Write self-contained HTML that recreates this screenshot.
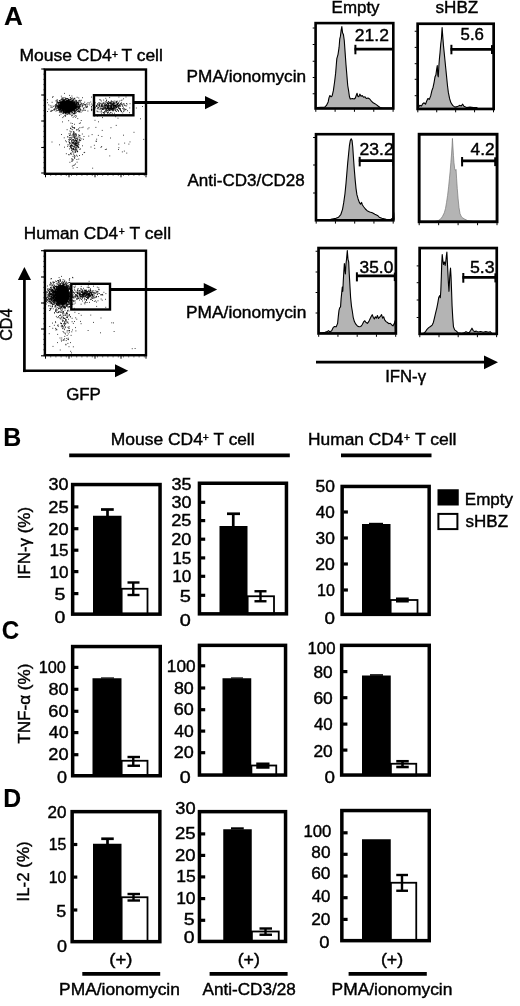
<!DOCTYPE html>
<html lang="en"><head><meta charset="utf-8"><title>Figure</title>
<style>
html,body{margin:0;padding:0;background:#fff}
svg{display:block}
text{font-family:"Liberation Sans",sans-serif;fill:#000;stroke:#000;stroke-width:.4px}
text.b{stroke-width:.1px}
</style></head>
<body>
<svg width="520" height="1006" viewBox="0 0 520 1006">
<rect width="520" height="1006" fill="#fff"/>
<text x="3.95" y="25.30" font-size="25.5" font-weight="700" class="b" textLength="18.84" lengthAdjust="spacingAndGlyphs">A</text>
<text><tspan x="19.57" y="60.70" font-size="16" textLength="92.25" lengthAdjust="spacingAndGlyphs">Mouse CD4</tspan> <tspan x="112.10" y="57.53" font-size="10" textLength="6.01" lengthAdjust="spacingAndGlyphs">+</tspan> <tspan x="121.51" y="60.70" font-size="16" textLength="41.35" lengthAdjust="spacingAndGlyphs">T cell</tspan></text>
<path d="M67.5 103.3h.8M68.8 107.3h.8M66.3 100.1h.8M63.6 109.6h.8M65.5 104.6h.8M63.1 103.7h.8M67.8 107.0h.8M73.4 109.0h.8M65.3 107.0h.8M64.8 109.1h.8M69.7 106.4h.8M69.1 109.6h.8M68.0 109.6h.8M63.4 105.7h.8M67.4 110.2h.8M70.6 106.5h.8M61.6 106.3h.8M65.5 103.3h.8M59.1 105.2h.8M61.8 108.3h.8M59.4 102.2h.8M66.5 107.9h.8M61.9 107.0h.8M68.7 106.8h.8M68.2 99.6h.8M66.7 105.7h.8M56.4 107.9h.8M65.1 103.8h.8M67.3 106.3h.8M68.0 99.1h.8M60.8 107.9h.8M65.4 104.1h.8M63.2 108.5h.8M63.9 100.7h.8M72.2 108.0h.8M63.9 105.3h.8M67.4 108.3h.8M71.4 103.3h.8M64.9 104.2h.8M67.0 112.5h.8M68.0 103.6h.8M67.8 104.0h.8M62.1 105.2h.8M67.8 103.0h.8M73.5 109.5h.8M60.7 111.0h.8M71.3 104.0h.8M68.0 101.0h.8M64.7 109.4h.8M76.3 109.2h.8M70.9 108.4h.8M62.2 109.4h.8M67.8 103.5h.8M70.0 105.5h.8M66.7 102.0h.8M70.5 101.9h.8M67.2 108.8h.8M70.4 104.1h.8M73.8 112.6h.8M64.5 106.2h.8M68.4 104.1h.8M65.5 108.3h.8M68.1 111.2h.8M62.3 107.4h.8M65.0 102.5h.8M66.6 107.1h.8M71.5 110.0h.8M72.5 104.6h.8M61.7 103.8h.8M64.0 108.9h.8M70.3 106.4h.8M58.7 102.8h.8M65.5 104.9h.8M67.1 103.8h.8M73.0 106.9h.8M70.5 106.3h.8M66.1 109.3h.8M65.9 108.1h.8M66.4 101.5h.8M74.2 107.2h.8M65.6 108.6h.8M66.2 107.3h.8M69.1 109.0h.8M67.0 104.4h.8M66.6 103.2h.8M62.6 108.7h.8M67.4 102.9h.8M65.5 99.7h.8M72.6 109.0h.8M70.4 103.9h.8M67.4 105.1h.8M70.4 101.9h.8M66.0 102.2h.8M72.1 102.6h.8M67.5 105.0h.8M70.1 107.1h.8M61.8 99.3h.8M69.0 108.2h.8M60.1 102.6h.8M58.5 102.9h.8M66.2 108.0h.8M63.5 105.8h.8M68.2 101.5h.8M77.4 111.3h.8M63.8 103.5h.8M64.8 106.7h.8M68.4 106.6h.8M69.7 110.1h.8M66.7 104.7h.8M66.6 108.9h.8M70.6 103.8h.8M69.8 109.3h.8M63.0 103.8h.8M67.2 104.9h.8M67.7 111.5h.8M62.9 106.9h.8M68.6 106.3h.8M63.7 112.5h.8M71.8 107.0h.8M68.3 103.6h.8M67.9 108.1h.8M64.9 102.6h.8M67.0 109.3h.8M58.7 109.5h.8M62.5 104.3h.8M69.1 104.2h.8M58.1 106.5h.8M71.2 106.0h.8M59.8 103.2h.8M70.8 107.6h.8M63.8 100.1h.8M70.9 104.7h.8M68.1 104.8h.8M60.7 105.2h.8M73.0 106.9h.8M73.8 102.4h.8M67.2 107.7h.8M66.3 105.5h.8M66.8 104.1h.8M63.2 102.0h.8M72.3 102.6h.8M65.1 107.0h.8M67.3 103.2h.8M64.0 106.2h.8M64.7 109.1h.8M61.9 109.0h.8M73.0 110.5h.8M66.8 105.1h.8M71.8 102.9h.8M67.6 109.0h.8M64.4 106.9h.8M66.1 109.3h.8M65.0 106.0h.8M67.5 109.5h.8M65.8 108.5h.8M66.2 108.1h.8M61.4 107.5h.8M63.9 107.2h.8M74.8 106.7h.8M64.5 106.7h.8M62.9 108.9h.8M69.0 104.5h.8M73.7 111.0h.8M61.1 105.7h.8M66.6 108.9h.8M64.7 105.7h.8M59.8 105.3h.8M70.7 111.9h.8M67.4 105.1h.8M67.8 102.3h.8M64.2 103.9h.8M69.5 105.1h.8M65.1 112.3h.8M66.9 106.6h.8M62.6 108.7h.8M62.1 103.1h.8M73.4 107.0h.8M65.3 107.9h.8M68.8 111.2h.8M67.4 104.0h.8M65.6 107.8h.8M65.3 106.9h.8M70.3 103.0h.8M66.2 105.9h.8M66.8 105.2h.8M67.6 99.3h.8M72.7 107.7h.8M70.5 107.6h.8M69.2 104.7h.8M65.0 102.1h.8M61.4 110.3h.8M71.7 106.8h.8M71.8 108.9h.8M66.9 110.1h.8M69.9 104.5h.8M70.9 108.4h.8M71.2 105.3h.8M71.6 105.8h.8M65.5 105.8h.8M74.2 106.0h.8M62.0 109.2h.8M71.3 106.4h.8M69.7 105.6h.8M71.3 105.2h.8M75.8 107.0h.8M74.0 103.4h.8M62.5 104.5h.8M60.1 105.8h.8M71.1 104.4h.8M63.0 105.7h.8M67.4 104.2h.8M71.2 111.8h.8M60.3 109.9h.8M58.2 107.3h.8M68.6 105.8h.8M67.7 112.4h.8M66.4 106.9h.8M67.7 105.7h.8M63.7 106.9h.8M60.8 106.9h.8M66.8 110.1h.8M63.2 105.9h.8M60.3 112.1h.8M69.7 103.4h.8M67.2 108.0h.8M69.3 103.1h.8M63.1 111.3h.8M64.6 105.0h.8M63.1 105.8h.8M63.6 108.7h.8M68.4 109.6h.8M64.1 102.8h.8M69.1 105.0h.8M69.0 102.0h.8M76.4 106.4h.8M61.4 105.7h.8M71.4 105.0h.8M67.1 104.0h.8M67.4 104.9h.8M61.1 103.8h.8M65.5 107.5h.8M70.8 110.4h.8M67.1 100.4h.8M67.9 105.7h.8M66.2 104.8h.8M72.6 107.4h.8M67.4 103.2h.8M57.8 105.6h.8M64.5 103.0h.8M58.8 108.0h.8M53.2 106.3h.8M65.2 105.5h.8M73.4 107.1h.8M67.7 105.3h.8M62.3 101.5h.8M63.4 107.7h.8M72.5 106.8h.8M68.2 105.6h.8M67.7 108.9h.8M67.3 109.5h.8M67.7 102.8h.8M71.0 103.7h.8M69.9 110.5h.8M68.4 110.1h.8M62.9 103.9h.8M69.7 102.6h.8M64.5 104.2h.8M72.3 104.6h.8M61.9 101.4h.8M66.9 106.1h.8M67.5 102.3h.8M61.7 102.5h.8M75.1 108.7h.8M73.9 104.0h.8M65.5 105.8h.8M70.9 107.8h.8M69.2 108.4h.8M56.0 105.0h.8M68.6 106.1h.8M67.2 103.6h.8M67.9 111.1h.8M62.8 107.9h.8M66.3 102.8h.8M66.7 106.0h.8M72.7 108.1h.8M69.0 107.4h.8M67.5 111.3h.8M74.2 110.0h.8M65.1 104.4h.8M65.8 105.7h.8M59.5 102.3h.8M74.4 106.7h.8M71.7 106.4h.8M71.5 113.8h.8M70.4 106.3h.8M68.0 99.9h.8M68.4 104.1h.8M66.4 106.3h.8M66.6 102.4h.8M67.7 103.5h.8M74.2 104.9h.8M69.9 107.0h.8M67.2 105.5h.8M65.0 103.4h.8M64.7 108.3h.8M74.6 104.4h.8M69.7 104.6h.8M67.8 102.0h.8M66.0 103.7h.8M62.6 107.9h.8M67.2 101.3h.8M71.3 105.8h.8M65.8 108.1h.8M66.5 104.9h.8M66.5 106.7h.8M68.0 102.8h.8M60.5 109.8h.8M66.5 109.2h.8M63.7 106.7h.8M71.4 100.9h.8M64.1 103.0h.8M70.0 108.8h.8M74.2 111.0h.8M66.1 106.9h.8M64.9 109.6h.8M68.3 104.2h.8M67.5 105.5h.8M63.1 106.0h.8M69.5 107.2h.8M76.4 101.6h.8M66.4 108.7h.8M66.6 109.8h.8M62.9 102.7h.8M68.9 102.1h.8M62.0 107.0h.8M62.6 104.1h.8M73.1 99.1h.8M63.5 108.3h.8M72.3 106.5h.8M74.2 104.6h.8M68.6 112.1h.8M69.9 106.4h.8M76.1 103.8h.8M66.6 106.3h.8M64.9 103.0h.8M61.5 103.8h.8M67.7 107.1h.8M74.0 104.4h.8M71.7 104.7h.8M63.4 110.8h.8M63.7 108.5h.8M65.3 108.3h.8M68.8 107.5h.8M66.6 107.4h.8M68.4 110.2h.8M68.8 105.9h.8M66.2 111.4h.8M67.3 103.2h.8M68.4 105.3h.8M67.1 102.0h.8M69.7 105.0h.8M75.7 107.5h.8M70.1 110.2h.8M67.7 104.1h.8M60.1 106.0h.8M69.2 105.0h.8M58.9 103.9h.8M61.3 102.6h.8M71.3 106.2h.8M70.6 101.0h.8M66.8 106.3h.8M60.0 106.1h.8M65.9 104.1h.8M64.5 103.1h.8M70.3 102.0h.8M77.4 111.4h.8M68.5 102.1h.8M64.1 110.5h.8M62.3 107.7h.8M67.3 104.9h.8M66.7 102.6h.8M62.4 109.0h.8M68.0 111.0h.8M62.4 103.3h.8M72.4 105.1h.8M72.2 109.0h.8M72.3 107.0h.8M65.4 111.8h.8M69.8 104.3h.8M66.9 107.6h.8M65.8 102.4h.8M66.0 112.1h.8M61.8 103.9h.8M61.1 99.6h.8M71.0 105.6h.8M66.7 105.6h.8M68.5 111.6h.8M71.9 105.0h.8M59.9 106.0h.8M64.0 107.7h.8M68.3 110.6h.8M69.2 105.8h.8M65.8 109.0h.8M72.0 107.5h.8M68.4 105.1h.8M62.2 106.2h.8M63.4 106.1h.8M71.0 103.3h.8M69.5 109.5h.8M59.1 102.0h.8M73.4 109.4h.8M70.1 108.8h.8M73.4 105.7h.8M65.8 103.8h.8M66.2 105.3h.8M62.5 107.4h.8M78.7 108.2h.8M66.7 106.8h.8M74.5 108.9h.8M64.7 104.4h.8M68.2 106.7h.8M60.1 101.5h.8M65.8 108.2h.8M71.8 106.4h.8M62.0 104.8h.8M72.2 109.4h.8M69.0 108.0h.8M62.9 97.8h.8M65.3 106.1h.8M65.5 101.8h.8M67.3 109.1h.8M65.1 113.2h.8M63.9 104.5h.8M66.2 106.2h.8M63.0 105.3h.8M61.8 107.0h.8M67.3 107.9h.8M71.4 109.7h.8M60.8 103.1h.8M67.5 110.6h.8M64.6 103.3h.8M63.2 106.8h.8M71.3 109.4h.8M65.2 108.1h.8M74.1 103.3h.8M64.1 104.0h.8M69.2 104.7h.8M66.5 105.9h.8M64.2 109.3h.8M70.1 102.3h.8M66.8 107.4h.8M70.2 107.8h.8M67.3 107.6h.8M62.7 107.4h.8M67.1 110.4h.8M67.7 107.4h.8M71.7 108.5h.8M63.5 107.6h.8M67.3 111.2h.8M59.9 100.5h.8M70.4 109.7h.8M62.7 105.2h.8M59.6 105.2h.8M67.2 103.2h.8M72.4 100.6h.8M60.8 104.9h.8M62.7 104.0h.8M64.2 107.4h.8M62.5 101.7h.8M69.2 110.2h.8M63.9 106.8h.8M64.3 105.3h.8M70.1 103.9h.8M64.2 103.7h.8M69.4 102.7h.8M63.2 104.4h.8M62.2 106.0h.8M59.4 105.5h.8M75.7 101.9h.8M66.1 105.2h.8M68.6 103.4h.8M67.4 106.5h.8M68.2 111.4h.8M67.7 107.8h.8M75.9 105.1h.8M62.9 101.3h.8M60.6 101.9h.8M63.0 101.1h.8M61.6 108.1h.8M70.8 103.8h.8M71.1 106.2h.8M63.3 104.2h.8M61.4 106.3h.8M65.9 110.1h.8M73.6 104.0h.8M55.1 105.0h.8M69.8 103.7h.8M62.8 108.5h.8M72.1 103.0h.8M62.8 102.7h.8M66.2 102.0h.8M60.9 101.9h.8M63.2 107.4h.8M73.6 113.5h.8M71.1 103.1h.8M65.7 108.8h.8M63.7 106.7h.8M59.2 102.8h.8M65.8 105.2h.8M67.4 105.3h.8M67.1 104.0h.8M67.1 111.6h.8M62.6 100.5h.8M67.2 107.1h.8M67.3 107.0h.8M73.2 104.3h.8M75.7 106.4h.8M66.9 108.5h.8M64.1 106.4h.8M67.2 107.2h.8M64.8 108.0h.8M64.2 100.1h.8M67.2 110.3h.8M62.9 112.6h.8M70.2 108.8h.8M67.0 108.9h.8M68.6 101.9h.8M66.7 105.7h.8M64.3 103.6h.8M63.3 104.3h.8M66.5 108.8h.8M65.1 103.7h.8M68.5 105.6h.8M67.5 100.5h.8M61.5 105.5h.8M67.8 106.3h.8M61.6 104.0h.8M64.8 103.9h.8M66.2 111.5h.8M58.4 102.5h.8M67.9 103.0h.8M68.2 103.7h.8M66.8 109.5h.8M65.6 112.1h.8M65.9 107.0h.8M63.2 103.9h.8M66.3 104.8h.8M65.1 109.1h.8M67.9 103.4h.8M62.2 110.2h.8M68.5 110.1h.8M68.1 106.2h.8M66.9 107.9h.8M65.6 108.2h.8M69.9 110.5h.8M60.2 103.0h.8M69.5 109.4h.8M68.6 104.9h.8M68.7 103.8h.8M69.2 106.3h.8M64.6 105.4h.8M66.4 103.1h.8M70.3 101.4h.8M69.4 103.3h.8M68.4 110.2h.8M60.8 111.7h.8M69.9 107.9h.8M72.6 109.4h.8M71.9 104.5h.8M68.5 105.8h.8M60.6 106.8h.8M71.6 102.9h.8M66.9 103.1h.8M56.4 106.3h.8M69.2 105.1h.8M60.9 102.9h.8M61.8 107.1h.8M64.7 105.2h.8M73.1 109.0h.8M65.9 106.0h.8M68.7 105.1h.8M75.2 106.4h.8M74.5 105.5h.8M67.0 104.1h.8M66.4 104.8h.8M62.0 108.2h.8M64.4 107.9h.8M69.4 109.7h.8M69.2 101.1h.8M68.0 104.9h.8M71.9 104.8h.8M64.1 106.5h.8M67.3 104.7h.8M70.7 104.5h.8M70.1 108.3h.8M72.2 106.5h.8M69.2 102.6h.8M66.1 109.9h.8M69.1 108.9h.8M63.1 104.3h.8M60.3 108.4h.8M70.1 103.9h.8M67.3 109.3h.8M68.9 105.4h.8M60.0 103.7h.8M65.9 104.9h.8M64.9 103.8h.8M63.7 106.6h.8M57.6 106.5h.8M66.0 106.1h.8M71.4 104.4h.8M69.2 95.4h.8M64.9 106.3h.8M67.4 100.5h.8M70.8 106.7h.8M55.4 109.3h.8M67.0 106.8h.8M69.9 104.9h.8M70.5 105.5h.8M75.0 105.6h.8M72.5 104.4h.8M68.9 104.3h.8M68.8 103.3h.8M71.0 109.4h.8M65.1 106.0h.8M67.3 108.8h.8M71.5 105.3h.8M76.1 106.2h.8M66.8 105.5h.8M67.3 107.3h.8M68.4 108.4h.8M73.4 106.7h.8M67.4 104.0h.8M74.0 103.7h.8M63.2 110.8h.8M66.7 105.2h.8M66.6 105.2h.8M71.0 110.2h.8M72.1 109.2h.8M60.9 107.5h.8M63.5 104.8h.8M69.0 112.8h.8M64.6 107.1h.8M60.8 107.6h.8M72.1 105.5h.8M69.7 101.9h.8M69.7 102.1h.8M65.4 107.2h.8M72.0 107.1h.8M66.4 105.3h.8M72.3 102.6h.8M63.5 101.8h.8M63.7 105.0h.8M68.4 101.8h.8M64.4 108.6h.8M70.5 109.3h.8M68.6 114.2h.8M63.4 108.5h.8M67.8 104.3h.8M66.0 103.5h.8M71.5 96.0h.8M64.7 104.3h.8M65.6 105.5h.8M72.8 108.8h.8M77.3 107.8h.8M76.3 107.7h.8M67.8 106.6h.8M68.5 107.9h.8M74.2 110.2h.8M67.0 102.9h.8M63.2 104.7h.8M68.0 102.0h.8M69.5 110.7h.8M63.9 109.8h.8M60.3 108.2h.8M61.2 102.5h.8M70.4 106.5h.8M64.2 105.3h.8M66.9 106.2h.8M68.4 105.5h.8M70.2 107.5h.8M66.0 104.9h.8M69.7 108.5h.8M63.6 106.7h.8M65.9 105.2h.8M63.0 105.7h.8M72.5 104.7h.8M67.4 108.4h.8M64.2 105.2h.8M65.9 106.9h.8M66.5 104.9h.8M70.6 101.7h.8M60.5 108.6h.8M62.9 102.9h.8M65.8 108.0h.8M78.6 107.2h.8M71.7 101.2h.8M67.0 103.3h.8M70.6 104.5h.8M76.6 103.6h.8M66.5 102.6h.8M65.9 108.1h.8M72.8 105.3h.8M69.7 107.1h.8M70.5 104.8h.8M65.3 106.9h.8M76.0 103.8h.8M75.0 105.9h.8M70.0 107.7h.8M70.5 106.1h.8M58.6 104.7h.8M70.3 102.8h.8M66.6 106.5h.8M69.4 107.0h.8M70.5 105.3h.8M66.0 103.8h.8M60.1 107.6h.8M69.1 113.2h.8M64.2 105.1h.8M66.0 107.0h.8M64.8 107.1h.8M66.0 98.6h.8M57.3 106.4h.8M72.9 104.0h.8M68.6 110.0h.8M72.4 105.3h.8M76.2 103.7h.8M67.6 105.4h.8M59.6 106.5h.8M63.6 104.4h.8M62.2 105.8h.8M65.3 102.1h.8M67.9 105.3h.8M58.7 108.2h.8M69.0 111.7h.8M60.9 108.0h.8M68.8 106.8h.8M67.0 109.4h.8M66.1 109.0h.8M67.2 110.8h.8M65.1 109.1h.8M64.8 105.7h.8M60.1 106.7h.8M67.4 106.5h.8M75.6 106.9h.8M76.2 106.6h.8M73.3 103.7h.8M70.6 99.9h.8M64.5 104.1h.8M73.8 100.1h.8M67.3 106.2h.8M67.2 106.0h.8M66.2 101.1h.8M67.9 108.0h.8M65.6 108.5h.8M67.1 106.3h.8M62.7 110.8h.8M65.9 111.4h.8M77.5 102.5h.8M67.2 109.0h.8M66.4 107.3h.8M69.8 107.2h.8M70.6 108.7h.8M62.6 103.9h.8M66.6 104.3h.8M71.5 103.6h.8M68.7 103.8h.8M68.0 105.7h.8M74.3 101.8h.8M64.5 103.0h.8M67.9 107.7h.8M65.2 105.8h.8M74.1 107.1h.8M58.9 100.5h.8M64.6 103.7h.8M65.2 104.4h.8M70.4 106.1h.8M70.2 104.3h.8M73.6 108.7h.8M60.6 105.8h.8M70.8 106.0h.8M66.2 106.0h.8M64.6 108.1h.8M69.9 104.6h.8M63.5 109.3h.8M58.4 107.3h.8M65.9 106.4h.8M60.9 106.1h.8M64.6 107.5h.8M69.1 108.9h.8M68.9 108.7h.8M74.5 107.1h.8M66.6 108.5h.8M60.8 106.3h.8M64.2 109.6h.8M63.5 105.9h.8M62.1 100.0h.8M69.4 109.9h.8M64.7 106.3h.8M58.8 102.6h.8M70.6 105.4h.8M67.0 103.4h.8M69.1 112.1h.8M68.0 107.4h.8M70.3 101.5h.8M67.7 107.6h.8M72.9 104.8h.8M69.4 111.6h.8M69.2 102.9h.8M69.3 99.5h.8M61.1 106.2h.8M66.8 105.0h.8M66.4 104.8h.8M68.4 99.8h.8M61.5 107.2h.8M74.7 110.9h.8M68.0 100.5h.8M62.2 109.4h.8M60.0 104.4h.8M66.3 112.8h.8M67.1 107.3h.8M64.3 105.5h.8M67.9 109.2h.8M64.7 107.5h.8M69.9 104.3h.8M64.3 108.1h.8M67.3 104.5h.8M71.8 100.8h.8M78.8 111.9h.8M63.1 105.0h.8M65.5 104.2h.8M63.8 107.0h.8M71.0 101.5h.8M62.4 102.1h.8M65.4 104.6h.8M67.4 104.5h.8M63.2 106.2h.8M63.3 109.3h.8M65.4 104.6h.8M58.3 107.4h.8M61.1 107.7h.8M65.7 102.9h.8M68.2 106.7h.8M66.7 103.3h.8M59.7 109.1h.8M65.5 107.3h.8M71.0 106.0h.8M69.9 102.1h.8M67.2 106.3h.8M63.6 103.8h.8M70.3 108.0h.8M65.0 105.7h.8M62.4 103.6h.8M64.0 108.7h.8M73.9 108.1h.8M68.5 104.3h.8M72.6 109.4h.8M65.4 105.1h.8M71.6 105.1h.8M64.9 106.4h.8M66.8 103.8h.8M78.4 104.7h.8M70.9 105.5h.8M65.3 110.4h.8M67.1 110.3h.8M68.9 105.2h.8M72.8 110.7h.8M65.3 105.9h.8M59.8 107.1h.8M66.3 108.6h.8M67.6 106.8h.8M68.0 113.0h.8M73.3 106.7h.8M68.9 102.5h.8M71.1 109.8h.8M62.7 104.8h.8M71.3 105.1h.8M76.7 97.3h.8M70.9 108.9h.8M68.6 108.4h.8M68.2 108.3h.8M75.4 108.8h.8M63.4 110.9h.8M67.0 105.9h.8M69.5 108.7h.8M70.8 103.8h.8M65.6 105.0h.8M68.9 109.1h.8M66.3 107.1h.8M68.0 102.1h.8M66.9 107.0h.8M62.5 105.5h.8M67.4 103.6h.8M71.4 107.3h.8M63.2 104.8h.8M66.4 101.4h.8M70.4 102.8h.8M62.8 111.1h.8M68.3 101.6h.8M62.8 106.6h.8M72.5 107.8h.8M77.7 107.9h.8M76.4 102.4h.8M66.5 105.1h.8M70.8 106.4h.8M68.0 108.3h.8M67.9 104.1h.8M74.3 102.6h.8M61.7 108.9h.8M72.1 109.2h.8M67.3 107.1h.8M73.7 104.2h.8M68.3 107.2h.8M64.5 106.3h.8M68.7 108.4h.8M70.7 102.4h.8M67.7 106.3h.8M69.6 105.5h.8M65.2 102.8h.8M58.1 106.6h.8M71.5 106.1h.8M70.6 104.8h.8M68.2 107.1h.8M67.8 101.9h.8M72.1 105.8h.8M65.5 107.3h.8M64.4 106.8h.8M66.7 109.1h.8M72.7 102.5h.8M61.4 101.6h.8M72.7 106.7h.8M64.7 107.3h.8M62.7 112.1h.8M73.0 107.8h.8M67.1 103.5h.8M61.8 108.3h.8M65.9 103.5h.8M71.6 101.7h.8M72.7 113.6h.8M65.6 106.9h.8M69.3 108.1h.8M70.6 107.6h.8M64.7 111.3h.8M69.1 106.8h.8M67.4 109.5h.8M65.1 103.0h.8M65.3 102.0h.8M67.8 110.1h.8M67.6 110.3h.8M65.0 107.5h.8M65.6 106.7h.8M72.4 106.5h.8M68.4 104.0h.8M71.4 110.5h.8M72.8 107.9h.8M70.1 107.5h.8M77.5 107.1h.8M63.9 109.0h.8M71.1 107.5h.8M66.1 108.2h.8M75.7 102.6h.8M75.0 107.5h.8M58.9 112.3h.8M63.2 104.5h.8M70.4 105.6h.8M71.0 108.6h.8M70.7 108.8h.8M67.2 107.8h.8M69.5 101.3h.8M70.4 107.5h.8M67.2 102.6h.8M72.0 103.6h.8M57.6 107.6h.8M70.3 105.1h.8M63.0 108.3h.8M71.7 115.1h.8M66.5 108.3h.8M63.6 108.1h.8M69.1 103.4h.8M63.5 104.1h.8M63.5 102.9h.8M60.6 104.5h.8M67.4 102.8h.8M69.7 104.1h.8M72.0 105.4h.8M66.9 103.1h.8M72.1 101.9h.8M67.6 102.1h.8M67.1 107.3h.8M70.0 106.2h.8M72.2 109.0h.8M66.0 109.0h.8M66.4 105.0h.8M66.8 107.9h.8M67.9 101.8h.8M63.5 112.6h.8M72.0 109.5h.8M65.7 105.4h.8M69.5 102.6h.8M63.9 107.1h.8M69.1 100.6h.8M69.2 103.7h.8M65.6 108.2h.8M76.4 106.2h.8M69.1 104.6h.8M75.3 108.8h.8M71.7 103.0h.8M64.6 106.8h.8M65.8 104.6h.8M69.4 103.5h.8M67.8 107.3h.8M67.7 103.1h.8M66.2 111.5h.8M59.5 104.3h.8M66.5 111.8h.8M57.7 102.8h.8M69.1 107.8h.8M64.3 102.5h.8M64.4 102.1h.8M66.5 106.5h.8M68.7 108.0h.8M61.2 102.3h.8M59.8 109.4h.8M62.8 103.7h.8M58.5 106.4h.8M63.2 107.1h.8M74.5 107.7h.8M62.9 100.8h.8M70.4 110.7h.8M61.5 107.6h.8M68.8 104.8h.8M66.1 103.0h.8M67.2 101.1h.8M70.0 102.1h.8M75.2 107.6h.8M68.4 105.0h.8M68.0 102.7h.8M63.2 104.5h.8M70.1 110.5h.8M66.4 105.0h.8M71.2 104.3h.8M67.3 109.9h.8M75.2 107.3h.8M58.8 106.1h.8M66.2 104.2h.8M71.4 101.5h.8M66.0 102.6h.8M64.0 104.6h.8M66.3 105.4h.8M61.4 107.0h.8M68.0 107.6h.8M78.2 106.6h.8M72.5 106.6h.8M62.6 103.1h.8M63.7 99.8h.8M65.7 104.5h.8M71.9 103.2h.8M63.9 104.1h.8M64.5 105.2h.8M71.4 102.4h.8M71.3 102.8h.8M65.9 105.7h.8M62.6 106.3h.8M60.7 104.1h.8M64.4 107.4h.8M57.7 105.4h.8M70.8 103.0h.8M64.7 106.1h.8M69.6 111.5h.8M75.7 104.0h.8M72.7 109.4h.8M62.4 110.0h.8M71.3 110.3h.8M72.6 103.6h.8M64.2 111.8h.8M63.3 106.3h.8M67.0 105.3h.8M60.5 105.3h.8M74.0 107.7h.8M56.9 106.1h.8M62.6 105.5h.8M66.3 109.7h.8M66.5 103.9h.8M68.2 103.0h.8M68.7 108.3h.8M66.6 108.0h.8M72.5 109.2h.8M58.1 102.9h.8M67.5 109.1h.8M64.4 107.4h.8M68.1 111.1h.8M68.5 102.4h.8M63.5 106.6h.8M64.7 105.2h.8M71.0 101.4h.8M69.0 103.9h.8M64.5 109.3h.8M76.5 104.6h.8M77.7 103.9h.8M61.1 108.5h.8M68.8 108.9h.8M78.5 108.9h.8M70.9 103.7h.8M68.5 105.8h.8M66.6 109.0h.8M65.1 104.1h.8M66.6 103.8h.8M65.1 108.4h.8M70.8 110.5h.8M65.7 102.7h.8M65.6 98.5h.8M62.2 101.8h.8M67.3 103.1h.8M63.6 105.6h.8M66.7 107.8h.8M72.1 105.6h.8M69.1 104.0h.8M69.7 106.4h.8M69.1 103.2h.8M67.8 105.9h.8M66.9 104.1h.8M66.1 113.8h.8M70.8 108.4h.8M62.7 103.6h.8M73.4 103.1h.8M67.6 104.7h.8M64.2 101.2h.8M65.3 103.9h.8M64.5 103.9h.8M68.2 108.6h.8M64.3 104.8h.8M72.5 103.7h.8M64.1 102.1h.8M57.5 102.6h.8M64.3 105.8h.8M58.7 105.4h.8M67.3 109.3h.8M72.2 104.2h.8M70.4 109.1h.8M61.6 106.7h.8M64.1 106.0h.8M75.3 100.2h.8M68.9 102.3h.8M67.5 108.2h.8M72.1 110.1h.8M78.3 106.6h.8M73.2 108.2h.8M68.1 104.8h.8M69.1 104.9h.8M70.2 104.1h.8M64.8 108.8h.8M62.8 107.0h.8M67.7 105.3h.8M63.3 105.0h.8M67.2 107.6h.8M67.9 106.9h.8M77.8 103.6h.8M63.8 111.0h.8M67.0 106.7h.8M66.8 106.0h.8M69.4 110.3h.8M72.1 109.0h.8M65.3 105.7h.8M63.9 107.6h.8M60.3 102.9h.8M63.4 104.1h.8M69.9 99.4h.8M67.7 109.5h.8M63.0 100.5h.8M65.9 108.0h.8M67.6 103.6h.8M69.7 103.2h.8M64.9 105.4h.8M66.4 106.8h.8M59.5 107.8h.8M62.4 111.1h.8M74.6 107.0h.8M57.9 108.6h.8M66.0 104.3h.8M68.5 108.1h.8M65.9 106.4h.8M63.9 104.7h.8M67.2 105.7h.8M67.5 105.8h.8M67.1 106.6h.8M59.2 107.2h.8M66.9 104.5h.8M63.7 103.9h.8M65.1 108.2h.8M68.5 101.1h.8M70.3 104.2h.8M71.4 110.5h.8M65.3 98.1h.8M71.6 104.0h.8M72.7 108.0h.8M72.5 101.2h.8M73.6 113.5h.8M66.9 98.5h.8M66.7 110.2h.8M71.1 110.5h.8M61.5 108.7h.8M68.4 105.4h.8M65.2 107.0h.8M65.9 103.4h.8M59.8 108.3h.8M63.6 102.8h.8M67.4 105.2h.8M71.4 108.9h.8M71.9 102.8h.8M67.1 104.9h.8M66.7 106.5h.8M63.8 102.1h.8M69.3 109.4h.8M66.4 107.0h.8M70.2 101.6h.8M75.2 105.9h.8M67.4 103.8h.8M60.9 104.1h.8M63.7 106.2h.8M61.1 103.9h.8M62.2 108.8h.8M73.2 104.0h.8M68.5 108.8h.8M60.8 105.9h.8M70.4 108.5h.8M73.0 104.4h.8M65.9 104.5h.8M64.5 102.7h.8M66.0 107.7h.8M68.8 108.7h.8M70.3 112.1h.8M72.7 109.7h.8M72.8 106.7h.8M72.7 105.4h.8M73.5 107.1h.8M70.4 105.9h.8M60.8 110.2h.8M66.9 108.7h.8M68.9 103.6h.8M65.8 104.0h.8M71.5 110.0h.8M65.9 106.9h.8M63.4 105.3h.8M73.9 109.4h.8M70.4 104.9h.8M68.5 105.2h.8M71.6 104.7h.8M72.2 100.3h.8M69.0 108.5h.8M56.7 102.5h.8M64.5 104.4h.8M65.5 103.8h.8M63.2 108.1h.8M68.4 105.8h.8M72.7 106.0h.8M65.4 101.1h.8M62.5 105.7h.8M76.4 101.7h.8M65.5 106.9h.8M62.1 107.1h.8M68.5 105.9h.8M69.4 111.9h.8M64.4 107.5h.8M71.0 107.7h.8M65.4 106.4h.8M63.4 105.4h.8M68.3 108.8h.8M70.9 109.2h.8M64.7 102.2h.8M69.0 109.1h.8M67.1 107.5h.8M79.9 108.8h.8M64.4 107.4h.8M73.6 102.4h.8M67.3 102.6h.8M66.9 111.3h.8M70.7 106.7h.8M71.4 101.9h.8M73.1 107.0h.8M68.9 104.9h.8M64.9 100.7h.8M65.1 99.4h.8M69.7 101.4h.8M70.1 106.8h.8M73.7 105.9h.8M69.3 105.3h.8M72.2 106.8h.8M74.2 107.7h.8M68.2 99.9h.8M61.0 105.1h.8M62.3 103.6h.8M61.2 102.4h.8M74.5 104.4h.8M63.8 105.6h.8M72.9 105.2h.8M70.1 101.8h.8M75.0 104.6h.8M71.9 111.8h.8M67.0 102.9h.8M66.6 101.1h.8M67.9 106.8h.8M68.3 107.7h.8M65.2 107.3h.8M67.4 102.8h.8M74.6 108.9h.8M60.0 103.7h.8M68.6 102.7h.8M63.5 104.2h.8M68.3 105.7h.8M71.2 108.1h.8M67.2 107.8h.8M70.9 105.9h.8M60.5 108.7h.8M72.4 106.2h.8M64.8 108.6h.8M70.2 101.9h.8M68.3 101.4h.8M56.1 108.2h.8M64.2 102.0h.8M68.5 105.1h.8M74.3 105.7h.8M68.8 104.6h.8M68.6 104.7h.8M61.3 110.0h.8M73.8 98.7h.8M75.5 108.6h.8M67.6 112.7h.8M66.5 106.1h.8M60.4 105.9h.8M71.4 108.1h.8M79.4 111.3h.8M70.7 102.6h.8M73.1 106.3h.8M69.9 105.5h.8M63.2 107.6h.8M73.4 106.5h.8M62.1 107.9h.8M66.6 104.8h.8M68.7 106.1h.8M71.4 104.1h.8M69.3 104.1h.8M69.2 105.6h.8M64.1 105.6h.8M61.8 102.6h.8M67.8 110.6h.8M64.4 105.6h.8M61.7 102.0h.8M61.9 109.2h.8M65.3 103.8h.8M59.3 107.5h.8M61.6 106.0h.8M60.3 106.7h.8M68.3 106.5h.8M69.3 104.3h.8M76.3 106.1h.8M60.9 111.9h.8M64.5 99.5h.8M71.5 106.2h.8M66.5 107.3h.8M66.1 102.9h.8M75.0 102.0h.8M66.0 112.3h.8M62.4 104.9h.8M61.7 112.0h.8M69.0 107.6h.8M68.8 106.2h.8M61.5 107.4h.8M63.2 107.8h.8M69.9 109.4h.8M70.0 107.3h.8M64.7 106.4h.8M70.2 106.5h.8M70.0 109.9h.8M59.7 108.4h.8M66.1 103.1h.8M69.3 104.2h.8M65.0 107.0h.8M58.1 104.2h.8M66.3 104.9h.8M70.8 103.2h.8M74.5 105.2h.8M57.9 107.2h.8M79.0 108.9h.8M62.5 106.0h.8M71.7 112.0h.8M72.9 105.8h.8M71.8 115.3h.8M68.2 108.9h.8M62.4 107.4h.8M70.3 104.6h.8M64.4 97.8h.8M56.4 105.6h.8M79.9 106.5h.8M70.6 111.6h.8M75.5 102.0h.8M63.5 111.5h.8M74.0 105.3h.8M74.5 108.1h.8M74.3 98.6h.8M67.4 106.4h.8M62.2 105.0h.8M66.7 108.0h.8M57.8 106.3h.8M60.0 102.7h.8M67.9 108.7h.8M63.1 108.0h.8M66.8 107.7h.8M67.0 108.9h.8M76.0 109.2h.8M73.2 105.9h.8M67.3 102.1h.8M72.8 102.0h.8M64.1 109.9h.8M66.0 108.1h.8M71.5 106.3h.8M62.0 104.7h.8M66.3 106.1h.8M61.7 106.1h.8M68.0 105.0h.8M74.7 104.0h.8M64.2 112.3h.8M68.5 106.7h.8M63.6 104.2h.8M62.4 102.2h.8M62.1 103.9h.8M73.9 108.1h.8M77.9 108.2h.8M69.6 105.4h.8M64.3 106.1h.8M70.6 105.1h.8M66.0 102.8h.8M71.0 109.8h.8M68.8 107.1h.8M68.7 113.2h.8M70.2 103.8h.8M65.0 105.6h.8M65.7 108.6h.8M59.9 105.3h.8M65.6 102.0h.8M61.2 103.2h.8M66.9 106.3h.8M63.3 107.0h.8M67.9 105.7h.8M69.5 108.9h.8M61.3 108.9h.8M63.9 106.9h.8M63.3 106.1h.8M70.8 105.3h.8M75.0 107.6h.8M71.2 108.7h.8M66.0 106.2h.8M73.9 107.3h.8M60.8 105.1h.8M74.1 101.9h.8M64.6 103.1h.8M55.3 108.2h.8M79.2 107.3h.8M74.4 110.6h.8M63.0 106.2h.8M68.2 108.5h.8M66.6 109.8h.8M67.9 108.9h.8M61.0 104.2h.8M64.5 105.5h.8M69.6 106.4h.8M68.5 103.1h.8M72.8 107.4h.8M67.9 109.0h.8M77.8 104.6h.8M64.4 111.7h.8M68.6 105.2h.8M59.1 105.4h.8M62.0 105.3h.8M73.3 103.9h.8M63.4 107.2h.8M69.8 106.1h.8M67.2 110.8h.8M62.9 107.8h.8M66.0 107.6h.8M65.2 105.4h.8M65.4 101.9h.8M70.8 105.7h.8M70.4 103.5h.8M65.0 108.8h.8M63.5 105.9h.8M68.7 110.8h.8M67.1 108.1h.8M72.0 108.4h.8M79.2 106.7h.8M71.2 106.6h.8M67.3 107.9h.8M66.7 108.7h.8M63.7 103.9h.8M63.5 107.4h.8M63.1 113.6h.8M65.8 105.7h.8M65.6 105.3h.8M70.8 104.0h.8M65.7 101.8h.8M66.6 109.4h.8M62.1 106.2h.8M74.7 106.9h.8M69.7 111.4h.8M75.4 113.3h.8M71.0 103.4h.8M74.1 109.1h.8M66.4 107.8h.8M70.7 107.2h.8M79.4 107.4h.8M62.1 105.9h.8M72.7 110.6h.8M75.0 107.8h.8M69.4 107.0h.8M70.9 109.6h.8M73.1 108.6h.8M64.6 107.3h.8M69.3 107.0h.8M63.6 111.1h.8M64.5 107.5h.8M64.7 105.7h.8M66.9 103.5h.8M68.2 105.0h.8M69.5 103.0h.8M61.1 106.3h.8M76.4 106.8h.8M72.7 100.1h.8M70.8 106.1h.8M65.9 107.9h.8M67.1 106.5h.8M70.0 103.2h.8M69.4 109.7h.8M59.9 104.0h.8M70.8 102.4h.8M80.6 102.9h.8M59.2 106.0h.8M72.0 108.9h.8M69.2 109.4h.8M67.0 106.6h.8M73.7 102.5h.8M62.2 104.1h.8M68.2 103.4h.8M74.1 105.5h.8M66.6 100.9h.8M65.6 106.3h.8M68.0 107.9h.8M65.5 105.6h.8M74.5 107.3h.8M63.4 103.3h.8M71.4 101.8h.8M61.8 104.2h.8M70.5 109.4h.8M67.0 109.0h.8M55.8 104.7h.8M67.5 109.5h.8M62.7 105.1h.8M65.5 110.4h.8M74.5 107.4h.8M62.4 104.7h.8M62.7 108.3h.8M74.0 103.8h.8M68.0 103.3h.8M74.5 101.8h.8M69.0 106.7h.8M63.5 105.8h.8M67.2 105.8h.8M73.1 104.8h.8M71.8 110.2h.8M67.5 104.8h.8M67.7 103.9h.8M67.0 109.6h.8M64.9 110.1h.8M76.2 107.0h.8M67.5 101.0h.8M62.4 104.3h.8M65.3 107.8h.8M70.8 106.1h.8M70.4 110.5h.8M66.9 102.0h.8M64.5 108.0h.8M67.6 104.2h.8M59.9 109.8h.8M61.6 105.8h.8M71.1 109.0h.8M65.3 104.1h.8M69.2 101.9h.8M73.0 102.8h.8M70.4 104.2h.8M67.6 103.0h.8M77.1 109.5h.8M70.5 109.9h.8M65.9 106.8h.8M70.8 103.0h.8M69.3 105.7h.8M63.6 104.0h.8M67.8 110.2h.8M66.8 106.9h.8M58.6 107.4h.8M66.7 104.8h.8M66.2 100.2h.8M65.5 103.8h.8M60.1 102.8h.8M65.9 107.1h.8M67.3 106.3h.8M68.0 103.7h.8M62.4 104.9h.8M70.4 110.5h.8M62.0 103.2h.8M66.5 103.3h.8M73.4 105.3h.8M64.4 104.0h.8M65.2 104.8h.8M72.4 107.5h.8M65.8 111.0h.8M66.2 100.8h.8M68.5 105.9h.8M72.2 106.1h.8M57.5 105.8h.8M63.8 105.5h.8M62.9 105.0h.8M62.6 108.9h.8M63.6 104.7h.8M63.7 105.6h.8M68.9 106.0h.8M63.5 106.3h.8M68.1 105.5h.8M69.3 108.9h.8M64.2 106.0h.8M68.1 106.5h.8M74.9 105.9h.8M69.0 103.1h.8M64.6 103.6h.8M67.2 103.0h.8M63.4 106.6h.8M68.7 103.9h.8M71.4 102.9h.8M63.8 106.7h.8M66.6 107.5h.8M72.5 100.9h.8M65.3 110.9h.8M68.3 106.1h.8M62.9 105.7h.8M63.8 109.1h.8M65.2 106.2h.8M77.1 104.2h.8M65.7 112.4h.8M65.2 102.9h.8M65.0 105.7h.8M66.8 108.5h.8M70.4 102.9h.8M68.3 105.7h.8M76.6 107.1h.8M68.4 113.0h.8M73.9 103.4h.8M68.7 105.9h.8M70.2 107.9h.8M61.1 106.2h.8M66.9 102.5h.8M67.2 107.2h.8M66.4 106.3h.8M58.0 107.3h.8M71.4 109.3h.8M65.8 108.9h.8M65.6 107.2h.8M66.4 106.9h.8M66.5 102.8h.8M69.3 105.6h.8M61.9 106.6h.8M63.4 104.8h.8M68.8 106.3h.8M68.1 103.6h.8M65.8 110.4h.8M65.0 112.2h.8M63.8 104.9h.8M67.2 107.2h.8M72.7 105.3h.8M62.8 109.7h.8M74.2 107.3h.8M71.2 106.2h.8M65.5 105.4h.8M70.9 106.4h.8M61.1 103.1h.8M59.9 108.0h.8M61.8 103.9h.8M65.7 107.6h.8M66.1 106.4h.8M65.2 109.2h.8M67.9 106.0h.8M58.1 109.0h.8M69.7 103.3h.8M61.3 107.8h.8M64.6 105.4h.8M65.7 106.6h.8M62.4 106.2h.8M61.5 108.7h.8M63.1 100.1h.8M67.4 106.9h.8M70.1 101.7h.8M70.0 109.5h.8M63.1 100.3h.8M64.0 103.1h.8M54.9 106.2h.8M79.8 101.3h.8M57.8 103.2h.8M68.4 101.2h.8M63.5 107.4h.8M54.0 109.9h.8M65.0 110.8h.8M72.5 103.4h.8M66.1 107.5h.8M74.6 108.8h.8M64.8 104.4h.8M67.6 105.9h.8M64.6 115.4h.8M70.1 107.4h.8M81.7 110.2h.8M70.2 104.7h.8M69.0 106.7h.8M62.9 99.3h.8M61.8 106.4h.8M78.5 111.5h.8M59.2 115.3h.8M60.7 111.5h.8M66.8 109.4h.8M64.3 106.7h.8M82.2 104.0h.8M49.8 105.8h.8M70.2 109.1h.8M72.8 103.2h.8M59.1 110.4h.8M62.7 102.4h.8M70.7 99.0h.8M79.7 102.2h.8M60.6 99.5h.8M55.7 100.7h.8M74.8 111.3h.8M78.9 105.7h.8M65.0 107.4h.8M50.9 111.4h.8M78.4 111.8h.8M66.0 104.4h.8M75.9 112.1h.8M67.2 108.1h.8M64.7 106.5h.8M64.1 108.4h.8M78.6 100.5h.8M78.3 103.2h.8M51.5 106.0h.8M60.5 109.1h.8M80.8 104.9h.8M64.7 106.0h.8M57.3 110.6h.8M67.5 112.4h.8M66.7 109.7h.8M66.8 111.8h.8M63.9 104.8h.8M65.2 105.2h.8M64.1 107.8h.8M70.0 105.2h.8M61.4 104.4h.8M65.3 113.4h.8M66.4 105.7h.8M77.3 102.4h.8M70.3 108.5h.8M66.7 114.2h.8M71.5 106.8h.8M70.5 111.7h.8M75.7 104.7h.8M71.3 104.4h.8M81.0 103.6h.8M77.6 105.9h.8M67.2 114.2h.8M64.4 101.6h.8M74.1 113.4h.8M71.4 102.3h.8M66.8 105.5h.8M56.4 110.0h.8M53.8 109.1h.8M70.1 107.7h.8M73.3 99.6h.8M73.5 108.0h.8M57.8 102.2h.8M75.3 117.3h.8M63.5 105.6h.8M70.4 107.3h.8M70.6 101.7h.8M61.5 104.5h.8M63.1 101.1h.8M52.0 110.6h.8M60.6 105.4h.8M54.0 108.9h.8M70.8 103.6h.8M68.0 104.4h.8M74.4 111.9h.8M70.2 102.4h.8M62.7 98.9h.8M70.1 108.2h.8M64.6 101.7h.8M72.1 104.7h.8M69.9 110.3h.8M60.1 103.1h.8M67.5 110.2h.8M67.9 103.6h.8M65.2 112.8h.8M74.2 112.1h.8M80.3 104.5h.8M64.7 105.6h.8M64.9 103.0h.8M50.6 107.3h.8M66.5 111.3h.8M64.2 100.4h.8M51.3 110.4h.8M69.7 100.9h.8M71.9 102.9h.8M62.0 99.0h.8M64.7 115.3h.8M60.3 106.7h.8M73.2 107.5h.8M56.1 103.7h.8M65.2 111.0h.8M82.1 97.7h.8M67.9 106.6h.8M71.0 115.8h.8M66.4 104.9h.8M58.7 106.6h.8M67.3 109.3h.8M70.5 103.1h.8M59.8 106.6h.8M70.1 110.5h.8M76.8 107.3h.8M75.5 108.1h.8M55.6 105.0h.8M60.2 107.8h.8M55.4 106.7h.8M75.5 112.6h.8M72.1 109.5h.8M72.8 105.5h.8M60.9 96.2h.8M58.8 109.5h.8M68.1 109.7h.8M68.3 102.6h.8M61.1 98.1h.8M68.6 101.7h.8M72.3 110.4h.8M69.2 102.0h.8M59.7 104.6h.8M51.7 107.4h.8M65.6 111.6h.8M68.7 106.4h.8M65.5 106.1h.8M64.3 104.2h.8M62.3 113.3h.8M72.9 111.0h.8M67.1 106.1h.8M68.4 100.6h.8M60.2 103.2h.8M62.8 108.9h.8M68.7 103.5h.8M60.0 110.2h.8M58.1 108.0h.8M65.0 107.7h.8M76.5 109.2h.8M68.9 108.6h.8M78.4 102.9h.8M66.5 105.1h.8M65.2 116.3h.8M57.1 101.4h.8M63.2 104.5h.8M78.3 111.0h.8M70.0 105.8h.8M73.0 103.1h.8M72.8 100.9h.8M67.4 108.8h.8M66.0 110.8h.8M68.4 112.4h.8M72.5 106.7h.8M70.9 110.9h.8M71.2 102.2h.8M68.7 107.2h.8M61.7 103.7h.8M65.5 107.2h.8M60.4 109.7h.8M75.0 111.0h.8M51.7 102.3h.8M65.9 111.8h.8M85.4 104.5h.8M64.9 102.2h.8M59.0 105.8h.8M67.4 100.4h.8M77.2 106.5h.8M66.3 107.7h.8M72.1 105.7h.8M68.2 108.8h.8M64.7 105.2h.8M91.1 106.5h.8M68.0 100.4h.8M63.5 106.7h.8M63.8 102.9h.8M70.4 104.6h.8M70.6 106.1h.8M73.3 107.3h.8M68.6 99.6h.8M56.8 99.9h.8M71.5 105.2h.8M65.2 108.5h.8M65.4 108.0h.8M56.4 110.2h.8M63.2 112.0h.8M62.0 108.6h.8M67.2 106.4h.8M56.6 102.2h.8M67.9 102.5h.8M68.4 104.5h.8M59.1 107.6h.8M62.8 107.4h.8M61.1 106.5h.8M74.3 105.9h.8M48.5 109.1h.8M64.9 107.4h.8M55.0 107.8h.8M64.3 107.8h.8M73.9 104.2h.8M62.8 102.2h.8M68.5 108.6h.8M61.2 108.3h.8M82.0 105.6h.8M74.3 104.8h.8M76.0 116.1h.8M57.5 103.3h.8M59.2 105.6h.8M75.6 107.6h.8M66.0 101.7h.8M65.6 107.0h.8M70.0 114.1h.8M58.1 110.4h.8M73.3 109.2h.8M67.6 109.0h.8M71.1 107.0h.8M62.5 110.5h.8M71.3 105.8h.8M62.2 104.7h.8M74.7 106.9h.8M76.0 110.3h.8M74.3 107.9h.8M71.4 109.3h.8M72.3 98.0h.8M47.2 111.5h.8M73.8 116.3h.8M65.4 112.1h.8M68.2 105.2h.8M65.4 102.9h.8M57.1 107.7h.8M63.5 102.4h.8M72.4 109.5h.8M78.1 104.3h.8M62.8 110.5h.8M60.7 112.2h.8M78.4 98.0h.8M60.9 107.7h.8M83.1 103.6h.8M67.9 100.6h.8M60.9 103.9h.8M74.9 105.6h.8M80.2 110.8h.8M56.7 100.1h.8M79.2 110.9h.8M65.4 115.0h.8M78.6 109.0h.8M64.6 108.8h.8M55.7 106.4h.8M71.3 101.6h.8M74.4 108.7h.8M83.2 108.1h.8M80.4 109.6h.8M72.7 117.3h.8M65.7 109.6h.8M63.6 108.3h.8M65.3 113.1h.8M61.3 100.9h.8M65.4 101.7h.8M48.4 104.9h.8M68.8 103.7h.8M67.3 109.4h.8M86.7 105.2h.8M73.2 113.8h.8M63.9 112.9h.8M71.7 109.7h.8M58.3 104.9h.8M63.0 109.1h.8M53.5 109.9h.8M78.3 102.0h.8M72.0 108.0h.8M58.7 109.5h.8M67.0 107.4h.8M74.6 113.1h.8M71.2 111.6h.8M70.4 103.0h.8M61.1 107.0h.8M62.7 103.0h.8M68.2 108.9h.8M74.4 102.9h.8M61.3 110.4h.8M59.1 108.1h.8M76.1 110.6h.8M60.5 105.9h.8M75.6 100.4h.8M69.3 113.9h.8M74.1 105.8h.8M80.6 112.3h.8M72.7 108.3h.8M73.3 109.3h.8M60.6 114.2h.8M62.3 107.9h.8M72.3 112.4h.8M79.0 100.3h.8M77.9 110.2h.8M84.9 105.5h.8M69.8 105.9h.8M69.0 106.5h.8M75.0 108.0h.8M67.6 113.5h.8M67.0 98.7h.8M59.6 106.7h.8M74.9 103.5h.8M59.5 111.4h.8M71.3 104.7h.8M56.9 108.4h.8M75.7 104.8h.8M59.8 109.3h.8M73.8 110.8h.8M55.6 104.8h.8M64.2 106.7h.8M76.3 100.5h.8M61.5 107.8h.8M68.0 110.1h.8M63.9 104.2h.8M50.2 111.2h.8M69.8 97.8h.8M70.7 98.7h.8M59.2 100.7h.8M71.8 104.5h.8M61.5 106.6h.8M60.0 106.2h.8M67.6 106.2h.8M62.4 109.5h.8M84.7 104.5h.8M55.8 101.2h.8M73.0 101.3h.8M74.9 115.4h.8M52.7 96.6h.8M54.5 105.8h.8M71.7 112.6h.8M63.9 108.5h.8M70.4 103.0h.8M76.0 106.5h.8M64.7 110.1h.8M59.5 111.6h.8M47.0 102.7h.8M69.0 109.7h.8M60.5 107.6h.8M69.9 111.1h.8M69.2 112.3h.8M57.1 105.1h.8M80.4 100.4h.8M75.6 108.2h.8M73.9 114.0h.8M58.6 109.4h.8M64.4 107.5h.8M63.4 116.6h.8M64.4 102.1h.8M59.1 110.3h.8M70.8 104.1h.8M69.2 106.7h.8M70.2 106.9h.8M63.7 112.9h.8M77.2 102.6h.8M68.9 104.3h.8M47.0 99.8h.8M62.7 108.5h.8M67.1 104.6h.8M74.7 108.3h.8M65.2 102.0h.8M65.6 105.0h.8M62.5 110.9h.8M72.5 105.8h.8M64.1 109.1h.8M63.0 108.7h.8M61.9 105.0h.8M71.7 99.9h.8M63.5 110.6h.8M54.9 107.2h.8M72.2 110.6h.8M62.2 98.0h.8M70.2 99.6h.8M70.3 97.5h.8M76.5 102.8h.8M75.3 110.9h.8M63.2 108.9h.8M66.3 106.4h.8M57.8 107.1h.8M80.1 109.7h.8M70.8 105.2h.8M78.0 108.2h.8M65.1 107.1h.8M52.1 97.3h.8M79.0 104.9h.8M68.2 112.2h.8M68.5 104.8h.8M67.9 105.9h.8M72.3 104.0h.8M71.5 104.5h.8M55.6 111.2h.8M75.7 105.4h.8M63.5 102.2h.8M64.0 93.4h.8M80.5 104.1h.8M74.4 98.2h.8M65.0 98.8h.8M53.6 109.8h.8M68.7 109.5h.8M71.5 98.4h.8M117.0 109.5h.8M114.5 107.4h.8M106.4 104.4h.8M116.3 107.6h.8M100.9 101.0h.8M103.7 105.8h.8M102.1 108.1h.8M104.3 108.6h.8M117.2 104.5h.8M102.8 109.2h.8M104.0 111.9h.8M105.3 105.5h.8M112.8 108.7h.8M109.3 102.3h.8M117.1 101.2h.8M106.9 108.4h.8M103.1 106.8h.8M108.2 107.2h.8M111.7 105.0h.8M105.4 105.8h.8M113.3 108.9h.8M123.3 111.5h.8M107.7 106.0h.8M111.7 102.0h.8M120.2 110.2h.8M107.2 108.3h.8M105.9 108.6h.8M104.3 107.2h.8M114.0 113.2h.8M114.8 106.9h.8M110.4 108.1h.8M111.7 101.5h.8M119.7 105.0h.8M117.0 104.7h.8M102.3 106.6h.8M111.3 107.6h.8M112.0 104.6h.8M116.0 111.5h.8M109.9 103.7h.8M107.1 105.4h.8M108.4 107.3h.8M99.8 103.2h.8M111.2 108.3h.8M107.4 108.4h.8M114.3 105.8h.8M104.6 112.0h.8M108.5 106.9h.8M104.9 107.4h.8M104.4 104.0h.8M115.8 102.0h.8M108.3 104.9h.8M114.2 105.8h.8M104.0 105.4h.8M111.9 108.8h.8M100.3 100.0h.8M108.2 103.5h.8M108.0 101.5h.8M115.0 110.4h.8M112.4 105.1h.8M110.1 105.2h.8M116.7 103.6h.8M112.5 109.2h.8M114.7 105.5h.8M116.2 107.3h.8M110.8 101.0h.8M109.3 109.9h.8M113.3 107.8h.8M108.5 108.2h.8M113.7 110.1h.8M118.4 106.1h.8M116.8 106.2h.8M108.7 108.7h.8M102.9 107.9h.8M110.8 106.0h.8M110.4 106.8h.8M118.4 105.2h.8M108.7 108.7h.8M109.8 109.3h.8M116.0 106.7h.8M108.1 111.9h.8M110.2 102.3h.8M122.3 106.0h.8M120.9 111.5h.8M115.3 105.5h.8M112.9 102.2h.8M104.9 110.6h.8M114.8 108.2h.8M111.6 103.3h.8M112.6 108.8h.8M107.8 103.8h.8M111.1 102.9h.8M110.0 106.2h.8M113.2 105.3h.8M120.5 103.6h.8M113.5 105.6h.8M100.4 103.8h.8M104.9 106.8h.8M100.9 106.6h.8M106.0 108.8h.8M114.8 105.4h.8M113.8 102.9h.8M107.3 103.0h.8M112.9 106.0h.8M106.3 111.0h.8M102.0 109.0h.8M102.1 104.9h.8M105.6 109.3h.8M120.4 103.4h.8M102.5 109.5h.8M119.3 105.6h.8M119.8 108.8h.8M110.0 108.4h.8M110.9 105.9h.8M107.2 107.6h.8M111.0 103.7h.8M115.4 106.5h.8M111.2 109.7h.8M117.6 118.2h.8M118.9 108.6h.8M113.4 106.9h.8M113.3 103.8h.8M110.8 109.6h.8M113.4 102.0h.8M103.9 104.4h.8M113.8 107.7h.8M112.5 103.3h.8M105.6 111.0h.8M125.1 109.7h.8M104.9 105.1h.8M105.5 105.1h.8M113.0 103.0h.8M98.6 102.7h.8M106.0 107.9h.8M101.3 108.4h.8M104.9 107.7h.8M110.3 107.4h.8M113.2 105.1h.8M118.3 107.7h.8M116.4 102.5h.8M118.8 106.7h.8M115.0 110.8h.8M108.1 110.4h.8M118.4 105.4h.8M108.0 105.7h.8M107.2 110.5h.8M121.1 111.7h.8M116.3 102.5h.8M112.6 105.5h.8M116.0 107.3h.8M116.8 110.1h.8M102.3 104.3h.8M110.5 108.5h.8M103.5 105.8h.8M111.9 113.3h.8M106.8 107.9h.8M120.0 106.3h.8M114.5 105.7h.8M105.9 109.6h.8M111.0 108.6h.8M103.3 103.6h.8M111.4 107.3h.8M114.7 102.9h.8M112.8 104.5h.8M98.6 103.0h.8M109.0 102.9h.8M114.4 104.7h.8M113.1 103.9h.8M118.7 108.2h.8M102.8 108.9h.8M114.5 106.0h.8M106.9 103.5h.8M112.4 108.9h.8M113.8 101.0h.8M115.6 101.2h.8M107.4 108.7h.8M112.3 108.5h.8M103.5 109.4h.8M102.0 106.1h.8M114.7 103.1h.8M110.8 105.2h.8M100.6 108.3h.8M105.6 104.5h.8M111.2 104.7h.8M121.2 102.8h.8M117.9 103.4h.8M116.3 109.0h.8M99.5 108.0h.8M110.5 103.4h.8M114.2 103.6h.8M113.7 105.1h.8M113.8 108.2h.8M109.6 103.4h.8M122.5 106.2h.8M120.7 100.6h.8M110.5 103.1h.8M104.8 107.9h.8M124.5 109.2h.8M107.5 103.4h.8M118.9 104.5h.8M123.5 108.9h.8M105.0 105.6h.8M113.0 105.2h.8M108.9 108.1h.8M114.5 107.2h.8M113.2 109.8h.8M123.8 108.9h.8M115.0 105.1h.8M111.1 106.3h.8M118.4 106.5h.8M109.4 102.9h.8M108.7 103.9h.8M125.7 109.4h.8M105.8 102.2h.8M107.9 109.5h.8M111.4 107.5h.8M104.3 106.3h.8M97.4 108.2h.8M118.0 108.0h.8M106.0 110.1h.8M107.6 105.6h.8M108.7 106.0h.8M104.7 106.0h.8M104.1 112.0h.8M112.2 109.3h.8M126.7 104.1h.8M115.9 105.7h.8M116.0 104.7h.8M101.3 106.7h.8M111.0 107.3h.8M103.4 113.1h.8M116.1 101.6h.8M109.6 109.6h.8M111.4 107.9h.8M110.5 104.7h.8M107.3 106.3h.8M101.2 105.3h.8M114.9 106.8h.8M102.1 109.5h.8M103.4 102.4h.8M109.2 110.4h.8M106.5 105.6h.8M112.8 110.9h.8M117.7 107.8h.8M112.7 110.2h.8M112.4 108.3h.8M111.3 109.7h.8M116.7 106.9h.8M99.1 104.4h.8M113.5 108.6h.8M105.1 108.7h.8M103.1 112.6h.8M111.1 101.1h.8M108.6 106.1h.8M114.9 109.7h.8M118.3 103.2h.8M96.0 106.1h.8M110.6 112.6h.8M123.8 110.7h.8M116.8 104.2h.8M120.5 110.7h.8M111.8 110.0h.8M101.8 108.9h.8M103.8 107.8h.8M115.7 107.4h.8M117.3 104.3h.8M106.4 105.3h.8M109.4 108.8h.8M112.8 107.1h.8M99.7 111.9h.8M108.8 105.8h.8M121.6 100.0h.8M125.3 105.8h.8M110.4 107.5h.8M123.0 107.8h.8M107.7 106.9h.8M105.9 104.4h.8M96.6 110.9h.8M117.3 104.9h.8M108.7 108.7h.8M126.3 105.9h.8M113.3 103.4h.8M112.3 110.7h.8M99.4 99.7h.8M120.9 104.3h.8M108.8 107.9h.8M110.1 105.7h.8M96.8 108.8h.8M117.1 106.4h.8M117.6 105.5h.8M107.2 112.8h.8M111.7 106.1h.8M113.7 106.3h.8M117.4 103.7h.8M111.8 104.6h.8M122.3 108.6h.8M109.6 108.3h.8M107.2 106.7h.8M108.1 104.8h.8M94.6 108.7h.8M105.9 102.0h.8M106.0 106.0h.8M107.0 106.6h.8M100.5 106.6h.8M111.5 106.8h.8M102.4 103.3h.8M101.0 110.2h.8M129.6 103.7h.8M118.0 110.6h.8M123.0 98.8h.8M110.4 102.3h.8M120.5 110.5h.8M118.4 105.9h.8M123.2 103.8h.8M135.9 108.0h.8M107.4 102.3h.8M112.7 106.8h.8M109.3 97.6h.8M71.2 104.7h.8M94.5 103.9h.8M110.1 108.7h.8M116.9 110.0h.8M103.6 103.1h.8M122.4 112.9h.8M124.0 104.1h.8M105.4 98.3h.8M125.6 97.0h.8M129.2 112.7h.8M115.0 106.1h.8M99.1 103.9h.8M126.1 103.5h.8M108.2 102.1h.8M105.8 111.9h.8M111.2 106.2h.8M104.1 113.7h.8M121.8 105.7h.8M118.5 97.1h.8M123.4 109.9h.8M116.4 105.0h.8M101.3 105.6h.8M108.2 112.8h.8M119.6 105.4h.8M105.5 111.1h.8M142.1 106.5h.8M107.3 103.5h.8M103.5 108.5h.8M122.6 104.1h.8M118.2 111.4h.8M109.7 110.3h.8M107.5 106.8h.8M114.7 108.9h.8M119.2 108.8h.8M118.4 105.4h.8M106.7 110.1h.8M114.8 105.6h.8M119.3 109.0h.8M118.4 102.7h.8M76.1 106.9h.8M100.2 108.2h.8M101.5 103.3h.8M107.5 104.8h.8M112.0 104.4h.8M120.1 109.4h.8M116.8 103.6h.8M108.6 108.3h.8M110.3 112.6h.8M129.4 107.9h.8M103.3 100.1h.8M113.3 107.0h.8M127.2 110.7h.8M113.8 105.4h.8M87.5 111.0h.8M114.1 109.0h.8M105.7 108.2h.8M108.8 105.5h.8M121.6 104.5h.8M115.2 105.5h.8M107.1 106.8h.8M119.8 108.6h.8M114.8 108.2h.8M111.2 105.3h.8M113.3 106.8h.8M112.8 108.1h.8M106.3 100.0h.8M104.9 103.5h.8M110.3 103.4h.8M99.5 105.7h.8M96.2 105.4h.8M124.3 105.5h.8M107.4 103.1h.8M109.7 109.2h.8M93.8 103.1h.8M68.8 103.1h.8M90.4 102.0h.8M75.5 104.4h.8M112.3 103.7h.8M84.3 102.2h.8M85.1 106.8h.8M91.3 108.2h.8M87.6 102.6h.8M89.4 104.9h.8M110.3 106.6h.8M93.1 105.8h.8M101.1 104.4h.8M104.9 109.0h.8M77.5 109.1h.8M112.2 108.6h.8M99.2 105.9h.8M102.7 112.5h.8M79.0 111.8h.8M100.9 105.3h.8M95.6 106.2h.8M83.2 110.1h.8M119.9 104.1h.8M97.6 107.7h.8M87.1 106.7h.8M92.8 104.4h.8M102.1 105.8h.8M104.9 101.8h.8M97.8 104.9h.8M106.1 100.5h.8M109.4 113.4h.8M74.2 111.0h.8M83.9 110.2h.8M78.0 107.4h.8M91.5 109.5h.8M109.0 110.3h.8M98.7 109.6h.8M76.7 109.3h.8M86.4 103.8h.8M103.6 107.8h.8M83.4 104.9h.8M89.0 103.0h.8M94.2 103.1h.8M66.6 107.8h.8M100.4 109.7h.8M94.7 102.4h.8M97.7 111.8h.8M77.5 110.9h.8M80.3 105.4h.8M82.5 105.1h.8M93.5 106.3h.8M91.2 109.5h.8M91.9 105.4h.8M113.6 103.2h.8M107.2 107.5h.8M80.9 100.3h.8M81.8 106.9h.8M112.6 110.0h.8M86.1 107.4h.8M108.2 108.8h.8M111.0 108.0h.8M83.2 108.7h.8M86.8 106.9h.8M91.3 104.0h.8M79.0 105.8h.8M77.5 106.3h.8M85.0 110.3h.8M101.3 111.4h.8M84.4 107.8h.8M87.6 104.2h.8M84.2 104.3h.8M72.5 105.9h.8M109.6 110.7h.8M59.8 107.5h.8M81.8 106.3h.8M97.5 104.2h.8M72.1 109.1h.8M98.1 107.4h.8M106.5 106.3h.8M79.1 106.8h.8M93.0 111.6h.8M75.8 106.0h.8M96.8 111.6h.8M91.4 110.2h.8M93.1 106.7h.8M108.0 109.2h.8M96.4 106.1h.8M107.8 104.0h.8M98.5 105.7h.8M74.7 103.8h.8M93.7 108.0h.8M96.6 106.5h.8M71.5 108.2h.8M107.6 109.0h.8M91.1 97.1h.8M95.0 107.4h.8M78.6 101.1h.8M91.2 107.0h.8M94.1 103.9h.8M86.0 106.8h.8M91.3 110.6h.8M62.7 101.4h.8M108.0 107.1h.8M75.8 106.3h.8M61.9 100.8h.8M77.8 108.4h.8M79.4 106.6h.8M97.3 105.0h.8M78.4 104.3h.8M93.9 116.1h.8M77.8 105.3h.8M118.9 101.1h.8M97.3 103.7h.8M115.7 105.4h.8M77.0 105.3h.8M98.9 106.3h.8M77.8 103.4h.8M97.8 108.1h.8M99.0 105.0h.8M69.5 102.4h.8M71.6 148.5h.8M72.9 133.9h.8M76.5 143.7h.8M75.4 136.1h.8M73.0 139.7h.8M74.1 144.3h.8M74.6 142.2h.8M79.9 140.1h.8M72.2 159.1h.8M75.4 143.1h.8M76.1 135.7h.8M71.2 150.0h.8M74.5 149.2h.8M74.5 152.2h.8M72.6 156.4h.8M75.6 136.0h.8M77.0 150.9h.8M77.3 151.5h.8M73.4 143.0h.8M74.6 144.8h.8M80.8 120.5h.8M70.8 138.7h.8M74.6 156.4h.8M76.6 129.6h.8M74.4 139.0h.8M75.9 145.2h.8M74.5 147.3h.8M76.2 155.2h.8M77.7 129.8h.8M73.4 143.3h.8M74.6 149.4h.8M73.8 133.1h.8M72.8 142.7h.8M73.9 157.1h.8M70.7 152.9h.8M76.2 147.0h.8M78.9 123.4h.8M78.9 142.0h.8M77.7 145.9h.8M71.2 140.7h.8M78.4 142.5h.8M71.9 166.1h.8M73.8 141.4h.8M79.4 135.7h.8M70.9 144.8h.8M76.4 140.6h.8M74.8 140.7h.8M73.6 142.3h.8M71.5 148.8h.8M75.2 144.8h.8M72.7 134.0h.8M77.0 142.0h.8M77.6 146.6h.8M70.0 139.5h.8M72.5 151.6h.8M73.1 148.8h.8M70.6 135.6h.8M70.8 145.4h.8M74.3 157.9h.8M73.4 154.7h.8M69.2 142.6h.8M72.4 149.7h.8M75.5 137.9h.8M70.5 132.1h.8M71.3 147.2h.8M78.6 144.8h.8M77.8 146.9h.8M69.3 142.8h.8M70.1 145.4h.8M75.1 139.2h.8M70.5 146.5h.8M73.3 149.2h.8M72.7 142.6h.8M75.6 149.1h.8M66.7 129.7h.8M67.6 137.1h.8M70.4 153.8h.8M76.9 156.2h.8M73.6 144.9h.8M69.0 142.2h.8M75.4 133.5h.8M76.1 145.7h.8M73.3 148.8h.8M73.0 131.9h.8M75.3 147.2h.8M77.5 146.7h.8M74.4 146.3h.8M75.5 134.5h.8M73.9 147.1h.8M72.9 131.8h.8M71.3 154.2h.8M74.7 144.0h.8M73.1 134.3h.8M73.3 153.1h.8M76.7 151.7h.8M75.4 138.1h.8M76.5 159.5h.8M69.4 135.5h.8M75.6 145.4h.8M72.3 151.9h.8M71.7 126.0h.8M71.5 150.5h.8M77.5 142.5h.8M76.4 142.9h.8M71.9 134.9h.8M70.7 145.5h.8M74.0 134.7h.8M72.7 135.7h.8M78.8 139.6h.8M69.8 133.8h.8M68.7 154.8h.8M73.3 133.0h.8M74.0 137.3h.8M74.4 140.6h.8M76.2 143.0h.8M80.0 148.9h.8M73.0 149.1h.8M72.4 140.7h.8M68.9 140.1h.8M74.7 143.3h.8M76.5 149.2h.8M73.2 148.2h.8M77.4 139.1h.8M74.1 127.6h.8M78.4 159.1h.8M75.0 150.1h.8M70.9 145.0h.8M72.2 145.6h.8M69.6 139.1h.8M69.0 135.5h.8M74.8 140.5h.8M76.5 141.3h.8M79.7 138.3h.8M73.8 132.1h.8M73.3 140.7h.8M70.8 147.3h.8M76.9 139.3h.8M75.1 143.2h.8M72.3 127.5h.8M76.0 141.4h.8M75.6 142.1h.8M68.6 133.8h.8M76.2 130.0h.8M74.4 146.1h.8M72.9 136.9h.8M72.8 146.7h.8M79.1 139.8h.8M78.5 147.7h.8M79.3 140.5h.8M70.7 131.7h.8M72.1 142.4h.8M76.6 140.5h.8M70.5 147.9h.8M71.9 139.6h.8M68.8 140.1h.8M79.4 149.4h.8M77.1 151.7h.8M75.3 148.7h.8M74.6 150.8h.8M72.8 146.4h.8M72.8 148.8h.8M75.8 149.6h.8M71.9 146.0h.8M77.6 143.5h.8M72.6 144.1h.8M71.5 161.0h.8M77.8 143.1h.8M73.6 141.2h.8M75.6 140.3h.8M72.8 142.7h.8M67.5 144.8h.8M75.6 134.5h.8M70.1 128.1h.8M77.1 145.2h.8M69.5 131.0h.8M68.6 144.9h.8M74.9 144.1h.8M75.2 151.6h.8M74.3 155.5h.8M70.5 145.8h.8M76.6 138.8h.8M69.8 134.2h.8M72.7 137.1h.8M71.7 143.3h.8M72.9 127.5h.8M76.5 143.6h.8M72.2 142.9h.8M75.6 147.8h.8M76.0 140.5h.8M69.0 143.8h.8M70.6 137.5h.8M72.9 139.5h.8M72.3 129.7h.8M74.9 143.9h.8M68.4 154.6h.8M76.1 144.2h.8M76.2 145.7h.8M73.5 135.6h.8M70.0 153.7h.8M74.0 137.2h.8M72.4 149.0h.8M75.6 143.8h.8M73.8 135.8h.8M76.1 150.7h.8M72.7 143.1h.8M78.2 144.3h.8M67.3 146.4h.8M71.1 142.8h.8M75.4 140.2h.8M69.6 146.5h.8M71.5 139.1h.8M73.8 128.4h.8M70.2 147.7h.8M66.0 141.8h.8M70.1 143.2h.8M71.0 145.7h.8M73.6 150.0h.8M79.4 135.5h.8M65.1 140.8h.8M74.1 124.3h.8M62.4 117.6h.8M68.3 120.7h.8M71.0 158.9h.8M62.2 121.9h.8M64.2 147.2h.8M74.3 158.2h.8M73.9 137.0h.8M72.9 159.9h.8M69.5 162.3h.8M84.3 152.4h.8M72.7 168.1h.8M69.2 148.9h.8M81.9 134.0h.8M76.6 147.8h.8M71.6 137.2h.8M79.5 127.7h.8M74.3 128.0h.8M76.7 167.5h.8M74.7 136.1h.8M68.4 141.8h.8M78.4 134.8h.8M74.3 143.6h.8M68.5 139.5h.8M69.7 137.6h.8M78.3 128.8h.8M71.7 126.6h.8M73.7 133.9h.8M76.8 145.3h.8M74.1 165.0h.8M65.9 153.7h.8M76.7 162.2h.8M78.2 147.5h.8M77.8 141.2h.8M81.6 127.6h.8M75.3 142.2h.8M77.4 118.6h.8M81.4 138.9h.8M72.0 160.1h.8M82.2 145.8h.8M82.2 154.6h.8M77.4 138.0h.8M82.7 127.1h.8M77.8 136.9h.8M69.1 137.9h.8M79.2 155.5h.8M75.1 164.0h.8M75.6 134.1h.8M74.3 138.3h.8M80.3 140.6h.8M76.3 138.4h.8M70.0 128.6h.8M75.9 143.3h.8M77.1 146.2h.8M69.9 146.5h.8M71.3 129.0h.8M71.6 141.0h.8M70.5 123.1h.8M75.2 152.3h.8M78.6 131.1h.8M83.0 139.3h.8M79.5 137.4h.8M78.6 135.9h.8M79.2 130.7h.8M80.2 122.9h.8M71.6 161.4h.8M77.0 145.1h.8M75.1 145.2h.8M72.9 165.4h.8M71.2 141.2h.8M71.0 148.4h.8M101.0 113.1h.8M124.3 143.1h.8M110.6 127.7h.8M106.9 112.2h.8M95.5 127.4h.8M106.2 149.2h.8M123.9 151.1h.8M59.1 144.8h.8M98.1 121.8h.8M92.3 168.2h.8M94.6 120.3h.8M61.1 134.5h.8M115.3 116.7h.8M83.7 152.6h.8M96.1 141.3h.8M90.6 147.0h.8M67.3 136.7h.8M91.7 134.6h.8M63.8 137.8h.8M81.8 111.0h.8M94.4 148.4h.8M100.6 147.4h.8M101.8 130.4h.8M97.9 135.4h.8M143.4 139.4h.8M109.4 155.9h.8M76.2 141.1h.8M88.4 136.1h.8M87.5 128.9h.8M97.1 116.0h.8M88.6 127.8h.8M83.6 136.5h.8M133.6 132.3h.8M101.5 136.5h.8M93.9 145.3h.8M95.6 141.2h.8M96.3 139.2h.8M128.5 144.1h.8M110.2 138.0h.8M123.1 135.2h.8M107.2 113.1h.8M121.9 151.9h.8M140.2 118.8h.8M101.3 146.5h.8M118.2 149.5h.8M126.4 153.1h.8M129.6 141.9h.8M104.9 149.5h.8M71.9 123.5h.8M51.6 142.0h.8M118.5 147.7h.8M118.4 144.1h.8M115.8 125.4h.8M102.2 117.6h.8" stroke="#000" stroke-width="0.9" fill="none" opacity="1"/>
<rect x="44.90" y="69.50" width="101.10" height="104.30" fill="none" stroke="#000" stroke-width="2.4"/>
<rect x="94.00" y="95.20" width="39.40" height="20.10" fill="none" stroke="#000" stroke-width="2.4"/>
<line x1="41.20" y1="69.00" x2="44.50" y2="69.00" stroke="#000" stroke-width="1.1" stroke-linecap="butt"/>
<line x1="41.20" y1="95.00" x2="44.50" y2="95.00" stroke="#000" stroke-width="1.1" stroke-linecap="butt"/>
<line x1="41.20" y1="121.00" x2="44.50" y2="121.00" stroke="#000" stroke-width="1.1" stroke-linecap="butt"/>
<line x1="41.20" y1="147.50" x2="44.50" y2="147.50" stroke="#000" stroke-width="1.1" stroke-linecap="butt"/>
<line x1="41.20" y1="173.00" x2="44.50" y2="173.00" stroke="#000" stroke-width="1.1" stroke-linecap="butt"/>
<line x1="45.50" y1="174.50" x2="45.50" y2="177.30" stroke="#000" stroke-width="1" stroke-linecap="butt"/>
<line x1="69.00" y1="174.50" x2="69.00" y2="177.30" stroke="#000" stroke-width="1" stroke-linecap="butt"/>
<line x1="95.00" y1="174.50" x2="95.00" y2="177.30" stroke="#000" stroke-width="1" stroke-linecap="butt"/>
<line x1="121.00" y1="174.50" x2="121.00" y2="177.30" stroke="#000" stroke-width="1" stroke-linecap="butt"/>
<line x1="146.00" y1="174.50" x2="146.00" y2="177.30" stroke="#000" stroke-width="1" stroke-linecap="butt"/>
<line x1="45.50" y1="174.50" x2="45.50" y2="176.00" stroke="#000" stroke-width="0.5" stroke-linecap="butt"/>
<line x1="50.70" y1="174.50" x2="50.70" y2="176.00" stroke="#000" stroke-width="0.5" stroke-linecap="butt"/>
<line x1="55.90" y1="174.50" x2="55.90" y2="176.00" stroke="#000" stroke-width="0.5" stroke-linecap="butt"/>
<line x1="61.10" y1="174.50" x2="61.10" y2="176.00" stroke="#000" stroke-width="0.5" stroke-linecap="butt"/>
<line x1="66.30" y1="174.50" x2="66.30" y2="176.00" stroke="#000" stroke-width="0.5" stroke-linecap="butt"/>
<line x1="71.50" y1="174.50" x2="71.50" y2="176.00" stroke="#000" stroke-width="0.5" stroke-linecap="butt"/>
<line x1="76.70" y1="174.50" x2="76.70" y2="176.00" stroke="#000" stroke-width="0.5" stroke-linecap="butt"/>
<line x1="81.90" y1="174.50" x2="81.90" y2="176.00" stroke="#000" stroke-width="0.5" stroke-linecap="butt"/>
<line x1="87.10" y1="174.50" x2="87.10" y2="176.00" stroke="#000" stroke-width="0.5" stroke-linecap="butt"/>
<line x1="92.30" y1="174.50" x2="92.30" y2="176.00" stroke="#000" stroke-width="0.5" stroke-linecap="butt"/>
<line x1="97.50" y1="174.50" x2="97.50" y2="176.00" stroke="#000" stroke-width="0.5" stroke-linecap="butt"/>
<line x1="102.70" y1="174.50" x2="102.70" y2="176.00" stroke="#000" stroke-width="0.5" stroke-linecap="butt"/>
<line x1="107.90" y1="174.50" x2="107.90" y2="176.00" stroke="#000" stroke-width="0.5" stroke-linecap="butt"/>
<line x1="113.10" y1="174.50" x2="113.10" y2="176.00" stroke="#000" stroke-width="0.5" stroke-linecap="butt"/>
<line x1="118.30" y1="174.50" x2="118.30" y2="176.00" stroke="#000" stroke-width="0.5" stroke-linecap="butt"/>
<line x1="123.50" y1="174.50" x2="123.50" y2="176.00" stroke="#000" stroke-width="0.5" stroke-linecap="butt"/>
<line x1="128.70" y1="174.50" x2="128.70" y2="176.00" stroke="#000" stroke-width="0.5" stroke-linecap="butt"/>
<line x1="133.90" y1="174.50" x2="133.90" y2="176.00" stroke="#000" stroke-width="0.5" stroke-linecap="butt"/>
<line x1="139.10" y1="174.50" x2="139.10" y2="176.00" stroke="#000" stroke-width="0.5" stroke-linecap="butt"/>
<line x1="144.30" y1="174.50" x2="144.30" y2="176.00" stroke="#000" stroke-width="0.5" stroke-linecap="butt"/>
<line x1="43.20" y1="69.00" x2="44.50" y2="69.00" stroke="#000" stroke-width="0.5" stroke-linecap="butt"/>
<line x1="43.20" y1="74.20" x2="44.50" y2="74.20" stroke="#000" stroke-width="0.5" stroke-linecap="butt"/>
<line x1="43.20" y1="79.40" x2="44.50" y2="79.40" stroke="#000" stroke-width="0.5" stroke-linecap="butt"/>
<line x1="43.20" y1="84.60" x2="44.50" y2="84.60" stroke="#000" stroke-width="0.5" stroke-linecap="butt"/>
<line x1="43.20" y1="89.80" x2="44.50" y2="89.80" stroke="#000" stroke-width="0.5" stroke-linecap="butt"/>
<line x1="43.20" y1="95.00" x2="44.50" y2="95.00" stroke="#000" stroke-width="0.5" stroke-linecap="butt"/>
<line x1="43.20" y1="100.20" x2="44.50" y2="100.20" stroke="#000" stroke-width="0.5" stroke-linecap="butt"/>
<line x1="43.20" y1="105.40" x2="44.50" y2="105.40" stroke="#000" stroke-width="0.5" stroke-linecap="butt"/>
<line x1="43.20" y1="110.60" x2="44.50" y2="110.60" stroke="#000" stroke-width="0.5" stroke-linecap="butt"/>
<line x1="43.20" y1="115.80" x2="44.50" y2="115.80" stroke="#000" stroke-width="0.5" stroke-linecap="butt"/>
<line x1="43.20" y1="121.00" x2="44.50" y2="121.00" stroke="#000" stroke-width="0.5" stroke-linecap="butt"/>
<line x1="43.20" y1="126.20" x2="44.50" y2="126.20" stroke="#000" stroke-width="0.5" stroke-linecap="butt"/>
<line x1="43.20" y1="131.40" x2="44.50" y2="131.40" stroke="#000" stroke-width="0.5" stroke-linecap="butt"/>
<line x1="43.20" y1="136.60" x2="44.50" y2="136.60" stroke="#000" stroke-width="0.5" stroke-linecap="butt"/>
<line x1="43.20" y1="141.80" x2="44.50" y2="141.80" stroke="#000" stroke-width="0.5" stroke-linecap="butt"/>
<line x1="43.20" y1="147.00" x2="44.50" y2="147.00" stroke="#000" stroke-width="0.5" stroke-linecap="butt"/>
<line x1="43.20" y1="152.20" x2="44.50" y2="152.20" stroke="#000" stroke-width="0.5" stroke-linecap="butt"/>
<line x1="43.20" y1="157.40" x2="44.50" y2="157.40" stroke="#000" stroke-width="0.5" stroke-linecap="butt"/>
<line x1="43.20" y1="162.60" x2="44.50" y2="162.60" stroke="#000" stroke-width="0.5" stroke-linecap="butt"/>
<line x1="43.20" y1="167.80" x2="44.50" y2="167.80" stroke="#000" stroke-width="0.5" stroke-linecap="butt"/>
<line x1="134.00" y1="102.50" x2="207.00" y2="102.50" stroke="#000" stroke-width="3" stroke-linecap="butt"/>
<polygon points="205.00,96.00 218.50,102.60 205.00,109.20" fill="#000" stroke="none" stroke-width="1" stroke-linejoin="round"/>
<text><tspan x="23.79" y="238.75" font-size="16" textLength="94.31" lengthAdjust="spacingAndGlyphs">Human CD4</tspan> <tspan x="118.70" y="235.22" font-size="10" textLength="6.01" lengthAdjust="spacingAndGlyphs">+</tspan> <tspan x="129.51" y="238.75" font-size="16" textLength="41.55" lengthAdjust="spacingAndGlyphs">T cell</tspan></text>
<path d="M62.8 295.3h.8M56.7 289.2h.8M65.7 299.1h.8M63.8 296.9h.8M61.2 290.5h.8M58.0 295.8h.8M63.0 300.3h.8M67.4 285.5h.8M59.8 294.3h.8M58.3 302.1h.8M63.8 288.1h.8M56.3 294.1h.8M54.0 288.6h.8M60.6 294.6h.8M59.7 284.3h.8M61.2 287.8h.8M60.2 292.5h.8M63.4 295.5h.8M61.4 296.5h.8M60.0 296.7h.8M60.5 299.9h.8M64.5 297.9h.8M65.8 298.1h.8M65.6 290.6h.8M64.8 294.2h.8M50.0 308.9h.8M58.5 304.8h.8M61.1 298.5h.8M63.0 298.1h.8M56.2 299.2h.8M67.5 293.1h.8M63.3 303.5h.8M59.9 293.2h.8M62.8 294.5h.8M60.9 304.5h.8M59.4 285.7h.8M64.1 296.5h.8M60.5 287.3h.8M57.0 292.0h.8M59.9 294.5h.8M61.8 293.3h.8M58.2 295.6h.8M66.9 291.5h.8M58.2 294.4h.8M68.7 289.6h.8M65.5 293.2h.8M58.7 288.7h.8M62.7 297.8h.8M66.6 289.1h.8M61.5 297.9h.8M57.8 293.0h.8M62.6 293.5h.8M69.6 300.1h.8M56.7 295.3h.8M64.3 286.5h.8M62.3 297.1h.8M61.8 282.0h.8M60.8 296.1h.8M61.1 293.1h.8M66.1 288.7h.8M64.5 295.2h.8M58.6 293.5h.8M68.0 303.8h.8M57.5 292.9h.8M64.7 303.5h.8M62.9 301.0h.8M66.7 292.1h.8M63.6 291.2h.8M66.2 300.7h.8M62.2 294.3h.8M65.9 295.6h.8M63.5 293.7h.8M70.2 289.5h.8M59.7 293.2h.8M66.7 290.6h.8M64.0 288.0h.8M62.9 293.6h.8M60.2 302.8h.8M63.9 302.1h.8M56.8 294.6h.8M57.2 295.5h.8M64.9 297.2h.8M56.5 300.9h.8M67.6 296.3h.8M61.3 292.7h.8M63.2 293.1h.8M62.6 299.9h.8M63.8 306.5h.8M61.2 292.1h.8M60.9 285.7h.8M61.8 298.5h.8M66.2 294.5h.8M66.5 295.5h.8M67.0 300.4h.8M63.6 295.2h.8M61.5 288.9h.8M56.1 286.1h.8M64.7 294.7h.8M65.4 289.7h.8M60.8 296.2h.8M65.3 289.2h.8M67.1 293.3h.8M62.6 288.3h.8M66.2 293.2h.8M63.4 292.9h.8M55.9 297.5h.8M60.5 300.9h.8M60.8 294.0h.8M64.2 291.0h.8M59.1 303.6h.8M60.7 296.5h.8M58.7 297.6h.8M62.1 297.6h.8M62.5 301.4h.8M65.9 299.4h.8M65.2 297.9h.8M62.9 298.3h.8M63.2 291.0h.8M62.7 292.1h.8M62.7 294.4h.8M68.0 295.3h.8M53.1 295.0h.8M61.6 296.3h.8M63.4 295.0h.8M66.5 293.0h.8M58.2 287.6h.8M63.6 298.6h.8M65.5 297.5h.8M60.6 290.9h.8M55.2 297.1h.8M61.0 296.7h.8M57.8 295.2h.8M64.7 286.6h.8M59.1 289.5h.8M68.9 292.2h.8M62.8 302.1h.8M59.3 291.0h.8M60.4 293.3h.8M58.2 289.9h.8M63.7 292.7h.8M67.8 296.4h.8M61.5 285.6h.8M65.7 282.1h.8M58.8 297.9h.8M63.4 295.0h.8M70.8 292.2h.8M57.1 299.2h.8M66.8 299.2h.8M66.6 285.5h.8M55.3 294.1h.8M57.0 299.9h.8M58.7 291.9h.8M65.9 293.5h.8M60.7 299.2h.8M61.7 293.7h.8M64.9 289.5h.8M62.7 291.8h.8M63.1 288.9h.8M61.1 297.4h.8M66.4 287.1h.8M59.4 299.4h.8M68.5 287.5h.8M61.0 295.1h.8M59.3 288.3h.8M64.7 293.5h.8M63.9 299.5h.8M55.0 299.9h.8M63.1 300.7h.8M57.3 294.5h.8M59.2 295.4h.8M65.2 295.9h.8M59.1 297.7h.8M63.6 293.1h.8M60.9 299.8h.8M69.4 296.3h.8M61.9 300.0h.8M57.9 297.0h.8M58.2 297.9h.8M58.9 291.6h.8M62.7 293.0h.8M62.3 289.1h.8M65.8 293.6h.8M62.9 294.1h.8M62.7 298.6h.8M63.5 289.2h.8M61.8 309.4h.8M63.3 294.3h.8M65.1 300.5h.8M65.1 299.6h.8M60.2 283.5h.8M55.7 293.7h.8M59.3 301.5h.8M63.3 284.0h.8M53.0 298.3h.8M60.5 290.8h.8M63.9 292.8h.8M60.1 295.9h.8M58.1 286.5h.8M68.7 295.8h.8M67.4 292.0h.8M61.3 291.5h.8M67.1 298.0h.8M67.0 310.7h.8M58.0 296.4h.8M72.1 297.4h.8M58.8 294.6h.8M61.2 291.6h.8M58.2 296.0h.8M62.5 301.7h.8M57.3 295.7h.8M62.2 298.9h.8M66.2 293.9h.8M63.0 306.2h.8M61.2 287.5h.8M67.9 297.5h.8M58.9 297.3h.8M65.8 296.1h.8M61.1 289.8h.8M63.0 289.7h.8M62.3 293.8h.8M62.7 295.3h.8M62.0 289.4h.8M59.3 290.1h.8M60.1 297.4h.8M63.8 299.5h.8M61.8 292.3h.8M57.9 291.7h.8M59.6 291.6h.8M59.6 306.0h.8M62.0 297.1h.8M62.8 294.5h.8M62.5 299.4h.8M59.7 305.2h.8M62.2 300.1h.8M57.1 288.4h.8M51.5 294.5h.8M61.9 293.0h.8M56.0 293.3h.8M58.6 289.4h.8M57.7 293.1h.8M64.5 289.9h.8M57.7 296.4h.8M63.2 295.0h.8M60.3 288.5h.8M57.5 287.1h.8M56.3 292.7h.8M63.8 297.8h.8M63.5 297.1h.8M65.0 294.5h.8M68.9 279.9h.8M63.1 292.6h.8M63.1 291.5h.8M61.6 293.3h.8M62.5 289.3h.8M60.8 292.9h.8M58.8 291.8h.8M69.5 307.1h.8M55.2 298.0h.8M63.0 293.9h.8M63.7 294.6h.8M62.6 294.3h.8M58.5 295.7h.8M61.3 293.0h.8M60.3 294.7h.8M58.1 299.5h.8M61.9 298.6h.8M60.5 296.2h.8M60.0 300.8h.8M64.6 295.8h.8M58.1 290.4h.8M63.6 286.9h.8M59.8 291.7h.8M63.6 294.5h.8M62.3 296.6h.8M62.9 299.7h.8M58.4 292.2h.8M59.1 291.2h.8M58.8 298.3h.8M62.6 300.1h.8M64.8 292.7h.8M66.0 296.3h.8M60.1 301.0h.8M62.3 296.3h.8M56.0 294.6h.8M53.8 285.4h.8M58.8 300.8h.8M59.5 297.7h.8M56.2 295.4h.8M55.4 292.7h.8M63.9 289.2h.8M59.0 294.4h.8M55.8 294.3h.8M70.5 299.8h.8M62.6 289.4h.8M60.8 301.3h.8M64.4 295.0h.8M59.1 300.2h.8M67.8 290.4h.8M56.3 296.4h.8M57.1 300.3h.8M61.4 295.3h.8M59.1 288.2h.8M67.1 293.3h.8M56.0 297.2h.8M59.2 288.5h.8M62.8 288.3h.8M64.0 295.9h.8M65.6 290.5h.8M63.2 297.9h.8M70.0 289.5h.8M60.1 286.5h.8M62.5 291.3h.8M65.0 301.6h.8M60.7 290.9h.8M60.8 294.8h.8M60.2 295.9h.8M59.5 290.5h.8M57.7 299.7h.8M59.8 295.6h.8M56.2 296.8h.8M63.3 287.2h.8M56.0 286.9h.8M69.5 282.4h.8M68.1 294.0h.8M65.9 293.8h.8M61.1 298.1h.8M59.7 301.5h.8M66.4 293.7h.8M62.5 293.6h.8M63.9 296.9h.8M59.2 301.7h.8M65.8 291.1h.8M58.9 297.7h.8M62.2 293.7h.8M55.5 293.3h.8M59.4 298.5h.8M63.7 291.3h.8M60.2 290.0h.8M60.2 297.8h.8M64.7 294.7h.8M61.6 293.6h.8M66.4 294.2h.8M52.9 297.1h.8M63.9 293.2h.8M63.7 298.3h.8M56.1 296.7h.8M57.0 301.5h.8M65.0 300.5h.8M57.9 298.7h.8M59.5 293.9h.8M64.0 295.4h.8M60.6 292.2h.8M63.6 307.7h.8M58.6 293.8h.8M62.9 297.3h.8M65.8 301.0h.8M63.0 288.7h.8M53.7 291.1h.8M64.2 293.1h.8M62.0 290.4h.8M58.5 289.1h.8M66.9 292.5h.8M55.4 300.7h.8M68.7 298.1h.8M59.5 295.0h.8M67.6 295.0h.8M61.6 287.4h.8M56.9 298.0h.8M62.2 296.8h.8M63.0 290.0h.8M63.8 295.8h.8M65.7 294.0h.8M58.5 292.5h.8M63.6 290.4h.8M64.5 291.8h.8M60.8 290.6h.8M58.3 296.9h.8M58.3 296.5h.8M64.6 296.3h.8M64.7 294.0h.8M58.7 293.0h.8M56.9 304.1h.8M66.4 286.5h.8M56.1 300.2h.8M62.4 296.5h.8M58.8 295.2h.8M55.3 292.6h.8M62.3 293.9h.8M61.1 289.5h.8M67.1 288.6h.8M70.2 294.4h.8M61.1 287.4h.8M65.6 298.6h.8M65.6 299.9h.8M59.9 279.4h.8M58.6 287.9h.8M67.7 296.1h.8M60.4 295.8h.8M61.7 295.4h.8M60.7 296.8h.8M61.3 298.2h.8M59.6 298.8h.8M64.5 302.9h.8M66.4 295.0h.8M60.4 298.8h.8M56.7 287.6h.8M62.0 294.3h.8M56.3 289.4h.8M59.4 301.1h.8M66.3 305.4h.8M70.3 297.3h.8M63.2 289.0h.8M57.9 294.4h.8M64.7 295.0h.8M53.5 295.8h.8M59.2 299.8h.8M67.4 299.2h.8M64.5 283.0h.8M56.7 301.0h.8M55.7 292.7h.8M64.9 292.4h.8M61.6 301.3h.8M59.6 293.7h.8M63.3 288.7h.8M59.7 288.9h.8M54.7 295.2h.8M64.8 299.0h.8M59.4 301.6h.8M58.1 294.1h.8M56.9 292.8h.8M62.7 302.2h.8M58.8 292.8h.8M64.1 301.5h.8M60.8 296.0h.8M65.8 296.0h.8M60.4 293.8h.8M59.4 296.2h.8M54.5 292.8h.8M57.7 291.8h.8M64.4 294.3h.8M73.0 292.0h.8M57.2 296.3h.8M58.0 295.3h.8M63.0 293.7h.8M63.6 294.0h.8M59.3 293.9h.8M62.1 302.7h.8M55.9 294.9h.8M60.7 292.2h.8M65.1 293.6h.8M67.8 297.9h.8M61.2 294.0h.8M60.8 294.2h.8M63.5 293.7h.8M65.9 295.6h.8M63.6 296.7h.8M59.0 296.9h.8M63.1 287.5h.8M65.4 290.1h.8M59.2 283.1h.8M56.9 298.5h.8M63.7 299.9h.8M63.1 300.7h.8M65.4 295.5h.8M62.1 300.1h.8M59.4 294.7h.8M60.2 294.3h.8M58.0 288.0h.8M58.3 291.4h.8M59.7 292.2h.8M60.0 299.0h.8M65.9 302.4h.8M57.3 292.8h.8M61.6 296.6h.8M59.6 296.1h.8M67.3 291.4h.8M62.8 287.2h.8M60.4 291.5h.8M64.8 288.4h.8M62.1 293.5h.8M60.1 294.3h.8M67.5 294.1h.8M64.4 294.1h.8M68.2 297.1h.8M66.1 290.7h.8M64.7 298.9h.8M62.3 287.4h.8M57.8 295.2h.8M64.4 296.6h.8M62.1 291.3h.8M64.3 287.7h.8M61.8 297.7h.8M59.3 291.9h.8M58.1 298.4h.8M64.4 298.3h.8M66.6 294.9h.8M60.8 294.9h.8M63.5 299.3h.8M66.9 296.6h.8M58.8 290.7h.8M60.6 295.6h.8M57.7 297.4h.8M66.2 295.8h.8M62.8 295.7h.8M60.1 294.2h.8M55.8 294.3h.8M61.2 290.7h.8M65.5 288.5h.8M60.8 299.9h.8M60.3 292.0h.8M64.2 295.9h.8M57.3 288.1h.8M62.0 295.6h.8M64.0 291.2h.8M59.0 308.2h.8M58.8 290.3h.8M62.8 290.6h.8M61.5 299.1h.8M61.0 300.0h.8M62.6 285.4h.8M62.7 296.0h.8M58.5 298.8h.8M59.4 289.4h.8M63.5 297.9h.8M66.0 292.5h.8M66.8 290.4h.8M58.8 293.3h.8M65.9 292.8h.8M64.6 288.7h.8M61.8 304.9h.8M63.7 292.8h.8M64.9 291.5h.8M68.4 298.7h.8M58.0 294.5h.8M64.1 300.8h.8M61.4 293.7h.8M61.1 296.4h.8M66.1 295.3h.8M64.9 295.6h.8M58.2 293.9h.8M60.8 294.4h.8M62.7 302.4h.8M56.7 291.8h.8M65.0 292.4h.8M61.6 293.3h.8M62.5 297.4h.8M63.1 296.7h.8M68.5 299.0h.8M62.0 288.9h.8M60.6 296.0h.8M68.3 294.1h.8M60.0 293.6h.8M60.0 295.6h.8M56.8 286.1h.8M65.8 296.1h.8M62.9 295.5h.8M63.6 288.5h.8M62.5 294.4h.8M61.4 301.8h.8M59.0 293.1h.8M59.0 297.5h.8M63.5 293.9h.8M62.3 291.2h.8M67.9 290.8h.8M59.1 293.1h.8M60.1 300.7h.8M58.2 298.5h.8M66.9 291.7h.8M57.4 299.3h.8M64.7 294.3h.8M67.2 291.8h.8M61.4 296.8h.8M64.5 290.8h.8M54.1 287.9h.8M60.5 300.6h.8M55.8 286.7h.8M62.5 297.3h.8M61.9 288.1h.8M59.1 294.7h.8M65.4 294.0h.8M63.2 292.9h.8M60.0 285.1h.8M60.0 294.4h.8M56.5 294.7h.8M61.2 290.9h.8M69.7 294.6h.8M59.3 299.3h.8M63.4 291.7h.8M59.9 296.0h.8M64.8 289.8h.8M63.5 296.6h.8M61.1 297.7h.8M55.4 305.9h.8M60.0 298.9h.8M66.3 296.8h.8M61.0 301.1h.8M64.2 290.5h.8M60.1 299.6h.8M55.1 292.5h.8M63.5 292.1h.8M63.1 299.8h.8M59.8 295.9h.8M60.6 300.8h.8M63.0 288.5h.8M59.7 296.1h.8M63.2 292.6h.8M61.2 293.7h.8M53.3 286.4h.8M61.4 299.1h.8M59.7 295.8h.8M58.9 290.5h.8M63.4 288.9h.8M60.1 291.0h.8M63.9 301.1h.8M65.9 294.5h.8M62.4 293.4h.8M56.3 297.1h.8M59.2 295.0h.8M65.3 295.9h.8M61.0 298.2h.8M59.0 296.4h.8M61.6 298.8h.8M63.8 289.6h.8M62.9 295.2h.8M64.3 293.4h.8M58.9 295.4h.8M60.9 294.8h.8M61.0 292.1h.8M61.8 293.4h.8M54.3 299.1h.8M61.1 292.5h.8M57.0 289.4h.8M67.0 297.6h.8M67.6 299.2h.8M68.1 293.8h.8M64.9 295.5h.8M60.2 291.3h.8M65.4 294.1h.8M61.2 299.9h.8M64.2 298.5h.8M58.6 295.6h.8M59.8 293.8h.8M63.6 287.8h.8M68.4 296.4h.8M61.8 297.0h.8M70.2 299.6h.8M72.0 303.9h.8M57.2 296.6h.8M61.8 299.2h.8M58.5 290.1h.8M61.4 300.3h.8M60.0 298.8h.8M61.7 301.0h.8M65.5 298.0h.8M65.4 297.0h.8M62.9 301.5h.8M61.9 292.1h.8M62.4 297.8h.8M62.4 299.8h.8M64.0 291.6h.8M62.0 289.9h.8M63.8 296.9h.8M57.2 295.6h.8M64.8 297.7h.8M68.3 297.9h.8M62.6 291.7h.8M56.8 296.5h.8M66.9 300.0h.8M60.7 293.5h.8M51.0 293.8h.8M61.1 290.1h.8M64.2 298.6h.8M63.4 303.6h.8M66.5 289.0h.8M64.2 298.4h.8M62.4 299.0h.8M54.7 292.6h.8M57.9 293.4h.8M62.6 290.5h.8M64.4 291.6h.8M58.2 295.8h.8M59.7 297.9h.8M63.7 295.6h.8M55.0 298.8h.8M54.8 296.0h.8M61.1 289.9h.8M62.9 301.4h.8M60.2 300.3h.8M53.6 292.0h.8M62.0 302.9h.8M57.1 297.1h.8M64.3 295.7h.8M61.6 303.5h.8M62.9 284.1h.8M64.3 288.0h.8M60.0 298.2h.8M65.0 294.0h.8M66.5 290.9h.8M63.4 301.7h.8M66.8 297.2h.8M59.7 289.5h.8M65.3 292.2h.8M62.9 298.8h.8M58.3 302.9h.8M61.7 286.3h.8M60.0 296.2h.8M59.9 293.4h.8M62.3 287.4h.8M65.8 294.4h.8M60.8 288.1h.8M62.4 292.8h.8M56.6 302.2h.8M62.3 297.4h.8M66.2 298.6h.8M64.9 297.8h.8M63.7 296.7h.8M60.0 299.4h.8M58.4 290.0h.8M61.6 293.6h.8M57.1 298.9h.8M57.4 291.9h.8M65.4 293.2h.8M58.6 300.4h.8M68.5 301.9h.8M56.7 292.5h.8M63.5 291.6h.8M57.7 297.7h.8M62.6 296.3h.8M58.1 292.2h.8M62.1 297.8h.8M61.4 297.6h.8M60.3 295.5h.8M63.8 308.1h.8M67.5 301.1h.8M59.8 298.7h.8M65.2 299.7h.8M62.3 308.2h.8M61.8 300.0h.8M70.0 292.0h.8M54.0 296.6h.8M59.5 295.5h.8M55.3 292.7h.8M60.8 296.3h.8M61.1 296.3h.8M75.9 294.9h.8M63.2 293.0h.8M68.5 298.8h.8M66.7 288.2h.8M60.3 298.8h.8M63.7 295.2h.8M68.1 296.4h.8M62.6 284.7h.8M62.7 302.6h.8M63.8 287.6h.8M56.4 291.4h.8M59.0 298.0h.8M63.2 292.5h.8M64.0 293.4h.8M58.6 285.4h.8M60.8 293.3h.8M61.5 296.1h.8M61.4 298.2h.8M64.5 293.9h.8M62.3 296.2h.8M62.6 297.1h.8M56.8 292.2h.8M58.1 291.9h.8M63.1 303.8h.8M56.1 291.4h.8M62.9 300.6h.8M59.5 295.5h.8M59.0 301.7h.8M64.3 292.4h.8M59.5 297.5h.8M58.8 296.7h.8M59.5 294.2h.8M62.2 296.6h.8M72.0 291.8h.8M54.2 294.8h.8M61.9 293.4h.8M61.0 298.6h.8M65.4 294.8h.8M60.6 289.1h.8M52.9 293.6h.8M66.8 294.8h.8M57.9 291.2h.8M61.7 301.1h.8M56.9 297.0h.8M57.9 298.9h.8M60.1 291.8h.8M65.1 293.4h.8M65.0 299.7h.8M59.7 288.9h.8M63.8 296.8h.8M60.5 295.6h.8M62.3 293.0h.8M62.5 295.6h.8M64.2 290.5h.8M59.6 296.2h.8M61.4 289.8h.8M62.7 289.6h.8M62.2 301.4h.8M59.0 292.1h.8M68.2 285.9h.8M60.2 299.5h.8M64.7 291.8h.8M62.7 279.6h.8M66.4 294.9h.8M53.9 299.3h.8M69.4 296.8h.8M61.1 302.8h.8M57.4 294.7h.8M62.4 297.9h.8M70.2 290.8h.8M63.8 295.9h.8M57.4 302.0h.8M60.2 297.4h.8M66.8 295.9h.8M56.7 286.5h.8M61.2 293.5h.8M60.8 289.5h.8M69.9 298.6h.8M60.8 291.9h.8M66.7 296.8h.8M59.4 290.8h.8M58.9 303.6h.8M65.6 290.0h.8M64.2 295.8h.8M55.5 306.8h.8M64.2 296.2h.8M64.3 291.3h.8M59.6 297.9h.8M62.7 299.6h.8M62.9 299.1h.8M60.1 286.5h.8M59.7 296.2h.8M59.4 285.8h.8M60.9 303.6h.8M57.0 295.5h.8M61.7 293.2h.8M56.4 298.2h.8M62.2 297.4h.8M61.6 290.0h.8M58.1 302.4h.8M65.0 294.1h.8M69.0 287.4h.8M66.7 301.4h.8M56.9 302.0h.8M66.6 300.8h.8M62.7 297.7h.8M61.7 291.3h.8M59.7 299.4h.8M61.9 303.5h.8M67.0 298.8h.8M63.9 302.3h.8M60.4 291.8h.8M59.4 299.8h.8M60.3 299.4h.8M64.0 288.6h.8M68.7 288.0h.8M58.0 292.0h.8M61.9 295.6h.8M60.5 297.2h.8M59.1 294.2h.8M63.3 294.9h.8M63.9 294.7h.8M56.7 295.6h.8M58.1 297.8h.8M66.3 297.4h.8M63.0 295.0h.8M63.8 296.4h.8M60.0 293.2h.8M60.5 298.8h.8M63.6 293.0h.8M60.0 302.6h.8M57.8 295.1h.8M61.9 296.5h.8M65.2 291.8h.8M58.1 293.7h.8M65.7 296.0h.8M64.4 295.3h.8M58.7 292.5h.8M61.9 290.1h.8M61.7 295.4h.8M64.2 295.9h.8M64.3 297.7h.8M57.1 300.8h.8M56.9 293.8h.8M65.6 286.3h.8M62.3 294.6h.8M63.4 287.0h.8M63.1 289.5h.8M67.5 299.8h.8M57.5 297.8h.8M65.9 292.4h.8M58.9 292.4h.8M64.5 294.8h.8M66.8 287.4h.8M56.8 297.4h.8M63.3 293.7h.8M60.9 303.5h.8M60.8 290.5h.8M62.0 299.7h.8M58.0 292.2h.8M58.3 299.8h.8M64.3 290.9h.8M65.0 298.5h.8M59.8 293.3h.8M56.5 291.6h.8M70.3 294.6h.8M65.9 297.4h.8M63.2 297.1h.8M58.1 302.3h.8M59.7 298.9h.8M62.8 283.4h.8M58.4 293.5h.8M67.7 286.3h.8M62.4 293.5h.8M63.3 298.0h.8M58.1 289.3h.8M58.6 290.0h.8M59.0 295.9h.8M62.9 294.0h.8M60.9 302.3h.8M60.8 296.7h.8M63.0 297.6h.8M62.7 303.1h.8M67.3 293.0h.8M61.2 295.2h.8M58.2 290.8h.8M61.8 296.4h.8M67.2 299.9h.8M59.9 301.4h.8M62.1 295.1h.8M60.6 292.1h.8M63.4 291.8h.8M62.8 289.0h.8M58.9 295.8h.8M61.0 301.4h.8M65.3 284.6h.8M65.9 285.5h.8M65.2 301.6h.8M65.0 288.0h.8M60.7 296.8h.8M60.6 289.6h.8M65.3 298.8h.8M57.6 298.8h.8M61.7 296.0h.8M55.1 299.0h.8M60.5 295.5h.8M59.3 297.8h.8M57.5 303.5h.8M64.0 300.2h.8M59.2 292.3h.8M60.5 291.7h.8M60.9 294.2h.8M59.2 294.3h.8M67.0 295.6h.8M60.1 292.6h.8M62.6 298.2h.8M57.1 295.5h.8M60.2 296.9h.8M60.7 295.3h.8M60.8 298.1h.8M59.8 289.9h.8M62.4 302.4h.8M67.5 296.9h.8M61.4 297.3h.8M61.4 298.1h.8M60.5 300.2h.8M71.1 298.6h.8M67.7 296.4h.8M63.9 294.5h.8M64.4 287.9h.8M59.3 296.3h.8M61.3 293.9h.8M62.6 293.9h.8M62.3 306.1h.8M58.8 287.0h.8M59.1 295.6h.8M63.8 300.8h.8M63.0 299.7h.8M54.2 300.9h.8M62.2 289.6h.8M66.5 291.0h.8M59.5 298.1h.8M62.8 294.0h.8M56.6 303.0h.8M64.9 296.4h.8M57.8 296.2h.8M57.3 297.3h.8M60.7 294.1h.8M70.5 295.9h.8M59.7 292.3h.8M57.3 295.2h.8M63.6 293.2h.8M62.7 296.5h.8M67.9 289.0h.8M57.3 288.7h.8M56.1 297.4h.8M60.7 296.4h.8M63.3 291.0h.8M63.2 294.4h.8M65.8 290.7h.8M56.5 304.6h.8M58.9 288.3h.8M61.4 303.1h.8M64.9 291.7h.8M63.6 297.3h.8M60.4 294.2h.8M58.2 293.7h.8M65.1 299.6h.8M65.3 299.1h.8M71.7 294.1h.8M61.2 291.3h.8M67.8 304.7h.8M57.5 301.7h.8M59.9 296.0h.8M59.4 294.1h.8M60.2 296.7h.8M58.7 295.8h.8M59.9 300.8h.8M61.7 291.1h.8M60.3 295.5h.8M64.3 291.9h.8M61.6 301.3h.8M61.9 303.5h.8M67.2 295.0h.8M63.0 297.8h.8M62.5 301.7h.8M61.8 294.1h.8M62.1 291.2h.8M64.0 300.1h.8M59.0 297.7h.8M66.0 294.5h.8M67.6 302.0h.8M66.1 296.5h.8M60.1 287.4h.8M56.1 297.0h.8M60.3 295.1h.8M62.4 303.9h.8M64.9 295.3h.8M61.2 294.5h.8M60.8 297.4h.8M67.4 296.5h.8M59.5 289.1h.8M65.8 295.9h.8M65.2 293.9h.8M57.1 301.7h.8M62.9 306.2h.8M59.9 290.4h.8M58.5 291.1h.8M55.2 291.6h.8M56.2 292.5h.8M63.4 292.3h.8M60.5 295.7h.8M62.9 300.3h.8M58.0 289.6h.8M60.7 288.5h.8M60.9 287.1h.8M56.3 300.4h.8M55.9 301.4h.8M63.5 288.5h.8M62.4 288.1h.8M58.5 296.0h.8M61.5 300.3h.8M64.3 300.0h.8M68.5 296.3h.8M58.7 298.5h.8M64.1 296.9h.8M69.6 292.9h.8M62.1 304.0h.8M67.2 295.4h.8M52.5 290.4h.8M67.1 293.3h.8M61.9 288.5h.8M55.1 295.5h.8M64.7 300.4h.8M65.7 289.7h.8M66.3 300.5h.8M66.2 304.8h.8M61.8 297.1h.8M59.2 290.2h.8M60.2 291.6h.8M61.8 293.9h.8M63.4 289.7h.8M60.1 289.8h.8M62.1 294.3h.8M65.1 294.6h.8M63.1 298.2h.8M70.2 290.0h.8M69.7 303.9h.8M57.7 300.2h.8M59.8 299.4h.8M57.1 292.5h.8M57.7 303.3h.8M63.9 293.9h.8M58.3 303.6h.8M58.1 300.3h.8M60.9 291.4h.8M64.8 293.4h.8M60.6 303.9h.8M60.6 299.9h.8M65.2 294.7h.8M63.6 296.3h.8M63.5 296.3h.8M65.3 291.9h.8M58.2 294.5h.8M62.7 292.5h.8M59.6 293.5h.8M65.6 297.5h.8M64.9 291.1h.8M58.1 298.7h.8M66.8 295.9h.8M57.6 298.9h.8M66.1 299.4h.8M62.6 301.0h.8M58.7 298.3h.8M57.8 298.6h.8M60.8 294.6h.8M61.8 298.0h.8M59.3 291.4h.8M63.9 294.3h.8M56.8 298.8h.8M61.9 295.2h.8M61.9 297.4h.8M55.1 290.7h.8M63.0 301.6h.8M57.3 292.8h.8M52.8 297.2h.8M59.7 295.3h.8M61.1 299.6h.8M65.2 293.7h.8M60.1 290.9h.8M67.3 286.9h.8M67.1 294.0h.8M65.9 290.0h.8M66.7 297.8h.8M63.2 301.9h.8M59.9 285.4h.8M64.3 289.6h.8M65.4 296.8h.8M62.8 301.0h.8M61.0 296.8h.8M56.2 296.9h.8M64.4 297.7h.8M63.2 298.0h.8M57.1 302.8h.8M62.3 298.2h.8M64.5 289.8h.8M61.5 293.3h.8M64.7 296.4h.8M64.6 291.8h.8M56.5 294.2h.8M60.8 293.1h.8M63.7 292.3h.8M65.2 298.6h.8M67.0 293.7h.8M54.9 290.5h.8M61.6 292.2h.8M64.5 295.6h.8M66.4 305.0h.8M68.0 296.6h.8M58.5 302.1h.8M60.5 297.7h.8M58.0 285.7h.8M64.9 297.1h.8M57.1 291.6h.8M66.2 289.3h.8M65.3 290.6h.8M63.7 303.5h.8M54.0 288.3h.8M59.4 292.6h.8M64.6 300.7h.8M56.7 298.4h.8M61.0 287.7h.8M61.5 294.9h.8M65.1 293.1h.8M62.9 294.5h.8M62.9 298.8h.8M60.3 292.8h.8M61.9 294.0h.8M61.4 302.0h.8M64.5 287.1h.8M61.2 293.7h.8M65.7 297.5h.8M55.7 289.8h.8M66.3 292.6h.8M61.3 289.5h.8M66.0 296.1h.8M62.2 292.6h.8M65.0 299.0h.8M67.3 300.0h.8M59.9 295.6h.8M62.2 293.7h.8M61.3 296.6h.8M62.6 295.7h.8M56.0 289.9h.8M61.3 300.3h.8M61.0 296.4h.8M59.0 299.0h.8M61.2 289.2h.8M56.2 299.4h.8M67.0 305.0h.8M63.5 298.2h.8M68.8 288.8h.8M58.7 295.6h.8M57.6 295.1h.8M62.9 296.4h.8M55.8 294.3h.8M62.7 297.7h.8M59.3 293.3h.8M60.7 296.4h.8M62.8 292.3h.8M62.0 295.8h.8M68.7 299.9h.8M64.2 293.2h.8M57.2 298.4h.8M65.5 291.4h.8M57.0 293.7h.8M62.2 294.3h.8M57.3 301.1h.8M58.8 291.9h.8M66.7 300.9h.8M59.8 288.7h.8M59.5 294.7h.8M59.8 299.5h.8M60.7 298.5h.8M67.1 290.8h.8M57.6 289.8h.8M57.3 299.4h.8M64.0 289.7h.8M56.0 298.0h.8M60.5 293.0h.8M66.0 295.3h.8M61.9 305.9h.8M60.1 302.4h.8M59.3 299.2h.8M58.5 289.1h.8M59.7 296.8h.8M62.3 295.6h.8M66.4 294.9h.8M65.4 301.5h.8M59.8 287.6h.8M59.2 296.8h.8M64.4 296.0h.8M55.2 292.0h.8M60.2 303.2h.8M60.6 289.6h.8M57.8 295.5h.8M58.2 295.7h.8M63.1 285.4h.8M55.8 288.9h.8M58.5 291.0h.8M59.4 299.0h.8M62.1 299.7h.8M56.8 298.1h.8M65.8 296.5h.8M60.7 285.4h.8M60.8 296.3h.8M60.5 293.0h.8M59.3 300.7h.8M58.2 301.5h.8M66.0 305.6h.8M62.5 298.6h.8M61.4 299.1h.8M65.4 290.7h.8M59.2 295.7h.8M64.1 289.7h.8M61.8 299.4h.8M58.5 289.9h.8M64.5 294.4h.8M56.3 291.6h.8M64.1 293.2h.8M58.5 297.4h.8M63.2 292.8h.8M66.8 296.4h.8M63.8 290.8h.8M59.5 301.7h.8M61.6 292.4h.8M60.4 300.0h.8M57.5 305.1h.8M57.7 284.2h.8M61.9 290.8h.8M63.7 294.4h.8M55.3 300.7h.8M61.5 293.1h.8M63.6 297.1h.8M62.1 292.0h.8M58.1 297.9h.8M65.5 289.8h.8M57.3 299.2h.8M64.1 281.7h.8M67.5 286.7h.8M54.3 303.6h.8M62.6 296.1h.8M62.8 291.2h.8M62.5 305.4h.8M58.9 300.1h.8M60.5 300.5h.8M56.6 293.4h.8M62.2 298.2h.8M63.6 297.6h.8M59.3 287.7h.8M58.3 298.0h.8M59.9 294.5h.8M61.6 301.2h.8M61.9 301.3h.8M61.3 292.4h.8M61.9 292.6h.8M56.9 296.2h.8M51.7 298.3h.8M63.9 293.4h.8M66.8 294.8h.8M56.5 298.1h.8M59.2 297.3h.8M62.7 300.7h.8M65.1 296.4h.8M64.0 291.2h.8M66.3 287.2h.8M61.5 299.0h.8M63.1 293.8h.8M63.1 293.7h.8M60.1 294.0h.8M66.0 288.1h.8M63.9 293.5h.8M65.2 283.3h.8M60.2 293.5h.8M65.4 291.2h.8M57.8 303.8h.8M63.1 297.4h.8M52.2 294.3h.8M58.0 296.1h.8M64.3 298.7h.8M60.0 291.8h.8M62.3 294.2h.8M55.8 293.7h.8M67.2 306.7h.8M63.8 295.6h.8M61.5 286.2h.8M63.1 299.0h.8M62.8 307.2h.8M66.8 290.9h.8M62.4 311.3h.8M56.3 295.0h.8M60.7 299.9h.8M66.3 292.7h.8M63.7 294.0h.8M60.1 289.6h.8M63.8 290.4h.8M62.1 285.4h.8M63.8 300.6h.8M55.9 290.0h.8M58.4 297.0h.8M64.0 296.8h.8M60.8 292.3h.8M62.9 295.5h.8M68.7 294.8h.8M60.5 293.0h.8M62.5 295.5h.8M59.6 295.5h.8M59.4 290.6h.8M61.4 289.3h.8M56.4 291.3h.8M54.0 295.8h.8M66.6 301.7h.8M61.3 302.1h.8M65.7 296.7h.8M62.1 299.7h.8M62.2 295.8h.8M64.1 300.4h.8M64.2 295.9h.8M57.3 297.1h.8M66.0 294.0h.8M58.1 295.2h.8M62.4 304.1h.8M70.9 289.7h.8M61.9 295.3h.8M67.7 292.5h.8M60.4 299.7h.8M63.9 303.7h.8M61.8 293.8h.8M63.1 282.4h.8M58.5 298.1h.8M58.3 298.1h.8M62.8 287.4h.8M56.0 294.1h.8M58.6 294.9h.8M64.0 284.5h.8M59.4 298.4h.8M58.4 297.3h.8M57.6 296.4h.8M62.2 290.3h.8M60.3 291.9h.8M62.2 292.3h.8M61.0 297.5h.8M68.3 290.7h.8M60.1 302.1h.8M54.6 297.0h.8M62.1 285.1h.8M61.6 303.1h.8M62.2 296.0h.8M55.8 292.7h.8M65.7 295.7h.8M61.5 286.7h.8M61.5 296.1h.8M55.9 283.8h.8M63.3 290.5h.8M61.4 301.6h.8M66.5 301.1h.8M60.1 293.6h.8M57.2 290.7h.8M62.1 299.6h.8M58.3 295.0h.8M63.1 296.2h.8M57.7 298.1h.8M61.2 290.2h.8M60.8 298.9h.8M61.5 285.3h.8M59.8 302.1h.8M58.7 287.9h.8M61.4 292.3h.8M59.6 292.1h.8M62.2 298.6h.8M60.7 298.7h.8M53.6 296.9h.8M61.4 297.7h.8M66.6 297.4h.8M62.7 294.9h.8M63.8 286.2h.8M63.3 284.4h.8M60.0 284.4h.8M56.8 295.0h.8M64.5 294.1h.8M65.4 294.5h.8M63.7 296.2h.8M63.2 294.1h.8M63.1 290.5h.8M61.5 288.1h.8M62.6 286.3h.8M61.7 300.9h.8M62.8 299.4h.8M58.3 288.8h.8M59.4 293.9h.8M63.7 297.2h.8M60.4 302.7h.8M53.0 292.3h.8M62.1 296.0h.8M53.5 300.6h.8M68.5 287.0h.8M64.2 291.7h.8M64.0 295.0h.8M59.3 291.8h.8M57.6 305.1h.8M60.9 299.2h.8M61.7 296.1h.8M58.9 290.6h.8M62.2 299.2h.8M64.1 298.1h.8M63.8 292.7h.8M58.0 293.1h.8M54.0 288.3h.8M61.7 294.8h.8M59.3 299.2h.8M63.2 299.8h.8M67.5 297.9h.8M67.5 299.0h.8M62.7 292.4h.8M65.6 292.9h.8M67.5 300.8h.8M61.8 297.3h.8M62.6 291.4h.8M64.7 297.5h.8M61.5 299.0h.8M59.9 298.5h.8M59.0 295.6h.8M61.7 292.7h.8M59.5 297.0h.8M64.5 303.1h.8M60.5 295.8h.8M66.9 292.0h.8M66.0 296.7h.8M57.3 289.3h.8M65.5 296.2h.8M60.3 293.7h.8M66.5 299.6h.8M63.5 295.6h.8M61.5 300.0h.8M64.1 305.9h.8M59.7 294.1h.8M62.9 291.2h.8M63.1 297.3h.8M61.2 294.7h.8M63.1 295.8h.8M58.2 292.3h.8M63.7 297.7h.8M57.4 295.4h.8M63.9 285.0h.8M63.4 294.0h.8M64.2 296.7h.8M59.8 300.6h.8M72.4 292.4h.8M60.9 291.3h.8M62.3 300.5h.8M59.1 292.2h.8M66.8 295.6h.8M60.1 297.3h.8M65.3 298.6h.8M58.4 295.1h.8M62.9 289.9h.8M60.5 299.8h.8M65.1 293.1h.8M60.8 292.7h.8M58.7 304.5h.8M63.4 299.2h.8M57.6 290.1h.8M58.4 292.8h.8M64.5 293.9h.8M55.2 291.6h.8M64.5 286.1h.8M60.4 298.8h.8M58.6 298.7h.8M62.7 296.2h.8M64.0 293.2h.8M59.8 296.1h.8M61.2 298.1h.8M64.6 290.2h.8M64.5 293.5h.8M61.6 292.5h.8M59.1 298.3h.8M58.5 296.3h.8M59.7 289.0h.8M64.2 292.2h.8M63.9 303.3h.8M62.9 290.6h.8M66.7 295.8h.8M60.8 292.1h.8M60.5 300.9h.8M60.5 294.8h.8M68.5 293.0h.8M54.7 289.6h.8M62.9 293.9h.8M63.4 298.9h.8M62.1 298.2h.8M70.0 288.9h.8M66.0 302.4h.8M64.6 293.9h.8M58.7 290.2h.8M63.6 295.7h.8M60.6 292.2h.8M62.0 292.4h.8M62.6 292.1h.8M60.2 294.6h.8M64.1 292.7h.8M67.6 287.1h.8M65.5 297.5h.8M62.7 292.6h.8M55.2 300.6h.8M65.7 297.6h.8M65.7 297.9h.8M61.2 295.9h.8M60.3 301.1h.8M64.2 293.5h.8M59.1 290.4h.8M64.7 296.7h.8M58.2 282.4h.8M58.7 293.3h.8M62.0 296.1h.8M56.9 293.1h.8M62.0 300.9h.8M63.8 298.3h.8M57.4 295.6h.8M65.2 293.2h.8M60.0 300.1h.8M63.9 291.9h.8M62.7 293.1h.8M60.4 298.5h.8M60.1 297.8h.8M56.0 304.5h.8M59.5 294.0h.8M59.3 286.3h.8M67.7 298.1h.8M65.5 300.9h.8M57.2 294.3h.8M64.8 302.3h.8M62.7 303.3h.8M60.6 291.9h.8M63.6 292.8h.8M64.7 289.2h.8M60.0 297.6h.8M61.0 298.4h.8M62.6 297.8h.8M58.6 289.3h.8M62.6 291.5h.8M61.7 288.4h.8M59.6 287.5h.8M59.1 288.8h.8M63.0 287.7h.8M65.0 294.2h.8M63.1 297.0h.8M59.0 297.9h.8M64.6 294.9h.8M62.6 291.9h.8M64.0 295.0h.8M66.0 297.7h.8M58.9 293.6h.8M61.5 295.3h.8M59.9 293.6h.8M59.0 292.6h.8M68.9 295.2h.8M65.2 289.8h.8M55.9 299.9h.8M63.5 287.8h.8M60.1 297.1h.8M66.0 288.7h.8M62.3 302.0h.8M61.4 299.0h.8M62.5 291.2h.8M63.3 292.9h.8M62.1 289.8h.8M61.2 294.7h.8M61.5 296.9h.8M63.8 306.8h.8M58.1 288.7h.8M62.0 300.8h.8M61.6 292.3h.8M60.3 296.3h.8M64.5 299.1h.8M57.5 297.5h.8M60.7 297.0h.8M59.0 294.1h.8M63.9 295.0h.8M60.4 295.7h.8M62.2 300.6h.8M63.3 288.2h.8M56.5 292.7h.8M63.6 289.2h.8M59.4 290.5h.8M61.1 291.3h.8M61.6 300.1h.8M64.8 304.9h.8M64.5 301.3h.8M68.1 289.5h.8M62.6 295.3h.8M60.4 289.7h.8M60.3 297.1h.8M64.3 300.9h.8M67.5 297.7h.8M63.2 299.0h.8M60.0 294.3h.8M62.9 285.9h.8M62.9 285.8h.8M62.1 294.5h.8M59.4 297.7h.8M53.2 300.9h.8M60.1 293.4h.8M65.6 295.3h.8M62.7 296.2h.8M54.4 299.9h.8M62.0 294.7h.8M55.6 289.9h.8M68.9 300.0h.8M62.7 296.9h.8M57.8 296.8h.8M64.8 289.1h.8M59.3 295.0h.8M63.9 287.1h.8M62.1 285.7h.8M57.9 293.9h.8M64.3 293.0h.8M57.4 297.6h.8M66.6 301.7h.8M62.2 294.8h.8M58.4 303.3h.8M55.7 292.3h.8M67.6 298.5h.8M67.0 289.1h.8M57.7 295.6h.8M67.7 293.5h.8M62.6 294.0h.8M61.2 297.7h.8M61.7 286.3h.8M61.1 295.5h.8M66.9 291.2h.8M62.5 295.5h.8M55.6 296.8h.8M69.2 293.3h.8M65.0 293.3h.8M58.2 289.7h.8M60.8 297.5h.8M58.9 291.9h.8M62.2 297.0h.8M63.4 288.4h.8M62.8 301.3h.8M59.9 290.3h.8M59.2 300.3h.8M64.9 292.9h.8M61.7 297.5h.8M69.8 294.3h.8M59.2 298.1h.8M64.7 295.0h.8M62.2 300.9h.8M59.4 298.1h.8M66.7 298.1h.8M62.4 302.7h.8M58.9 291.8h.8M60.9 301.0h.8M65.5 295.3h.8M57.8 288.2h.8M66.8 297.2h.8M64.4 294.1h.8M61.0 302.8h.8M66.7 292.7h.8M68.0 295.2h.8M64.1 296.1h.8M62.6 286.2h.8M68.4 297.3h.8M67.2 290.4h.8M58.8 301.5h.8M61.3 302.7h.8M61.3 295.0h.8M60.6 287.7h.8M56.8 295.8h.8M65.1 295.8h.8M62.3 298.3h.8M62.3 293.6h.8M66.9 289.5h.8M60.0 294.3h.8M61.8 290.7h.8M62.9 303.2h.8M60.5 291.7h.8M61.6 292.0h.8M64.7 294.8h.8M62.0 289.3h.8M66.6 292.9h.8M59.4 294.4h.8M62.7 292.7h.8M57.0 293.8h.8M61.6 300.7h.8M59.6 297.0h.8M66.7 288.8h.8M64.6 293.0h.8M63.8 298.4h.8M68.4 292.0h.8M67.0 295.4h.8M64.5 294.9h.8M59.6 297.4h.8M57.0 294.2h.8M61.9 294.3h.8M60.8 291.0h.8M59.7 296.7h.8M61.0 290.7h.8M56.2 303.0h.8M67.2 294.9h.8M58.0 294.0h.8M59.7 298.6h.8M64.0 294.6h.8M56.3 295.4h.8M65.2 294.8h.8M65.3 291.7h.8M60.9 290.7h.8M58.2 291.8h.8M60.3 300.2h.8M55.5 292.1h.8M66.8 293.1h.8M62.2 292.9h.8M59.4 298.2h.8M58.8 304.1h.8M64.0 290.7h.8M67.3 297.5h.8M57.5 295.6h.8M60.0 293.6h.8M55.9 297.3h.8M64.4 289.1h.8M62.5 298.8h.8M69.9 296.0h.8M61.6 290.4h.8M60.5 302.3h.8M59.5 298.9h.8M65.0 300.4h.8M56.3 288.3h.8M64.6 293.7h.8M62.9 292.6h.8M60.2 297.9h.8M58.8 301.2h.8M65.7 286.2h.8M68.5 295.1h.8M60.4 294.4h.8M63.9 299.6h.8M68.1 294.8h.8M59.8 289.1h.8M61.1 294.1h.8M57.7 290.2h.8M61.5 291.4h.8M61.7 295.2h.8M60.5 292.8h.8M59.4 296.3h.8M56.4 288.0h.8M57.3 305.7h.8M58.6 300.8h.8M64.3 298.3h.8M60.2 289.0h.8M59.0 285.1h.8M64.3 291.0h.8M64.0 293.9h.8M59.3 305.3h.8M59.8 301.0h.8M64.3 292.6h.8M63.3 300.6h.8M59.1 300.6h.8M62.8 295.1h.8M61.9 300.6h.8M65.9 296.5h.8M58.9 292.0h.8M65.1 289.6h.8M63.5 294.4h.8M58.4 299.6h.8M65.7 288.8h.8M65.2 287.6h.8M57.4 297.5h.8M69.0 282.5h.8M58.0 303.4h.8M58.8 293.0h.8M60.9 298.4h.8M64.7 303.6h.8M64.1 288.3h.8M61.7 290.2h.8M66.8 305.3h.8M63.4 293.7h.8M66.9 294.4h.8M72.0 296.0h.8M62.7 299.9h.8M52.9 301.1h.8M60.4 295.5h.8M58.2 293.5h.8M62.3 294.8h.8M62.3 296.4h.8M57.6 301.0h.8M57.9 295.6h.8M61.1 303.4h.8M61.3 291.1h.8M52.7 297.4h.8M65.5 303.1h.8M62.1 300.9h.8M62.0 296.5h.8M63.1 290.9h.8M58.4 291.7h.8M61.8 294.3h.8M65.7 296.4h.8M65.8 293.9h.8M63.6 288.3h.8M61.0 291.6h.8M59.1 297.4h.8M66.7 298.8h.8M63.9 288.6h.8M60.5 293.3h.8M54.2 287.3h.8M58.9 292.4h.8M55.1 311.3h.8M66.5 295.3h.8M62.7 293.4h.8M59.3 292.3h.8M61.0 289.4h.8M71.3 286.4h.8M66.4 294.8h.8M57.2 293.7h.8M61.5 301.8h.8M57.6 287.5h.8M55.8 297.0h.8M62.6 301.2h.8M70.7 286.0h.8M67.6 298.0h.8M62.2 287.6h.8M60.6 297.4h.8M62.7 301.8h.8M65.7 295.0h.8M56.7 296.3h.8M55.2 291.8h.8M68.8 296.3h.8M63.0 300.2h.8M67.8 294.2h.8M62.9 294.4h.8M67.4 296.8h.8M59.8 298.8h.8M63.8 287.5h.8M67.6 295.3h.8M65.7 291.8h.8M60.3 297.3h.8M65.3 299.8h.8M59.6 296.4h.8M56.8 300.9h.8M63.9 290.4h.8M67.1 293.1h.8M65.1 290.4h.8M57.4 295.3h.8M65.2 295.4h.8M64.5 294.1h.8M60.3 289.4h.8M52.9 294.6h.8M65.7 293.0h.8M65.2 297.8h.8M63.8 293.8h.8M55.7 300.4h.8M56.5 296.1h.8M65.7 286.5h.8M64.9 294.2h.8M63.8 288.4h.8M61.1 299.5h.8M63.4 301.6h.8M60.0 294.9h.8M60.9 297.0h.8M58.8 288.3h.8M62.9 284.7h.8M60.5 292.4h.8M65.5 293.8h.8M64.6 288.0h.8M59.0 295.4h.8M68.8 296.4h.8M57.9 298.0h.8M63.7 302.1h.8M66.0 298.7h.8M66.7 293.3h.8M53.9 295.5h.8M65.7 297.8h.8M66.5 290.2h.8M67.3 301.1h.8M53.8 299.2h.8M59.5 294.0h.8M61.6 292.1h.8M60.4 312.5h.8M66.9 298.9h.8M59.5 299.3h.8M66.5 303.3h.8M64.1 299.5h.8M56.6 296.0h.8M58.3 298.3h.8M60.3 290.8h.8M62.4 298.3h.8M65.7 287.9h.8M61.3 297.0h.8M65.4 297.6h.8M56.2 287.8h.8M50.7 303.9h.8M60.8 289.7h.8M63.7 299.8h.8M60.7 292.6h.8M58.3 296.5h.8M63.6 292.0h.8M69.2 306.5h.8M61.6 299.8h.8M59.3 303.4h.8M58.9 298.7h.8M69.3 298.3h.8M61.9 295.8h.8M64.3 294.0h.8M66.5 297.9h.8M66.0 295.8h.8M58.6 294.4h.8M65.5 288.7h.8M65.1 293.7h.8M63.8 297.9h.8M65.7 292.9h.8M59.9 296.7h.8M61.7 294.4h.8M60.1 290.3h.8M64.8 290.9h.8M59.6 291.7h.8M63.5 293.8h.8M58.0 293.9h.8M61.5 300.3h.8M60.7 290.1h.8M61.6 285.7h.8M62.5 298.3h.8M61.3 293.0h.8M61.2 294.6h.8M54.3 306.9h.8M66.1 301.9h.8M59.7 297.8h.8M61.1 299.5h.8M58.9 295.7h.8M65.7 299.5h.8M58.7 292.3h.8M63.9 291.8h.8M66.4 293.0h.8M68.1 302.4h.8M66.4 302.3h.8M64.3 292.3h.8M57.6 300.5h.8M66.8 294.4h.8M66.4 300.1h.8M65.1 293.7h.8M65.0 299.5h.8M62.3 294.6h.8M60.1 293.8h.8M66.0 295.0h.8M66.7 295.9h.8M58.2 292.5h.8M65.4 288.8h.8M62.9 303.0h.8M65.3 293.3h.8M63.0 286.8h.8M66.1 284.7h.8M65.8 282.2h.8M65.3 292.3h.8M57.0 301.4h.8M65.1 287.6h.8M62.2 293.7h.8M57.9 286.7h.8M64.7 300.3h.8M57.0 296.9h.8M65.3 296.7h.8M68.3 301.4h.8M60.2 302.8h.8M65.4 299.9h.8M63.7 292.5h.8M64.5 289.0h.8M57.1 290.3h.8M64.3 287.1h.8M62.6 303.5h.8M64.8 294.3h.8M62.1 295.8h.8M66.1 296.1h.8M63.1 304.5h.8M64.6 292.6h.8M67.1 300.7h.8M62.8 296.6h.8M65.7 294.5h.8M62.9 286.3h.8M64.0 299.4h.8M60.2 291.7h.8M64.9 293.1h.8M66.6 296.2h.8M61.8 295.6h.8M65.0 300.4h.8M63.7 292.1h.8M58.1 295.9h.8M63.4 296.5h.8M66.9 295.3h.8M60.3 298.3h.8M55.6 294.0h.8M62.9 300.8h.8M59.8 291.9h.8M69.0 288.5h.8M62.0 295.0h.8M62.1 300.7h.8M59.8 292.8h.8M63.0 292.3h.8M60.1 293.6h.8M58.8 296.0h.8M61.9 294.4h.8M59.2 296.6h.8M66.9 287.2h.8M57.9 302.1h.8M61.9 297.9h.8M59.6 291.2h.8M57.1 301.5h.8M68.2 297.3h.8M54.5 302.0h.8M67.4 289.7h.8M57.0 302.9h.8M62.5 295.4h.8M70.4 285.7h.8M54.4 298.7h.8M57.1 293.8h.8M66.9 290.5h.8M62.8 294.2h.8M60.1 286.2h.8M62.0 297.9h.8M58.6 294.2h.8M62.6 293.9h.8M67.6 301.7h.8M60.7 295.4h.8M62.6 292.1h.8M66.5 290.8h.8M69.3 294.9h.8M60.0 300.1h.8M63.2 292.5h.8M60.1 290.4h.8M59.8 299.5h.8M60.7 295.5h.8M59.8 295.1h.8M55.9 304.9h.8M54.9 289.6h.8M59.5 296.1h.8M62.6 287.0h.8M66.5 293.8h.8M60.2 297.9h.8M61.5 300.4h.8M64.5 289.3h.8M64.8 299.1h.8M61.7 298.8h.8M61.9 294.6h.8M68.9 306.6h.8M60.9 295.2h.8M60.4 291.1h.8M56.2 297.2h.8M63.7 286.6h.8M61.2 302.4h.8M69.1 299.8h.8M60.9 293.3h.8M65.1 298.0h.8M65.5 297.7h.8M68.1 304.2h.8M57.4 292.3h.8M67.8 289.2h.8M62.2 285.8h.8M61.8 293.8h.8M61.0 287.9h.8M60.7 294.4h.8M60.9 297.1h.8M53.7 293.1h.8M64.0 290.8h.8M62.4 300.7h.8M58.7 294.3h.8M61.9 296.3h.8M70.4 299.6h.8M63.5 289.1h.8M60.7 290.9h.8M68.3 306.8h.8M59.3 294.5h.8M61.6 290.4h.8M60.1 294.0h.8M61.3 292.5h.8M64.8 289.5h.8M64.2 293.3h.8M59.5 295.1h.8M61.7 295.1h.8M62.4 297.7h.8M60.6 287.2h.8M62.0 288.3h.8M59.5 298.8h.8M59.5 293.1h.8M62.3 300.8h.8M58.4 296.6h.8M63.6 288.7h.8M61.4 297.7h.8M58.8 290.5h.8M59.9 296.4h.8M60.4 300.9h.8M61.5 305.0h.8M62.5 294.9h.8M61.4 298.4h.8M59.0 296.6h.8M67.3 298.8h.8M65.4 283.4h.8M62.5 293.4h.8M65.5 296.5h.8M63.3 297.4h.8M61.2 291.7h.8M62.4 299.0h.8M71.7 300.3h.8M65.7 295.5h.8M65.9 294.1h.8M60.7 293.5h.8M64.3 295.8h.8M70.2 300.6h.8M63.6 302.1h.8M66.0 293.0h.8M66.6 290.9h.8M64.4 291.5h.8M67.8 299.7h.8M62.9 296.2h.8M63.9 296.6h.8M59.9 297.4h.8M71.6 296.9h.8M63.2 294.6h.8M62.5 290.4h.8M67.1 292.3h.8M60.4 295.7h.8M62.1 297.0h.8M59.3 293.5h.8M62.2 293.3h.8M60.7 301.5h.8M64.1 293.0h.8M61.7 296.2h.8M60.0 293.7h.8M61.0 291.2h.8M61.7 288.2h.8M60.3 292.7h.8M65.5 291.4h.8M64.5 299.1h.8M62.6 289.9h.8M57.8 293.3h.8M64.0 298.2h.8M57.5 294.7h.8M62.8 297.5h.8M62.3 299.0h.8M60.0 287.5h.8M59.1 293.3h.8M59.6 290.8h.8M69.4 301.4h.8M61.2 294.6h.8M61.4 297.5h.8M65.5 303.0h.8M63.6 293.5h.8M65.9 295.5h.8M57.7 297.1h.8M58.2 294.0h.8M74.0 301.0h.8M61.9 298.9h.8M61.1 299.8h.8M62.7 295.4h.8M65.6 293.6h.8M57.9 293.6h.8M63.1 293.5h.8M62.0 287.6h.8M64.5 296.8h.8M62.7 298.9h.8M60.2 295.1h.8M59.0 292.9h.8M53.4 295.4h.8M65.6 296.2h.8M56.9 296.7h.8M60.7 303.4h.8M68.0 291.3h.8M60.6 296.8h.8M64.3 298.3h.8M61.3 295.5h.8M64.6 294.1h.8M62.2 290.5h.8M60.3 292.5h.8M66.9 298.4h.8M61.1 301.8h.8M57.3 292.2h.8M60.9 297.3h.8M64.0 297.6h.8M58.1 299.8h.8M64.9 296.3h.8M64.8 297.2h.8M69.6 299.3h.8M59.8 289.9h.8M64.5 295.4h.8M56.2 287.1h.8M60.6 286.2h.8M62.5 291.4h.8M63.5 288.2h.8M61.9 297.5h.8M61.8 299.7h.8M59.9 293.8h.8M60.5 294.5h.8M63.2 294.1h.8M64.1 294.0h.8M64.4 295.8h.8M65.6 296.8h.8M66.3 293.1h.8M55.7 291.6h.8M60.2 292.8h.8M61.5 298.8h.8M59.8 293.3h.8M65.8 301.8h.8M64.8 294.1h.8M61.7 301.4h.8M62.5 289.7h.8M66.6 292.0h.8M60.9 297.3h.8M61.0 297.4h.8M65.3 294.4h.8M63.8 304.4h.8M67.1 295.5h.8M63.4 296.5h.8M64.8 292.6h.8M60.2 302.7h.8M58.8 299.0h.8M62.1 297.0h.8M52.7 287.7h.8M63.5 296.8h.8M65.5 293.0h.8M62.4 296.9h.8M61.3 299.3h.8M66.0 291.8h.8M61.9 296.1h.8M65.6 299.1h.8M69.9 295.9h.8M64.7 293.7h.8M65.4 290.4h.8M63.8 292.1h.8M63.0 289.4h.8M63.1 299.6h.8M62.3 295.6h.8M65.9 289.7h.8M56.4 295.1h.8M61.2 289.3h.8M64.4 280.3h.8M59.1 300.6h.8M61.7 300.4h.8M59.6 288.5h.8M63.7 291.9h.8M65.2 296.1h.8M67.2 293.4h.8M63.9 291.3h.8M59.6 292.8h.8M63.0 294.1h.8M64.1 292.6h.8M67.1 296.1h.8M54.5 294.1h.8M63.4 291.7h.8M55.6 295.2h.8M64.6 287.6h.8M63.7 301.7h.8M63.9 287.3h.8M65.2 294.8h.8M63.5 296.7h.8M59.8 297.0h.8M63.3 296.3h.8M66.3 300.8h.8M61.7 290.1h.8M62.2 294.8h.8M57.8 295.8h.8M66.2 292.9h.8M60.3 292.5h.8M59.5 300.9h.8M60.5 291.9h.8M59.1 293.0h.8M61.2 293.9h.8M66.6 294.2h.8M64.9 295.9h.8M67.1 294.2h.8M67.4 296.8h.8M58.9 295.7h.8M63.8 297.3h.8M67.4 301.3h.8M70.2 291.3h.8M57.1 302.5h.8M57.1 293.1h.8M63.8 298.1h.8M60.9 295.8h.8M58.6 293.8h.8M63.4 286.3h.8M59.3 302.4h.8M54.1 291.7h.8M62.0 291.6h.8M62.5 299.9h.8M64.3 295.4h.8M65.4 303.7h.8M62.7 302.7h.8M61.3 298.3h.8M59.7 296.2h.8M56.3 298.5h.8M60.5 289.2h.8M65.6 295.9h.8M64.4 295.8h.8M69.3 293.0h.8M61.5 296.2h.8M55.8 288.6h.8M65.0 299.1h.8M65.7 300.9h.8M58.0 289.3h.8M56.4 295.8h.8M62.6 302.0h.8M64.6 297.0h.8M58.1 290.5h.8M60.9 290.7h.8M59.3 298.9h.8M57.9 303.3h.8M57.4 290.2h.8M62.6 295.3h.8M60.8 291.6h.8M59.7 293.8h.8M52.9 296.5h.8M68.2 294.9h.8M58.7 292.0h.8M61.6 304.5h.8M58.0 294.4h.8M63.4 294.3h.8M56.7 300.1h.8M62.4 295.1h.8M61.4 294.2h.8M65.3 299.3h.8M58.2 290.5h.8M59.8 298.4h.8M61.2 299.7h.8M69.5 298.0h.8M56.8 294.3h.8M63.1 295.1h.8M59.7 287.4h.8M63.2 294.5h.8M64.4 296.4h.8M62.5 299.0h.8M63.0 295.7h.8M63.0 293.4h.8M60.0 291.3h.8M61.3 294.9h.8M56.2 295.7h.8M60.8 300.5h.8M59.3 295.1h.8M61.1 292.9h.8M64.6 294.6h.8M63.4 292.9h.8M63.7 294.0h.8M65.9 285.2h.8M53.6 288.0h.8M63.6 289.8h.8M61.9 297.2h.8M61.7 294.7h.8M57.4 295.7h.8M64.0 300.3h.8M66.1 290.4h.8M65.7 300.2h.8M61.7 296.8h.8M64.3 291.9h.8M65.3 301.7h.8M68.5 288.7h.8M66.4 290.1h.8M62.5 294.2h.8M62.4 296.9h.8M62.6 294.2h.8M62.8 285.6h.8M60.3 293.8h.8M64.7 294.7h.8M59.6 306.4h.8M59.2 301.2h.8M63.3 295.6h.8M60.0 290.2h.8M61.2 296.6h.8M54.7 289.9h.8M64.8 296.0h.8M62.0 296.7h.8M61.6 293.3h.8M63.6 296.2h.8M62.8 293.6h.8M59.5 292.5h.8M69.1 301.9h.8M60.4 297.7h.8M65.5 293.7h.8M68.5 291.7h.8M59.8 295.9h.8M62.3 297.6h.8M59.1 298.9h.8M65.7 301.6h.8M60.8 297.1h.8M58.1 290.1h.8M66.7 304.1h.8M65.3 300.2h.8M58.9 298.8h.8M66.2 301.0h.8M62.7 288.5h.8M71.6 293.4h.8M68.1 292.8h.8M60.0 300.4h.8M61.1 289.8h.8M58.9 293.6h.8M62.5 301.8h.8M62.2 297.9h.8M64.6 293.4h.8M62.3 303.4h.8M56.8 289.2h.8M59.1 297.1h.8M67.0 294.1h.8M66.1 297.3h.8M61.4 293.8h.8M61.5 291.4h.8M61.4 296.0h.8M62.1 289.2h.8M56.1 297.4h.8M65.2 293.6h.8M59.7 299.2h.8M62.5 293.1h.8M53.1 292.1h.8M62.8 296.8h.8M66.7 300.5h.8M54.1 285.9h.8M67.4 295.6h.8M63.7 297.8h.8M59.4 288.7h.8M56.4 291.1h.8M66.1 297.9h.8M62.9 291.4h.8M64.1 292.2h.8M61.0 302.7h.8M59.2 290.9h.8M65.1 291.2h.8M58.6 284.8h.8M65.2 290.2h.8M56.1 289.6h.8M58.7 302.7h.8M56.9 300.4h.8M66.6 289.4h.8M55.8 303.8h.8M58.0 298.5h.8M64.3 294.2h.8M62.8 298.6h.8M69.8 296.7h.8M68.5 291.7h.8M64.2 287.2h.8M64.4 291.0h.8M55.5 295.0h.8M58.9 293.5h.8M60.8 291.8h.8M61.4 299.4h.8M57.1 290.3h.8M58.7 299.0h.8M59.0 292.9h.8M65.8 295.5h.8M63.5 290.1h.8M60.8 295.0h.8M61.0 291.6h.8M63.0 287.3h.8M59.5 294.9h.8M61.1 294.8h.8M55.9 298.7h.8M64.4 296.3h.8M65.4 290.5h.8M63.3 292.3h.8M63.7 284.0h.8M63.3 290.1h.8M69.2 300.8h.8M62.7 301.8h.8M57.3 298.4h.8M58.3 296.4h.8M64.5 297.6h.8M65.8 297.2h.8M64.7 287.3h.8M65.0 291.2h.8M62.7 300.3h.8M56.7 300.3h.8M59.5 296.1h.8M55.6 293.7h.8M60.6 293.3h.8M57.2 292.6h.8M62.3 290.9h.8M61.4 286.5h.8M55.1 295.7h.8M64.6 293.0h.8M64.7 294.1h.8M57.1 302.6h.8M62.5 297.7h.8M64.5 291.9h.8M61.0 297.6h.8M65.0 288.3h.8M62.7 299.7h.8M65.8 296.2h.8M62.6 294.2h.8M61.4 297.6h.8M63.8 301.5h.8M64.8 293.0h.8M62.9 290.6h.8M60.4 304.4h.8M59.2 295.1h.8M60.6 301.7h.8M59.9 292.0h.8M62.7 296.7h.8M62.6 292.2h.8M61.7 297.8h.8M62.0 293.8h.8M62.6 292.0h.8M67.5 301.9h.8M66.2 296.5h.8M59.9 286.0h.8M63.5 294.0h.8M60.8 290.9h.8M61.6 289.6h.8M61.1 292.4h.8M59.7 292.9h.8M57.1 295.2h.8M53.2 291.5h.8M62.7 286.7h.8M66.2 292.6h.8M58.7 298.9h.8M63.7 288.9h.8M60.6 297.8h.8M62.9 297.1h.8M59.1 293.0h.8M61.1 296.4h.8M61.5 291.7h.8M53.5 293.2h.8M62.7 290.5h.8M61.4 297.1h.8M53.1 301.1h.8M64.2 292.0h.8M61.8 300.4h.8M62.7 285.5h.8M63.2 291.1h.8M60.4 290.5h.8M58.1 302.7h.8M60.3 292.4h.8M60.4 298.5h.8M69.9 285.8h.8M68.5 295.5h.8M60.2 297.5h.8M60.4 294.8h.8M63.1 282.8h.8M63.9 295.8h.8M59.4 298.6h.8M58.3 300.9h.8M68.8 296.8h.8M65.7 287.4h.8M56.3 294.1h.8M55.6 299.1h.8M58.9 291.3h.8M62.7 297.5h.8M63.9 292.9h.8M60.7 295.4h.8M56.1 298.4h.8M62.7 291.8h.8M64.1 307.8h.8M61.9 295.7h.8M60.1 296.5h.8M64.0 291.7h.8M61.7 295.3h.8M57.9 293.8h.8M51.8 290.3h.8M51.3 303.0h.8M62.2 299.3h.8M60.0 301.6h.8M47.7 297.0h.8M58.7 290.2h.8M60.1 295.8h.8M64.1 303.5h.8M53.1 296.9h.8M64.0 294.1h.8M58.7 302.5h.8M57.5 301.8h.8M59.7 307.2h.8M66.4 283.1h.8M63.8 297.4h.8M65.8 292.5h.8M56.4 289.5h.8M58.8 296.0h.8M53.5 287.7h.8M57.2 280.7h.8M58.1 289.4h.8M57.7 293.5h.8M64.8 307.4h.8M63.1 290.5h.8M65.1 287.6h.8M61.3 282.4h.8M66.9 292.9h.8M61.2 293.7h.8M66.3 296.2h.8M63.5 285.8h.8M64.9 290.3h.8M60.1 280.5h.8M53.1 296.3h.8M51.8 285.0h.8M72.2 277.4h.8M62.8 302.8h.8M63.2 298.5h.8M59.5 297.5h.8M57.7 297.5h.8M77.7 288.5h.8M53.8 302.2h.8M60.1 288.4h.8M60.2 307.7h.8M53.7 296.7h.8M52.9 283.2h.8M56.3 300.9h.8M58.4 308.1h.8M57.6 293.6h.8M65.4 302.2h.8M53.4 293.9h.8M62.9 291.2h.8M69.3 278.5h.8M65.9 303.3h.8M53.7 292.3h.8M65.6 287.9h.8M63.5 289.3h.8M57.0 302.5h.8M68.2 292.7h.8M58.1 292.6h.8M61.1 287.0h.8M54.3 296.6h.8M62.4 300.3h.8M57.9 292.3h.8M57.5 294.0h.8M67.0 287.3h.8M61.8 304.4h.8M51.5 291.2h.8M64.6 294.2h.8M65.5 306.2h.8M55.5 293.8h.8M58.1 285.2h.8M60.8 289.2h.8M59.0 292.9h.8M61.2 306.9h.8M64.4 296.7h.8M57.5 293.8h.8M73.0 300.7h.8M56.2 303.8h.8M57.3 290.3h.8M72.3 304.6h.8M74.8 300.9h.8M60.7 298.2h.8M59.4 279.9h.8M54.1 296.6h.8M67.4 304.4h.8M61.5 293.5h.8M55.4 310.4h.8M62.9 295.8h.8M68.7 288.7h.8M64.6 299.2h.8M73.7 297.2h.8M67.5 300.8h.8M63.1 293.9h.8M60.3 303.8h.8M63.8 291.7h.8M67.8 296.2h.8M65.7 287.2h.8M66.8 290.1h.8M61.8 296.7h.8M65.1 291.0h.8M67.8 292.4h.8M59.5 294.0h.8M52.7 297.0h.8M70.9 300.4h.8M64.0 300.4h.8M57.9 302.0h.8M61.9 296.7h.8M59.0 291.8h.8M50.3 284.9h.8M59.4 293.1h.8M52.0 290.1h.8M61.7 283.4h.8M59.8 306.2h.8M67.3 283.3h.8M59.8 297.7h.8M62.7 299.0h.8M58.7 293.8h.8M58.2 312.3h.8M52.1 295.5h.8M66.4 290.3h.8M61.5 306.9h.8M57.0 290.1h.8M61.8 285.9h.8M58.0 288.7h.8M56.2 291.1h.8M62.0 295.7h.8M67.8 297.6h.8M58.9 285.3h.8M52.0 297.7h.8M56.8 310.0h.8M71.3 290.7h.8M55.6 294.5h.8M67.6 299.9h.8M59.1 303.3h.8M64.9 291.0h.8M59.9 289.0h.8M51.0 288.7h.8M58.0 302.6h.8M73.2 301.3h.8M59.7 281.1h.8M63.9 281.3h.8M58.5 287.2h.8M59.7 285.5h.8M62.4 298.1h.8M63.3 296.8h.8M73.8 308.3h.8M60.4 300.6h.8M59.4 296.2h.8M56.5 303.1h.8M52.6 289.5h.8M50.8 286.1h.8M64.5 295.6h.8M49.3 301.6h.8M68.9 284.7h.8M65.7 301.3h.8M58.7 301.0h.8M53.6 292.1h.8M60.7 296.5h.8M60.6 293.5h.8M67.3 295.9h.8M56.1 300.7h.8M58.2 290.1h.8M60.2 302.2h.8M58.9 301.1h.8M56.8 301.3h.8M50.2 282.4h.8M50.7 283.1h.8M56.5 299.9h.8M59.2 291.5h.8M66.5 290.8h.8M74.4 290.3h.8M70.8 286.5h.8M62.9 293.5h.8M71.8 290.6h.8M59.8 291.0h.8M57.4 298.5h.8M74.4 287.5h.8M54.1 302.8h.8M58.0 280.7h.8M58.9 311.9h.8M69.3 286.4h.8M57.0 299.2h.8M65.2 301.4h.8M58.1 295.3h.8M53.2 300.3h.8M61.9 294.6h.8M61.5 283.7h.8M53.6 297.6h.8M55.3 302.9h.8M55.8 291.7h.8M66.3 284.1h.8M63.3 291.4h.8M62.0 297.5h.8M63.5 297.3h.8M57.7 302.7h.8M63.4 299.0h.8M56.9 298.7h.8M52.5 282.1h.8M56.3 310.1h.8M61.8 295.7h.8M61.1 301.1h.8M66.9 293.1h.8M50.4 294.3h.8M59.2 295.7h.8M62.9 305.8h.8M54.8 305.4h.8M62.0 299.5h.8M58.1 308.5h.8M53.8 292.7h.8M67.3 298.8h.8M52.2 292.4h.8M66.5 304.0h.8M58.1 295.6h.8M54.9 301.9h.8M55.2 306.8h.8M56.1 281.6h.8M55.5 309.8h.8M62.2 297.5h.8M49.3 293.3h.8M68.0 282.7h.8M65.6 293.4h.8M68.9 280.1h.8M54.7 296.0h.8M46.6 294.3h.8M56.8 307.5h.8M59.5 293.2h.8M62.4 302.5h.8M57.4 303.2h.8M60.0 309.1h.8M61.4 293.8h.8M51.3 300.5h.8M71.4 285.3h.8M53.8 288.0h.8M62.1 293.6h.8M67.0 295.3h.8M55.9 287.3h.8M60.6 292.7h.8M70.4 300.1h.8M58.9 292.4h.8M66.8 294.4h.8M62.3 289.5h.8M61.9 304.6h.8M64.9 307.3h.8M59.2 296.8h.8M59.3 294.7h.8M66.3 306.5h.8M62.1 298.6h.8M63.6 291.0h.8M53.4 286.5h.8M60.7 291.5h.8M67.8 310.1h.8M66.0 291.5h.8M62.6 314.7h.8M57.5 295.4h.8M56.9 294.0h.8M63.2 304.3h.8M69.1 293.8h.8M60.8 298.0h.8M68.4 288.5h.8M58.8 287.2h.8M67.8 290.5h.8M54.6 297.0h.8M61.7 291.0h.8M54.2 282.4h.8M64.5 298.6h.8M64.0 294.4h.8M54.9 293.6h.8M56.1 291.4h.8M57.9 280.5h.8M51.7 306.1h.8M55.0 292.3h.8M55.4 299.0h.8M65.3 304.8h.8M68.9 303.0h.8M57.9 296.8h.8M58.9 295.5h.8M61.9 297.5h.8M57.5 301.5h.8M58.9 299.3h.8M65.6 292.5h.8M62.0 298.5h.8M60.1 298.0h.8M57.2 300.1h.8M69.4 296.9h.8M56.9 304.6h.8M61.3 296.8h.8M54.4 301.4h.8M57.0 295.8h.8M61.2 291.7h.8M58.2 289.2h.8M63.8 294.4h.8M61.0 299.1h.8M52.3 303.9h.8M46.8 294.9h.8M66.6 292.0h.8M57.1 292.1h.8M69.5 304.1h.8M60.7 296.2h.8M56.0 292.2h.8M63.9 300.4h.8M59.0 286.7h.8M60.7 296.3h.8M55.0 295.2h.8M64.4 294.6h.8M67.1 287.8h.8M57.4 302.0h.8M71.3 306.7h.8M57.2 286.7h.8M62.1 296.3h.8M50.8 299.8h.8M49.1 310.5h.8M73.2 292.7h.8M69.1 289.2h.8M67.5 295.5h.8M50.4 308.9h.8M61.9 296.0h.8M63.1 297.3h.8M61.1 307.3h.8M62.4 281.3h.8M55.1 281.1h.8M59.6 301.5h.8M53.7 300.7h.8M58.5 286.3h.8M62.8 298.9h.8M55.9 295.8h.8M58.9 296.9h.8M58.0 290.1h.8M60.7 292.5h.8M66.1 289.7h.8M62.0 295.8h.8M62.9 294.0h.8M51.9 306.7h.8M58.4 299.7h.8M65.5 285.0h.8M55.4 298.3h.8M58.0 305.0h.8M54.8 297.4h.8M68.6 302.7h.8M57.9 295.3h.8M56.2 300.2h.8M64.3 289.3h.8M67.2 300.7h.8M63.5 286.3h.8M66.4 304.1h.8M61.8 285.4h.8M59.8 281.4h.8M57.9 299.0h.8M57.5 294.3h.8M57.0 296.3h.8M62.8 298.3h.8M59.9 295.3h.8M61.1 289.6h.8M64.2 296.9h.8M60.2 297.8h.8M52.3 298.8h.8M55.8 308.7h.8M53.8 290.6h.8M49.1 295.9h.8M61.2 299.2h.8M53.4 292.5h.8M52.9 287.5h.8M54.1 291.7h.8M65.8 302.6h.8M58.7 293.7h.8M66.5 299.6h.8M60.0 290.6h.8M57.9 298.5h.8M63.9 291.0h.8M64.1 289.9h.8M61.2 296.2h.8M54.3 295.8h.8M57.8 305.3h.8M53.5 284.7h.8M59.0 298.9h.8M61.1 306.2h.8M69.4 304.6h.8M69.0 292.9h.8M64.6 291.0h.8M66.2 292.2h.8M61.9 297.5h.8M77.1 296.8h.8M69.7 297.8h.8M76.4 299.5h.8M62.8 288.4h.8M63.0 288.0h.8M66.8 287.3h.8M61.7 286.6h.8M62.4 294.8h.8M54.6 297.6h.8M66.2 312.4h.8M61.3 299.1h.8M65.4 295.6h.8M59.2 305.0h.8M49.9 290.6h.8M63.5 297.8h.8M67.5 302.0h.8M52.8 300.7h.8M54.7 298.2h.8M58.7 293.2h.8M59.0 287.2h.8M50.3 294.5h.8M71.0 291.5h.8M66.6 300.1h.8M56.8 294.6h.8M49.6 299.2h.8M62.7 284.8h.8M72.4 302.0h.8M65.5 289.8h.8M67.4 285.1h.8M54.9 286.3h.8M61.9 291.3h.8M51.5 303.0h.8M72.4 300.3h.8M63.9 287.7h.8M47.9 296.1h.8M49.4 294.8h.8M63.4 285.1h.8M61.3 288.9h.8M58.6 281.9h.8M64.2 289.7h.8M72.5 277.8h.8M62.7 290.2h.8M49.7 289.3h.8M59.5 290.2h.8M52.6 290.0h.8M55.7 303.2h.8M62.4 293.2h.8M59.5 297.1h.8M54.1 300.5h.8M60.3 301.5h.8M55.6 300.0h.8M63.7 291.8h.8M59.0 288.2h.8M62.8 290.3h.8M58.9 292.4h.8M65.0 295.5h.8M59.6 294.9h.8M60.4 302.8h.8M57.1 294.8h.8M61.3 307.4h.8M49.8 302.4h.8M76.4 292.3h.8M56.4 301.2h.8M61.0 276.4h.8M57.6 304.7h.8M57.5 298.2h.8M62.9 298.1h.8M57.4 284.3h.8M57.9 312.3h.8M52.2 293.8h.8M54.9 294.5h.8M53.4 303.0h.8M71.2 294.2h.8M52.4 289.8h.8M54.0 299.9h.8M61.6 288.8h.8M69.0 300.4h.8M50.3 296.4h.8M51.1 303.0h.8M61.2 287.4h.8M62.4 303.8h.8M51.9 297.5h.8M49.6 308.6h.8M54.6 291.2h.8M64.9 307.8h.8M60.1 300.2h.8M64.9 300.7h.8M59.8 290.7h.8M60.2 299.2h.8M64.1 300.0h.8M59.7 290.0h.8M61.8 287.8h.8M54.9 290.4h.8M56.8 305.2h.8M63.2 296.5h.8M58.9 301.7h.8M55.9 297.4h.8M64.3 296.3h.8M63.7 297.0h.8M60.3 292.8h.8M55.8 303.6h.8M65.8 296.6h.8M75.4 297.0h.8M55.4 286.3h.8M51.1 297.6h.8M55.7 291.0h.8M54.8 292.2h.8M52.8 302.4h.8M53.3 288.2h.8M65.5 294.2h.8M65.5 299.7h.8M69.2 303.2h.8M64.8 292.1h.8M57.5 297.6h.8M66.9 297.4h.8M56.7 288.0h.8M58.3 281.3h.8M53.3 282.7h.8M67.7 299.5h.8M66.4 296.2h.8M57.6 286.6h.8M58.5 291.2h.8M60.6 292.8h.8M61.6 293.1h.8M65.4 295.3h.8M60.7 310.2h.8M62.7 290.3h.8M51.3 296.4h.8M58.5 290.4h.8M49.6 291.3h.8M71.0 289.6h.8M68.7 294.0h.8M64.6 291.8h.8M67.0 297.8h.8M72.4 296.9h.8M66.0 289.6h.8M50.8 308.2h.8M59.1 287.7h.8M46.2 297.9h.8M55.4 309.9h.8M52.9 290.8h.8M60.3 304.3h.8M62.7 304.9h.8M54.7 297.7h.8M58.6 283.2h.8M62.0 304.9h.8M59.4 296.1h.8M59.2 291.9h.8M45.9 304.0h.8M57.7 290.7h.8M65.1 302.6h.8M61.8 291.9h.8M51.4 299.1h.8M58.7 288.3h.8M61.9 292.9h.8M54.4 289.4h.8M64.3 290.8h.8M55.5 296.7h.8M58.3 294.4h.8M59.6 296.7h.8M73.6 304.0h.8M58.4 294.7h.8M56.9 283.1h.8M64.6 293.6h.8M57.5 296.0h.8M61.4 302.3h.8M46.8 302.4h.8M62.1 301.8h.8M60.2 294.0h.8M52.5 299.8h.8M68.4 285.9h.8M58.8 304.1h.8M59.1 298.4h.8M52.4 298.9h.8M50.5 293.0h.8M56.9 295.9h.8M51.1 291.1h.8M63.2 299.3h.8M65.5 286.7h.8M56.5 301.9h.8M50.6 299.1h.8M57.9 308.9h.8M53.9 295.2h.8M61.3 294.9h.8M61.3 296.8h.8M57.7 295.7h.8M60.7 294.8h.8M66.5 288.2h.8M70.5 288.2h.8M57.1 291.7h.8M64.6 293.6h.8M58.8 287.6h.8M53.9 287.8h.8M68.0 293.6h.8M62.6 300.4h.8M61.1 294.2h.8M62.4 300.0h.8M59.3 302.0h.8M53.9 300.6h.8M70.9 292.7h.8M65.7 292.8h.8M61.8 283.1h.8M66.0 291.0h.8M68.0 298.6h.8M59.1 288.3h.8M63.8 304.5h.8M58.3 305.0h.8M64.1 293.0h.8M58.7 301.6h.8M74.9 286.1h.8M58.1 288.5h.8M63.3 293.0h.8M63.0 295.6h.8M58.2 294.3h.8M65.9 289.8h.8M59.7 308.5h.8M57.8 297.4h.8M60.3 297.4h.8M52.9 297.0h.8M51.5 293.2h.8M50.3 295.0h.8M49.4 292.4h.8M46.3 301.4h.8M55.3 297.8h.8M48.4 306.0h.8M46.2 293.0h.8M48.7 303.0h.8M46.4 291.8h.8M56.7 294.1h.8M52.0 289.3h.8M55.0 297.9h.8M55.2 294.7h.8M52.6 298.5h.8M52.6 303.3h.8M48.9 294.7h.8M50.8 297.1h.8M49.3 300.0h.8M51.1 294.7h.8M49.0 292.0h.8M54.6 297.0h.8M53.2 297.8h.8M50.7 299.3h.8M46.2 299.6h.8M53.0 291.3h.8M53.5 297.5h.8M50.8 301.8h.8M47.4 292.5h.8M52.2 297.0h.8M54.0 291.6h.8M52.6 304.6h.8M45.8 296.0h.8M51.2 289.7h.8M56.0 296.9h.8M51.3 296.2h.8M52.4 301.2h.8M50.1 287.5h.8M51.0 290.0h.8M57.7 294.6h.8M54.8 286.5h.8M50.1 301.3h.8M49.9 283.9h.8M51.1 290.5h.8M57.3 286.9h.8M51.6 291.4h.8M54.2 299.5h.8M50.0 298.4h.8M47.4 300.1h.8M54.8 298.4h.8M50.8 283.8h.8M48.8 296.7h.8M49.0 284.9h.8M49.1 292.3h.8M49.3 292.9h.8M46.6 292.0h.8M54.4 297.8h.8M52.1 290.6h.8M53.8 304.6h.8M50.0 298.3h.8M52.0 301.6h.8M51.5 299.2h.8M54.3 300.0h.8M53.3 294.8h.8M52.0 305.9h.8M49.1 289.2h.8M47.6 297.6h.8M48.7 295.1h.8M49.2 293.8h.8M49.5 296.8h.8M47.5 290.9h.8M55.7 299.8h.8M51.8 299.4h.8M47.9 299.1h.8M47.2 289.3h.8M51.7 285.1h.8M54.0 291.8h.8M48.2 293.7h.8M52.8 308.8h.8M50.2 293.8h.8M54.3 300.7h.8M54.9 299.7h.8M51.9 306.7h.8M53.0 295.7h.8M51.0 298.7h.8M49.9 294.0h.8M47.7 290.3h.8M51.9 289.5h.8M50.8 290.7h.8M49.9 302.9h.8M50.8 296.6h.8M50.5 294.2h.8M48.0 295.1h.8M49.5 291.9h.8M54.2 294.9h.8M50.3 294.8h.8M55.0 298.6h.8M47.7 300.1h.8M47.2 286.0h.8M51.4 296.3h.8M53.2 302.6h.8M49.1 289.4h.8M52.8 293.7h.8M53.6 296.0h.8M54.0 301.1h.8M50.7 298.3h.8M50.9 293.8h.8M46.3 297.8h.8M51.1 300.8h.8M51.8 297.2h.8M55.0 305.3h.8M47.4 297.4h.8M48.6 289.3h.8M48.2 290.7h.8M53.5 294.3h.8M47.9 298.5h.8M56.8 297.0h.8M52.9 304.5h.8M47.2 299.5h.8M50.8 303.2h.8M53.4 290.9h.8M52.6 292.7h.8M50.4 298.8h.8M48.8 295.6h.8M53.4 298.5h.8M51.0 296.4h.8M53.3 291.7h.8M52.1 304.5h.8M49.7 301.4h.8M55.1 286.5h.8M49.6 291.7h.8M52.2 295.2h.8M49.2 298.8h.8M50.3 294.7h.8M50.3 287.6h.8M49.1 299.7h.8M51.7 293.9h.8M54.7 301.7h.8M56.3 296.8h.8M55.1 300.6h.8M50.5 299.7h.8M55.1 300.0h.8M52.2 292.3h.8M56.1 300.8h.8M47.4 296.2h.8M55.2 288.2h.8M49.3 292.9h.8M54.3 293.2h.8M49.7 297.7h.8M53.6 298.9h.8M50.2 289.0h.8M48.3 294.8h.8M50.3 289.3h.8M51.1 299.7h.8M47.6 288.6h.8M48.9 299.3h.8M50.4 300.1h.8M51.6 291.5h.8M48.7 300.9h.8M46.7 300.6h.8M51.9 292.3h.8M50.1 306.1h.8M53.5 294.8h.8M49.5 296.4h.8M52.8 282.0h.8M48.5 298.6h.8M51.8 291.7h.8M51.3 297.6h.8M52.3 285.8h.8M48.4 301.5h.8M50.7 303.1h.8M48.6 305.5h.8M50.5 278.9h.8M52.8 298.4h.8M59.4 297.0h.8M51.1 278.6h.8M53.0 291.1h.8M51.3 294.7h.8M54.2 303.0h.8M52.3 290.6h.8M53.9 296.3h.8M52.0 294.9h.8M57.8 297.2h.8M54.9 293.0h.8M46.2 300.1h.8M51.8 300.5h.8M51.2 287.7h.8M48.6 291.1h.8M49.7 293.7h.8M48.9 301.4h.8M51.4 295.8h.8M46.0 298.4h.8M53.1 299.6h.8M53.2 298.5h.8M81.9 291.5h.8M79.3 295.4h.8M89.6 294.4h.8M90.0 288.8h.8M87.5 296.3h.8M84.1 298.3h.8M90.7 295.0h.8M85.1 290.4h.8M76.7 296.7h.8M87.1 291.4h.8M88.5 294.1h.8M90.2 295.6h.8M79.7 292.2h.8M80.6 289.6h.8M87.4 294.0h.8M82.5 294.3h.8M84.9 292.0h.8M91.2 292.2h.8M87.8 296.5h.8M96.8 294.2h.8M87.2 293.1h.8M96.1 292.7h.8M92.1 294.9h.8M101.4 294.7h.8M85.5 293.9h.8M84.9 290.5h.8M93.6 293.4h.8M82.2 292.6h.8M82.5 294.6h.8M87.0 297.7h.8M87.8 297.1h.8M76.7 296.2h.8M87.1 294.7h.8M83.5 293.5h.8M85.3 295.4h.8M86.6 293.1h.8M84.3 293.4h.8M92.2 292.0h.8M88.6 294.2h.8M84.4 294.2h.8M86.0 299.6h.8M92.1 296.0h.8M90.5 293.3h.8M93.5 296.6h.8M84.7 293.1h.8M86.4 297.3h.8M98.2 296.6h.8M85.4 302.6h.8M96.1 291.3h.8M90.9 294.2h.8M82.9 294.1h.8M76.9 295.2h.8M89.6 296.4h.8M81.2 291.7h.8M81.2 292.4h.8M74.8 295.3h.8M93.1 297.1h.8M86.3 291.2h.8M85.8 290.0h.8M88.1 297.6h.8M87.2 296.8h.8M86.2 297.5h.8M88.9 291.7h.8M83.9 293.8h.8M69.5 295.0h.8M90.3 295.6h.8M88.3 294.1h.8M85.8 294.3h.8M95.6 297.2h.8M76.9 293.2h.8M67.5 292.9h.8M95.0 293.2h.8M88.3 293.0h.8M75.4 294.8h.8M83.1 293.8h.8M89.5 293.2h.8M78.1 298.4h.8M89.1 295.2h.8M98.9 293.5h.8M94.4 297.9h.8M85.5 292.9h.8M87.7 294.4h.8M79.7 294.1h.8M86.5 292.8h.8M83.6 293.3h.8M79.4 294.6h.8M77.3 290.4h.8M97.7 293.3h.8M86.2 295.1h.8M79.3 295.2h.8M83.0 295.2h.8M95.0 300.9h.8M95.8 296.3h.8M81.8 294.0h.8M86.9 294.1h.8M91.2 294.4h.8M83.5 295.6h.8M78.3 293.6h.8M79.6 298.6h.8M85.7 291.3h.8M80.8 296.2h.8M77.5 295.8h.8M84.2 291.2h.8M91.5 296.1h.8M89.9 295.9h.8M84.2 292.6h.8M97.6 300.8h.8M80.7 296.4h.8M85.2 293.5h.8M77.1 293.1h.8M90.5 292.3h.8M84.9 295.1h.8M75.1 294.6h.8M80.5 290.5h.8M96.9 291.5h.8M90.2 292.4h.8M86.3 293.3h.8M91.0 293.4h.8M75.6 292.6h.8M80.5 296.2h.8M77.3 297.0h.8M80.4 294.6h.8M83.2 288.3h.8M88.9 294.0h.8M91.9 295.9h.8M91.7 294.2h.8M102.4 295.1h.8M82.5 294.7h.8M85.5 290.3h.8M88.8 287.4h.8M80.4 296.1h.8M83.8 293.0h.8M88.2 295.5h.8M80.1 293.6h.8M88.5 293.9h.8M93.3 298.2h.8M78.6 291.1h.8M71.3 294.4h.8M86.1 291.4h.8M79.1 294.6h.8M86.7 295.7h.8M82.8 296.2h.8M87.5 294.8h.8M92.7 290.6h.8M90.7 295.1h.8M83.3 296.8h.8M78.3 297.1h.8M70.0 300.3h.8M72.0 295.9h.8M80.6 291.6h.8M86.1 293.0h.8M81.3 294.6h.8M81.8 297.3h.8M75.5 291.2h.8M75.2 296.9h.8M74.7 296.2h.8M89.3 292.0h.8M73.0 296.1h.8M89.6 292.3h.8M79.7 294.4h.8M88.7 293.6h.8M86.8 295.0h.8M90.0 291.1h.8M92.7 295.8h.8M80.4 288.4h.8M79.2 293.3h.8M82.5 292.8h.8M80.4 298.7h.8M89.3 295.9h.8M84.5 293.0h.8M85.2 291.9h.8M87.7 294.5h.8M82.2 292.7h.8M92.0 300.5h.8M73.6 286.8h.8M86.6 294.6h.8M88.2 287.6h.8M80.3 297.2h.8M80.7 292.2h.8M90.7 298.8h.8M83.1 292.9h.8M73.0 297.4h.8M76.6 294.9h.8M91.3 297.6h.8M79.5 294.5h.8M93.2 286.2h.8M93.6 292.4h.8M83.8 290.1h.8M88.4 297.0h.8M79.8 295.9h.8M82.5 294.4h.8M80.6 295.6h.8M88.7 294.9h.8M77.0 292.8h.8M84.2 299.8h.8M85.3 295.0h.8M88.2 293.9h.8M71.7 290.4h.8M73.8 292.7h.8M79.5 294.4h.8M83.6 293.9h.8M85.8 293.1h.8M86.2 294.3h.8M97.6 291.3h.8M89.1 294.4h.8M88.6 290.1h.8M81.9 292.0h.8M89.9 292.4h.8M89.3 296.8h.8M89.1 295.7h.8M84.2 294.6h.8M88.8 291.2h.8M94.5 293.3h.8M79.9 296.6h.8M71.4 297.8h.8M90.1 290.3h.8M89.5 293.2h.8M83.5 294.7h.8M82.1 295.4h.8M102.2 294.4h.8M82.0 296.2h.8M77.3 290.4h.8M81.9 298.7h.8M88.1 291.2h.8M81.1 294.6h.8M82.5 295.8h.8M86.8 297.6h.8M82.2 296.9h.8M85.7 296.8h.8M84.6 297.9h.8M78.3 294.0h.8M85.3 296.5h.8M77.6 298.7h.8M90.7 292.3h.8M79.1 290.6h.8M83.4 291.6h.8M73.5 298.3h.8M82.1 297.8h.8M77.1 293.4h.8M94.2 295.1h.8M84.1 295.7h.8M88.1 297.3h.8M73.9 289.2h.8M77.1 292.9h.8M83.8 293.7h.8M76.4 295.3h.8M92.0 294.6h.8M82.4 293.6h.8M85.8 295.2h.8M86.8 287.3h.8M83.9 302.9h.8M89.7 296.7h.8M80.7 296.9h.8M87.1 292.6h.8M92.3 295.6h.8M86.2 300.1h.8M85.6 299.5h.8M82.8 294.6h.8M85.2 291.0h.8M89.1 294.9h.8M83.3 293.6h.8M74.4 296.8h.8M85.9 290.9h.8M83.9 293.9h.8M87.8 295.2h.8M85.1 293.2h.8M94.6 297.4h.8M77.4 291.3h.8M78.8 291.0h.8M88.9 293.5h.8M94.8 290.8h.8M83.9 290.9h.8M81.2 289.0h.8M94.5 292.7h.8M89.0 302.4h.8M81.8 294.7h.8M88.0 295.7h.8M84.5 303.9h.8M92.7 292.4h.8M88.2 290.9h.8M79.2 297.0h.8M82.3 290.0h.8M82.9 296.3h.8M90.4 299.6h.8M90.4 290.6h.8M78.9 292.8h.8M85.0 301.8h.8M89.8 290.6h.8M97.3 292.2h.8M89.2 295.9h.8M105.5 293.6h.8M87.1 291.5h.8M93.9 301.4h.8M83.7 292.6h.8M77.3 296.3h.8M87.8 293.3h.8M91.4 294.0h.8M89.9 289.4h.8M88.2 298.7h.8M83.6 293.2h.8M79.0 300.1h.8M83.9 290.2h.8M91.3 293.0h.8M96.0 296.9h.8M55.3 295.4h.8M92.7 292.3h.8M97.2 294.4h.8M98.9 289.7h.8M90.5 295.1h.8M93.2 284.2h.8M82.6 295.6h.8M86.0 300.4h.8M91.9 298.5h.8M76.3 298.4h.8M79.2 293.2h.8M88.7 296.9h.8M74.0 293.3h.8M87.3 294.6h.8M72.6 294.5h.8M88.7 281.3h.8M87.1 298.7h.8M81.4 296.8h.8M77.8 298.3h.8M82.0 291.1h.8M65.3 297.7h.8M83.0 296.9h.8M87.9 285.9h.8M98.4 287.8h.8M81.9 295.1h.8M85.1 292.2h.8M100.1 294.8h.8M103.5 292.3h.8M82.1 301.0h.8M96.9 287.2h.8M98.1 289.4h.8M91.8 291.0h.8M77.4 289.4h.8M77.8 292.6h.8M92.3 294.8h.8M109.2 289.5h.8M85.1 296.4h.8M101.8 300.2h.8M105.0 299.3h.8M74.8 303.0h.8M81.1 299.5h.8M101.3 294.8h.8M96.2 302.1h.8M92.1 297.8h.8M86.7 302.5h.8M92.9 294.2h.8M80.8 286.4h.8M110.8 290.2h.8M75.8 295.7h.8M69.6 297.2h.8M88.2 294.1h.8M100.7 299.0h.8M82.1 290.3h.8M86.3 292.1h.8M77.0 298.9h.8M86.1 295.2h.8M64.3 338.7h.8M69.4 303.0h.8M68.2 328.1h.8M60.9 317.0h.8M64.7 323.3h.8M57.4 304.4h.8M63.9 318.4h.8M65.5 319.9h.8M57.3 334.4h.8M70.0 342.6h.8M71.7 321.7h.8M65.9 313.9h.8M67.5 343.4h.8M69.8 316.9h.8M63.3 317.5h.8M68.0 319.3h.8M65.5 323.4h.8M58.1 326.2h.8M60.5 311.6h.8M61.8 316.9h.8M68.1 339.6h.8M64.4 336.4h.8M67.8 323.2h.8M62.2 321.3h.8M59.1 315.5h.8M72.0 329.9h.8M74.5 312.3h.8M65.5 319.6h.8M63.2 313.0h.8M68.6 311.0h.8M59.7 318.6h.8M63.2 318.2h.8M58.5 311.6h.8M65.9 317.4h.8M65.0 319.0h.8M62.5 312.8h.8M61.5 310.7h.8M58.2 316.6h.8M60.8 326.2h.8M68.7 330.8h.8M62.6 320.3h.8M68.9 315.1h.8M60.7 317.8h.8M63.7 340.0h.8M62.2 328.6h.8M63.0 307.3h.8M67.0 317.6h.8M56.1 312.2h.8M66.9 314.0h.8M66.7 299.0h.8M64.0 318.5h.8M64.3 302.7h.8M63.2 311.5h.8M66.7 335.5h.8M64.2 329.6h.8M60.7 308.3h.8M64.6 306.4h.8M67.7 307.8h.8M65.4 296.7h.8M64.1 307.0h.8M64.8 315.1h.8M62.1 306.3h.8M62.2 326.8h.8M56.8 317.6h.8M63.3 312.1h.8M67.8 338.2h.8M62.5 326.3h.8M60.5 319.0h.8M67.5 339.3h.8M64.6 333.2h.8M64.6 310.2h.8M65.8 321.9h.8M66.7 313.2h.8M63.8 301.8h.8M60.8 339.9h.8M70.7 335.4h.8M64.2 303.7h.8M61.0 323.8h.8M64.7 299.5h.8M68.6 330.5h.8M58.6 317.6h.8M69.0 314.9h.8M63.5 332.6h.8M71.7 318.3h.8M66.6 315.3h.8M63.6 328.7h.8M68.8 314.8h.8M68.9 328.2h.8M62.7 318.2h.8M64.9 327.7h.8M62.0 325.4h.8M67.5 327.3h.8M58.6 306.7h.8M63.3 339.8h.8M55.9 316.4h.8M66.3 338.4h.8M55.5 311.4h.8M60.0 315.1h.8M65.0 315.2h.8M62.7 331.5h.8M62.3 313.3h.8M60.3 323.0h.8M62.2 300.2h.8M57.3 312.7h.8M65.2 320.8h.8M67.1 317.0h.8M66.9 296.7h.8M63.9 324.0h.8M68.7 307.1h.8M65.8 340.6h.8M67.7 316.0h.8M65.5 344.3h.8M64.1 325.9h.8M61.1 323.5h.8M54.0 312.7h.8M66.5 316.9h.8M63.6 323.5h.8M71.6 295.8h.8M56.5 329.7h.8M67.2 304.7h.8M60.4 315.2h.8M64.0 286.7h.8M60.6 323.5h.8M65.3 326.9h.8M63.9 321.5h.8M67.4 322.0h.8M64.6 313.9h.8M65.8 320.0h.8M68.9 332.2h.8M66.0 313.3h.8M63.5 324.0h.8M68.7 326.6h.8M63.6 315.5h.8M65.6 321.0h.8M62.8 320.8h.8M61.5 312.5h.8M52.6 346.4h.8M66.7 313.2h.8M59.6 338.0h.8M66.8 330.6h.8M49.4 326.5h.8M64.8 308.3h.8M70.1 316.7h.8M68.6 346.7h.8M57.0 325.7h.8M64.9 324.2h.8M55.0 321.7h.8M56.1 329.2h.8M61.5 326.9h.8M64.4 307.5h.8M74.0 321.5h.8M65.5 344.9h.8M70.3 351.3h.8M55.0 328.4h.8M55.3 322.6h.8M59.8 350.0h.8M75.0 327.6h.8M54.0 313.0h.8M52.4 328.3h.8M62.6 340.3h.8M71.2 352.9h.8M52.1 323.1h.8M61.4 338.0h.8M53.9 325.3h.8M72.9 346.8h.8M67.8 333.9h.8M65.0 334.0h.8M62.8 315.8h.8M61.5 325.5h.8M64.0 325.4h.8M58.7 277.6h.8M57.1 342.6h.8M55.5 330.0h.8M63.2 327.1h.8M57.7 324.9h.8M69.0 330.5h.8M48.8 333.7h.8M67.0 311.1h.8M66.7 332.0h.8M71.4 331.8h.8M90.6 299.5h.8M64.1 322.6h.8M87.7 330.5h.8M67.7 296.4h.8M96.3 306.4h.8M113.2 322.9h.8M105.4 307.3h.8M84.2 296.5h.8M80.7 304.2h.8M80.2 321.4h.8M96.3 296.5h.8M78.5 313.5h.8M80.8 315.3h.8M46.2 301.2h.8M75.3 317.8h.8M76.4 319.2h.8M80.7 323.7h.8M111.4 322.8h.8M66.4 289.8h.8M66.9 322.3h.8M100.6 318.0h.8M72.9 323.4h.8M87.3 298.5h.8M93.2 322.4h.8M90.4 315.1h.8M100.2 332.8h.8M134.7 348.5h.8M113.7 331.5h.8M131.8 348.7h.8M61.2 341.1h.8M75.5 330.9h.8M61.9 320.0h.8M50.2 309.9h.8" stroke="#000" stroke-width="0.9" fill="none" opacity="1"/>
<rect x="44.90" y="250.70" width="101.10" height="104.50" fill="none" stroke="#000" stroke-width="2.4"/>
<rect x="71.30" y="283.80" width="38.70" height="25.70" fill="none" stroke="#000" stroke-width="2.4"/>
<line x1="41.00" y1="250.70" x2="44.50" y2="250.70" stroke="#000" stroke-width="1.1" stroke-linecap="butt"/>
<line x1="41.00" y1="277.00" x2="44.50" y2="277.00" stroke="#000" stroke-width="1.1" stroke-linecap="butt"/>
<line x1="41.00" y1="303.00" x2="44.50" y2="303.00" stroke="#000" stroke-width="1.1" stroke-linecap="butt"/>
<line x1="41.00" y1="329.00" x2="44.50" y2="329.00" stroke="#000" stroke-width="1.1" stroke-linecap="butt"/>
<line x1="41.00" y1="355.80" x2="44.50" y2="355.80" stroke="#000" stroke-width="1.1" stroke-linecap="butt"/>
<line x1="45.50" y1="356.00" x2="45.50" y2="358.70" stroke="#000" stroke-width="1" stroke-linecap="butt"/>
<line x1="69.00" y1="356.00" x2="69.00" y2="358.70" stroke="#000" stroke-width="1" stroke-linecap="butt"/>
<line x1="95.00" y1="356.00" x2="95.00" y2="358.70" stroke="#000" stroke-width="1" stroke-linecap="butt"/>
<line x1="121.00" y1="356.00" x2="121.00" y2="358.70" stroke="#000" stroke-width="1" stroke-linecap="butt"/>
<line x1="146.00" y1="356.00" x2="146.00" y2="358.70" stroke="#000" stroke-width="1" stroke-linecap="butt"/>
<line x1="45.50" y1="356.00" x2="45.50" y2="357.50" stroke="#000" stroke-width="0.5" stroke-linecap="butt"/>
<line x1="50.70" y1="356.00" x2="50.70" y2="357.50" stroke="#000" stroke-width="0.5" stroke-linecap="butt"/>
<line x1="55.90" y1="356.00" x2="55.90" y2="357.50" stroke="#000" stroke-width="0.5" stroke-linecap="butt"/>
<line x1="61.10" y1="356.00" x2="61.10" y2="357.50" stroke="#000" stroke-width="0.5" stroke-linecap="butt"/>
<line x1="66.30" y1="356.00" x2="66.30" y2="357.50" stroke="#000" stroke-width="0.5" stroke-linecap="butt"/>
<line x1="71.50" y1="356.00" x2="71.50" y2="357.50" stroke="#000" stroke-width="0.5" stroke-linecap="butt"/>
<line x1="76.70" y1="356.00" x2="76.70" y2="357.50" stroke="#000" stroke-width="0.5" stroke-linecap="butt"/>
<line x1="81.90" y1="356.00" x2="81.90" y2="357.50" stroke="#000" stroke-width="0.5" stroke-linecap="butt"/>
<line x1="87.10" y1="356.00" x2="87.10" y2="357.50" stroke="#000" stroke-width="0.5" stroke-linecap="butt"/>
<line x1="92.30" y1="356.00" x2="92.30" y2="357.50" stroke="#000" stroke-width="0.5" stroke-linecap="butt"/>
<line x1="97.50" y1="356.00" x2="97.50" y2="357.50" stroke="#000" stroke-width="0.5" stroke-linecap="butt"/>
<line x1="102.70" y1="356.00" x2="102.70" y2="357.50" stroke="#000" stroke-width="0.5" stroke-linecap="butt"/>
<line x1="107.90" y1="356.00" x2="107.90" y2="357.50" stroke="#000" stroke-width="0.5" stroke-linecap="butt"/>
<line x1="113.10" y1="356.00" x2="113.10" y2="357.50" stroke="#000" stroke-width="0.5" stroke-linecap="butt"/>
<line x1="118.30" y1="356.00" x2="118.30" y2="357.50" stroke="#000" stroke-width="0.5" stroke-linecap="butt"/>
<line x1="123.50" y1="356.00" x2="123.50" y2="357.50" stroke="#000" stroke-width="0.5" stroke-linecap="butt"/>
<line x1="128.70" y1="356.00" x2="128.70" y2="357.50" stroke="#000" stroke-width="0.5" stroke-linecap="butt"/>
<line x1="133.90" y1="356.00" x2="133.90" y2="357.50" stroke="#000" stroke-width="0.5" stroke-linecap="butt"/>
<line x1="139.10" y1="356.00" x2="139.10" y2="357.50" stroke="#000" stroke-width="0.5" stroke-linecap="butt"/>
<line x1="144.30" y1="356.00" x2="144.30" y2="357.50" stroke="#000" stroke-width="0.5" stroke-linecap="butt"/>
<line x1="43.00" y1="251.00" x2="44.50" y2="251.00" stroke="#000" stroke-width="0.5" stroke-linecap="butt"/>
<line x1="43.00" y1="256.20" x2="44.50" y2="256.20" stroke="#000" stroke-width="0.5" stroke-linecap="butt"/>
<line x1="43.00" y1="261.40" x2="44.50" y2="261.40" stroke="#000" stroke-width="0.5" stroke-linecap="butt"/>
<line x1="43.00" y1="266.60" x2="44.50" y2="266.60" stroke="#000" stroke-width="0.5" stroke-linecap="butt"/>
<line x1="43.00" y1="271.80" x2="44.50" y2="271.80" stroke="#000" stroke-width="0.5" stroke-linecap="butt"/>
<line x1="43.00" y1="277.00" x2="44.50" y2="277.00" stroke="#000" stroke-width="0.5" stroke-linecap="butt"/>
<line x1="43.00" y1="282.20" x2="44.50" y2="282.20" stroke="#000" stroke-width="0.5" stroke-linecap="butt"/>
<line x1="43.00" y1="287.40" x2="44.50" y2="287.40" stroke="#000" stroke-width="0.5" stroke-linecap="butt"/>
<line x1="43.00" y1="292.60" x2="44.50" y2="292.60" stroke="#000" stroke-width="0.5" stroke-linecap="butt"/>
<line x1="43.00" y1="297.80" x2="44.50" y2="297.80" stroke="#000" stroke-width="0.5" stroke-linecap="butt"/>
<line x1="43.00" y1="303.00" x2="44.50" y2="303.00" stroke="#000" stroke-width="0.5" stroke-linecap="butt"/>
<line x1="43.00" y1="308.20" x2="44.50" y2="308.20" stroke="#000" stroke-width="0.5" stroke-linecap="butt"/>
<line x1="43.00" y1="313.40" x2="44.50" y2="313.40" stroke="#000" stroke-width="0.5" stroke-linecap="butt"/>
<line x1="43.00" y1="318.60" x2="44.50" y2="318.60" stroke="#000" stroke-width="0.5" stroke-linecap="butt"/>
<line x1="43.00" y1="323.80" x2="44.50" y2="323.80" stroke="#000" stroke-width="0.5" stroke-linecap="butt"/>
<line x1="43.00" y1="329.00" x2="44.50" y2="329.00" stroke="#000" stroke-width="0.5" stroke-linecap="butt"/>
<line x1="43.00" y1="334.20" x2="44.50" y2="334.20" stroke="#000" stroke-width="0.5" stroke-linecap="butt"/>
<line x1="43.00" y1="339.40" x2="44.50" y2="339.40" stroke="#000" stroke-width="0.5" stroke-linecap="butt"/>
<line x1="43.00" y1="344.60" x2="44.50" y2="344.60" stroke="#000" stroke-width="0.5" stroke-linecap="butt"/>
<line x1="43.00" y1="349.80" x2="44.50" y2="349.80" stroke="#000" stroke-width="0.5" stroke-linecap="butt"/>
<line x1="43.00" y1="355.00" x2="44.50" y2="355.00" stroke="#000" stroke-width="0.5" stroke-linecap="butt"/>
<line x1="110.50" y1="289.50" x2="205.50" y2="289.50" stroke="#000" stroke-width="3" stroke-linecap="butt"/>
<polygon points="203.75,283.00 217.20,289.60 203.75,296.20" fill="#000" stroke="none" stroke-width="1" stroke-linejoin="round"/>
<line x1="24.40" y1="279.00" x2="24.40" y2="372.10" stroke="#000" stroke-width="2.7" stroke-linecap="butt"/>
<line x1="23.10" y1="370.75" x2="116.50" y2="370.75" stroke="#000" stroke-width="2.7" stroke-linecap="butt"/>
<polygon points="17.90,280.00 24.40,267.00 31.00,280.00" fill="#000" stroke="none" stroke-width="1" stroke-linejoin="round"/>
<polygon points="115.00,364.30 128.20,370.80 115.00,377.30" fill="#000" stroke="none" stroke-width="1" stroke-linejoin="round"/>
<text x="66.15" y="399.60" font-size="16" textLength="34.74" lengthAdjust="spacingAndGlyphs">GFP</text>
<text x="12.50" y="340.82" font-size="16" textLength="32.29" lengthAdjust="spacingAndGlyphs" transform="rotate(-90 12.50 340.82)">CD4</text>
<text x="186.59" y="82.30" font-size="16" textLength="119.53" lengthAdjust="spacingAndGlyphs">PMA/ionomycin</text>
<text x="187.47" y="186.00" font-size="16" textLength="117.27" lengthAdjust="spacingAndGlyphs">Anti-CD3/CD28</text>
<text x="186.08" y="318.30" font-size="16" textLength="120.24" lengthAdjust="spacingAndGlyphs">PMA/ionomycin</text>
<text x="331.61" y="12.90" font-size="16" textLength="47.92" lengthAdjust="spacingAndGlyphs">Empty</text>
<text x="435.52" y="12.90" font-size="16" textLength="42.71" lengthAdjust="spacingAndGlyphs">sHBZ</text>
<polygon points="316.92,108.60 316.92,107.48 324.71,107.13 326.44,105.40 328.17,101.94 329.04,97.61 329.90,95.54 331.11,96.75 332.15,95.88 333.36,90.69 334.58,82.04 335.61,73.38 336.31,64.73 336.83,58.67 338.04,54.34 339.08,47.42 339.77,38.77 340.46,36.17 341.15,30.11 341.84,26.65 342.54,32.71 343.40,34.44 344.27,40.50 345.13,52.61 346.00,64.73 346.86,75.11 347.73,85.50 348.59,90.69 349.46,96.75 350.33,99.00 352.40,98.48 354.13,99.00 355.34,97.96 356.38,95.02 357.08,93.29 357.77,96.23 358.81,96.75 359.84,94.15 361.06,96.23 362.27,95.54 363.65,97.27 365.04,96.75 366.25,98.48 367.98,97.96 369.71,99.00 371.44,101.07 373.17,102.80 374.90,103.67 376.63,104.88 378.36,106.27 380.09,107.48 382.69,108.00 393.07,108.00 393.07,108.60" fill="#b4b4b4" stroke="none"/>
<polyline points="316.92,107.48 324.71,107.13 326.44,105.40 328.17,101.94 329.04,97.61 329.90,95.54 331.11,96.75 332.15,95.88 333.36,90.69 334.58,82.04 335.61,73.38 336.31,64.73 336.83,58.67 338.04,54.34 339.08,47.42 339.77,38.77 340.46,36.17 341.15,30.11 341.84,26.65 342.54,32.71 343.40,34.44 344.27,40.50 345.13,52.61 346.00,64.73 346.86,75.11 347.73,85.50 348.59,90.69 349.46,96.75 350.33,99.00 352.40,98.48 354.13,99.00 355.34,97.96 356.38,95.02 357.08,93.29 357.77,96.23 358.81,96.75 359.84,94.15 361.06,96.23 362.27,95.54 363.65,97.27 365.04,96.75 366.25,98.48 367.98,97.96 369.71,99.00 371.44,101.07 373.17,102.80 374.90,103.67 376.63,104.88 378.36,106.27 380.09,107.48 382.69,108.00 393.07,108.00" fill="none" stroke="#000" stroke-width="1.1" stroke-linejoin="round"/>
<rect x="315.60" y="23.10" width="77.70" height="85.40" fill="none" stroke="#000" stroke-width="2.6"/>
<line x1="315.80" y1="109.30" x2="315.80" y2="111.80" stroke="#000" stroke-width="1" stroke-linecap="butt"/>
<line x1="335.12" y1="109.30" x2="335.12" y2="111.80" stroke="#000" stroke-width="1" stroke-linecap="butt"/>
<line x1="354.45" y1="109.30" x2="354.45" y2="111.80" stroke="#000" stroke-width="1" stroke-linecap="butt"/>
<line x1="373.78" y1="109.30" x2="373.78" y2="111.80" stroke="#000" stroke-width="1" stroke-linecap="butt"/>
<line x1="393.10" y1="109.30" x2="393.10" y2="111.80" stroke="#000" stroke-width="1" stroke-linecap="butt"/>
<line x1="312.70" y1="28.00" x2="314.80" y2="28.00" stroke="#000" stroke-width="1" stroke-linecap="butt"/>
<line x1="312.70" y1="44.50" x2="314.80" y2="44.50" stroke="#000" stroke-width="1" stroke-linecap="butt"/>
<line x1="312.70" y1="61.25" x2="314.80" y2="61.25" stroke="#000" stroke-width="1" stroke-linecap="butt"/>
<line x1="312.70" y1="77.50" x2="314.80" y2="77.50" stroke="#000" stroke-width="1" stroke-linecap="butt"/>
<line x1="312.70" y1="93.75" x2="314.80" y2="93.75" stroke="#000" stroke-width="1" stroke-linecap="butt"/>
<line x1="354.50" y1="49.10" x2="394.00" y2="49.10" stroke="#000" stroke-width="2.8" stroke-linecap="butt"/>
<line x1="355.40" y1="44.80" x2="355.40" y2="54.30" stroke="#000" stroke-width="2.0" stroke-linecap="butt"/>
<line x1="393.20" y1="45.10" x2="393.20" y2="54.00" stroke="#000" stroke-width="1.6" stroke-linecap="butt"/>
<text x="354.82" y="40.50" font-size="16" textLength="34.06" lengthAdjust="spacingAndGlyphs">21.2</text>
<polygon points="418.58,109.10 418.58,107.13 419.79,105.40 421.52,105.92 422.73,103.67 424.11,102.80 425.50,104.19 426.71,101.07 427.92,98.48 429.31,99.34 430.69,95.88 431.90,90.69 433.11,87.23 434.15,82.04 435.02,76.84 435.88,75.11 436.58,69.92 437.27,65.59 437.79,75.11 438.31,76.84 438.83,66.46 439.35,59.54 440.04,52.61 440.73,43.96 441.42,38.77 442.11,27.52 442.81,37.04 443.50,45.69 444.19,52.61 444.88,59.54 445.75,68.19 446.61,76.84 447.48,85.50 448.34,92.42 449.56,98.48 450.94,102.80 452.67,105.40 454.92,107.13 457.34,106.61 459.59,105.40 461.33,105.92 462.71,104.19 463.92,106.27 466.52,107.48 469.98,107.13 473.44,107.65 476.38,107.48 478.63,108.86 481.23,109.38 494.21,109.38 494.21,109.10" fill="#b4b4b4" stroke="none"/>
<polyline points="418.58,107.13 419.79,105.40 421.52,105.92 422.73,103.67 424.11,102.80 425.50,104.19 426.71,101.07 427.92,98.48 429.31,99.34 430.69,95.88 431.90,90.69 433.11,87.23 434.15,82.04 435.02,76.84 435.88,75.11 436.58,69.92 437.27,65.59 437.79,75.11 438.31,76.84 438.83,66.46 439.35,59.54 440.04,52.61 440.73,43.96 441.42,38.77 442.11,27.52 442.81,37.04 443.50,45.69 444.19,52.61 444.88,59.54 445.75,68.19 446.61,76.84 447.48,85.50 448.34,92.42 449.56,98.48 450.94,102.80 452.67,105.40 454.92,107.13 457.34,106.61 459.59,105.40 461.33,105.92 462.71,104.19 463.92,106.27 466.52,107.48 469.98,107.13 473.44,107.65 476.38,107.48 478.63,108.86 481.23,109.38 494.21,109.38" fill="none" stroke="#000" stroke-width="1.1" stroke-linejoin="round"/>
<rect x="417.65" y="23.75" width="76.00" height="85.20" fill="none" stroke="#000" stroke-width="2.7"/>
<line x1="417.80" y1="109.80" x2="417.80" y2="112.30" stroke="#000" stroke-width="1" stroke-linecap="butt"/>
<line x1="436.73" y1="109.80" x2="436.73" y2="112.30" stroke="#000" stroke-width="1" stroke-linecap="butt"/>
<line x1="455.65" y1="109.80" x2="455.65" y2="112.30" stroke="#000" stroke-width="1" stroke-linecap="butt"/>
<line x1="474.57" y1="109.80" x2="474.57" y2="112.30" stroke="#000" stroke-width="1" stroke-linecap="butt"/>
<line x1="493.50" y1="109.80" x2="493.50" y2="112.30" stroke="#000" stroke-width="1" stroke-linecap="butt"/>
<line x1="414.70" y1="31.25" x2="416.80" y2="31.25" stroke="#000" stroke-width="1" stroke-linecap="butt"/>
<line x1="414.70" y1="47.40" x2="416.80" y2="47.40" stroke="#000" stroke-width="1" stroke-linecap="butt"/>
<line x1="414.70" y1="63.70" x2="416.80" y2="63.70" stroke="#000" stroke-width="1" stroke-linecap="butt"/>
<line x1="414.70" y1="79.30" x2="416.80" y2="79.30" stroke="#000" stroke-width="1" stroke-linecap="butt"/>
<line x1="414.70" y1="95.70" x2="416.80" y2="95.70" stroke="#000" stroke-width="1" stroke-linecap="butt"/>
<line x1="450.50" y1="49.40" x2="494.60" y2="49.40" stroke="#000" stroke-width="2.8" stroke-linecap="butt"/>
<line x1="451.40" y1="44.80" x2="451.40" y2="54.30" stroke="#000" stroke-width="2.0" stroke-linecap="butt"/>
<line x1="492.80" y1="45.10" x2="492.80" y2="54.00" stroke="#000" stroke-width="3.6" stroke-linecap="butt"/>
<text x="460.53" y="40.30" font-size="16" textLength="23.41" lengthAdjust="spacingAndGlyphs">5.6</text>
<polygon points="316.92,220.40 316.92,219.73 330.77,219.38 335.96,218.34 338.56,217.13 340.81,214.54 342.54,209.34 343.75,202.42 344.96,193.77 346.00,183.38 346.86,173.00 347.73,162.61 348.59,153.96 349.46,145.31 350.33,140.46 351.19,138.73 352.06,140.46 352.75,147.04 353.44,157.42 354.31,169.54 355.17,179.92 356.04,188.57 356.90,194.63 358.11,198.96 359.33,202.42 360.54,204.15 361.57,202.42 362.44,205.02 363.65,206.75 365.38,209.00 367.11,210.73 369.71,211.94 372.31,212.80 374.90,214.19 377.50,215.40 379.23,217.13 381.82,218.34 386.15,219.38 390.48,219.73 392.73,218.00 393.77,212.80 394.11,219.73 394.11,220.40" fill="#b4b4b4" stroke="none"/>
<polyline points="316.92,219.73 330.77,219.38 335.96,218.34 338.56,217.13 340.81,214.54 342.54,209.34 343.75,202.42 344.96,193.77 346.00,183.38 346.86,173.00 347.73,162.61 348.59,153.96 349.46,145.31 350.33,140.46 351.19,138.73 352.06,140.46 352.75,147.04 353.44,157.42 354.31,169.54 355.17,179.92 356.04,188.57 356.90,194.63 358.11,198.96 359.33,202.42 360.54,204.15 361.57,202.42 362.44,205.02 363.65,206.75 365.38,209.00 367.11,210.73 369.71,211.94 372.31,212.80 374.90,214.19 377.50,215.40 379.23,217.13 381.82,218.34 386.15,219.38 390.48,219.73 392.73,218.00 393.77,212.80 394.11,219.73" fill="none" stroke="#000" stroke-width="1.1" stroke-linejoin="round"/>
<rect x="316.00" y="134.20" width="77.40" height="86.10" fill="none" stroke="#000" stroke-width="2.6"/>
<line x1="316.20" y1="221.10" x2="316.20" y2="223.60" stroke="#000" stroke-width="1" stroke-linecap="butt"/>
<line x1="335.45" y1="221.10" x2="335.45" y2="223.60" stroke="#000" stroke-width="1" stroke-linecap="butt"/>
<line x1="354.70" y1="221.10" x2="354.70" y2="223.60" stroke="#000" stroke-width="1" stroke-linecap="butt"/>
<line x1="373.95" y1="221.10" x2="373.95" y2="223.60" stroke="#000" stroke-width="1" stroke-linecap="butt"/>
<line x1="393.20" y1="221.10" x2="393.20" y2="223.60" stroke="#000" stroke-width="1" stroke-linecap="butt"/>
<line x1="313.10" y1="137.50" x2="315.20" y2="137.50" stroke="#000" stroke-width="1" stroke-linecap="butt"/>
<line x1="313.10" y1="165.00" x2="315.20" y2="165.00" stroke="#000" stroke-width="1" stroke-linecap="butt"/>
<line x1="313.10" y1="193.00" x2="315.20" y2="193.00" stroke="#000" stroke-width="1" stroke-linecap="butt"/>
<line x1="358.80" y1="160.60" x2="394.00" y2="160.60" stroke="#000" stroke-width="2.8" stroke-linecap="butt"/>
<line x1="359.70" y1="156.80" x2="359.70" y2="166.40" stroke="#000" stroke-width="2.0" stroke-linecap="butt"/>
<line x1="393.20" y1="157.10" x2="393.20" y2="166.10" stroke="#000" stroke-width="1.6" stroke-linecap="butt"/>
<text x="359.62" y="154.80" font-size="16" textLength="34.06" lengthAdjust="spacingAndGlyphs">23.2</text>
<polygon points="434.77,222.00 434.77,221.46 438.23,220.59 440.83,218.86 442.56,216.27 444.29,212.80 445.50,208.48 446.54,202.42 447.58,195.50 448.61,186.84 449.48,178.19 450.17,171.27 450.86,162.61 451.56,153.96 452.08,145.31 452.42,138.38 452.94,147.04 453.46,155.69 453.98,162.61 454.67,168.67 455.54,170.40 456.06,169.54 456.58,178.19 457.27,188.57 458.13,198.96 459.00,207.61 460.04,213.67 461.59,217.13 464.19,218.86 467.65,220.59 472.84,221.46 472.84,222.00" fill="#b4b4b4" stroke="none"/>
<polyline points="434.77,221.46 438.23,220.59 440.83,218.86 442.56,216.27 444.29,212.80 445.50,208.48 446.54,202.42 447.58,195.50 448.61,186.84 449.48,178.19 450.17,171.27 450.86,162.61 451.56,153.96 452.08,145.31 452.42,138.38 452.94,147.04 453.46,155.69 453.98,162.61 454.67,168.67 455.54,170.40 456.06,169.54 456.58,178.19 457.27,188.57 458.13,198.96 459.00,207.61 460.04,213.67 461.59,217.13 464.19,218.86 467.65,220.59 472.84,221.46" fill="none" stroke="#777" stroke-width="0.7" stroke-linejoin="round"/>
<rect x="419.15" y="134.25" width="77.90" height="87.50" fill="none" stroke="#000" stroke-width="2.9"/>
<line x1="419.20" y1="222.70" x2="419.20" y2="225.20" stroke="#000" stroke-width="1" stroke-linecap="butt"/>
<line x1="438.65" y1="222.70" x2="438.65" y2="225.20" stroke="#000" stroke-width="1" stroke-linecap="butt"/>
<line x1="458.10" y1="222.70" x2="458.10" y2="225.20" stroke="#000" stroke-width="1" stroke-linecap="butt"/>
<line x1="477.55" y1="222.70" x2="477.55" y2="225.20" stroke="#000" stroke-width="1" stroke-linecap="butt"/>
<line x1="497.00" y1="222.70" x2="497.00" y2="225.20" stroke="#000" stroke-width="1" stroke-linecap="butt"/>
<line x1="461.20" y1="160.90" x2="497.80" y2="160.90" stroke="#000" stroke-width="2.8" stroke-linecap="butt"/>
<line x1="462.10" y1="157.00" x2="462.10" y2="166.40" stroke="#000" stroke-width="2.0" stroke-linecap="butt"/>
<line x1="496.00" y1="157.30" x2="496.00" y2="166.10" stroke="#000" stroke-width="3.6" stroke-linecap="butt"/>
<text x="470.60" y="155.20" font-size="16" textLength="23.96" lengthAdjust="spacingAndGlyphs">4.2</text>
<polygon points="319.27,333.60 319.27,333.38 322.38,332.86 324.98,332.34 327.23,331.65 328.44,330.61 330.17,332.00 331.90,330.27 333.11,327.67 334.50,326.46 336.23,326.80 337.61,323.34 338.31,316.42 339.00,310.36 339.69,307.77 340.56,306.90 341.08,299.11 341.77,292.19 342.29,287.00 342.81,291.33 343.33,280.08 343.84,271.42 344.36,263.63 344.88,269.69 345.40,274.02 345.92,264.50 346.61,258.44 347.31,250.65 348.00,259.31 348.69,261.90 349.21,273.15 349.90,285.27 350.59,297.38 351.46,306.04 352.33,311.23 353.19,317.29 354.40,321.61 355.79,324.21 357.34,325.94 359.08,326.80 360.81,326.46 362.19,324.73 363.57,321.96 364.79,320.75 366.00,322.48 367.38,323.34 368.77,321.61 369.98,319.02 371.19,316.42 372.23,314.69 373.27,317.29 374.31,319.02 375.34,316.77 376.38,318.15 377.42,315.55 378.46,318.50 379.50,317.29 380.54,316.07 381.57,314.69 382.61,318.15 383.65,316.77 384.69,319.88 386.07,321.61 387.46,322.48 388.84,323.69 390.23,323.34 391.61,324.73 393.00,325.94 394.38,323.34 395.07,320.75 395.77,333.38 395.77,333.60" fill="#b4b4b4" stroke="none"/>
<polyline points="319.27,333.38 322.38,332.86 324.98,332.34 327.23,331.65 328.44,330.61 330.17,332.00 331.90,330.27 333.11,327.67 334.50,326.46 336.23,326.80 337.61,323.34 338.31,316.42 339.00,310.36 339.69,307.77 340.56,306.90 341.08,299.11 341.77,292.19 342.29,287.00 342.81,291.33 343.33,280.08 343.84,271.42 344.36,263.63 344.88,269.69 345.40,274.02 345.92,264.50 346.61,258.44 347.31,250.65 348.00,259.31 348.69,261.90 349.21,273.15 349.90,285.27 350.59,297.38 351.46,306.04 352.33,311.23 353.19,317.29 354.40,321.61 355.79,324.21 357.34,325.94 359.08,326.80 360.81,326.46 362.19,324.73 363.57,321.96 364.79,320.75 366.00,322.48 367.38,323.34 368.77,321.61 369.98,319.02 371.19,316.42 372.23,314.69 373.27,317.29 374.31,319.02 375.34,316.77 376.38,318.15 377.42,315.55 378.46,318.50 379.50,317.29 380.54,316.07 381.57,314.69 382.61,318.15 383.65,316.77 384.69,319.88 386.07,321.61 387.46,322.48 388.84,323.69 390.23,323.34 391.61,324.73 393.00,325.94 394.38,323.34 395.07,320.75 395.77,333.38" fill="none" stroke="#000" stroke-width="1.1" stroke-linejoin="round"/>
<rect x="318.55" y="248.05" width="77.30" height="85.40" fill="none" stroke="#000" stroke-width="2.7"/>
<line x1="318.70" y1="334.30" x2="318.70" y2="336.80" stroke="#000" stroke-width="1" stroke-linecap="butt"/>
<line x1="337.95" y1="334.30" x2="337.95" y2="336.80" stroke="#000" stroke-width="1" stroke-linecap="butt"/>
<line x1="357.20" y1="334.30" x2="357.20" y2="336.80" stroke="#000" stroke-width="1" stroke-linecap="butt"/>
<line x1="376.45" y1="334.30" x2="376.45" y2="336.80" stroke="#000" stroke-width="1" stroke-linecap="butt"/>
<line x1="395.70" y1="334.30" x2="395.70" y2="336.80" stroke="#000" stroke-width="1" stroke-linecap="butt"/>
<line x1="315.60" y1="251.25" x2="317.70" y2="251.25" stroke="#000" stroke-width="1" stroke-linecap="butt"/>
<line x1="315.60" y1="272.00" x2="317.70" y2="272.00" stroke="#000" stroke-width="1" stroke-linecap="butt"/>
<line x1="315.60" y1="292.50" x2="317.70" y2="292.50" stroke="#000" stroke-width="1" stroke-linecap="butt"/>
<line x1="315.60" y1="313.00" x2="317.70" y2="313.00" stroke="#000" stroke-width="1" stroke-linecap="butt"/>
<line x1="356.00" y1="275.90" x2="397.00" y2="275.90" stroke="#000" stroke-width="2.8" stroke-linecap="butt"/>
<line x1="356.90" y1="272.30" x2="356.90" y2="281.40" stroke="#000" stroke-width="2.0" stroke-linecap="butt"/>
<line x1="395.40" y1="272.60" x2="395.40" y2="281.10" stroke="#000" stroke-width="3.2" stroke-linecap="butt"/>
<text x="359.64" y="272.90" font-size="16" textLength="33.63" lengthAdjust="spacingAndGlyphs">35.0</text>
<polygon points="420.92,334.00 420.92,333.73 423.52,333.38 425.25,332.00 426.98,329.40 428.71,327.67 430.44,326.46 432.17,325.07 433.38,322.48 434.42,318.15 435.63,312.96 436.85,307.77 437.88,302.57 438.75,297.38 439.61,295.65 440.31,297.73 440.83,290.46 441.35,276.61 441.69,264.50 442.21,254.46 442.73,259.31 443.42,264.50 444.29,261.90 445.15,265.36 445.84,261.04 446.36,255.85 446.88,252.04 447.40,262.77 447.92,273.15 448.44,283.54 448.96,291.33 449.48,281.81 450.00,273.15 450.52,267.96 451.04,276.61 451.56,290.46 452.08,306.04 452.77,318.15 453.46,326.80 454.67,329.92 456.40,331.13 458.13,332.86 461.59,333.38 464.19,332.86 465.92,331.65 467.31,332.34 469.04,332.86 470.77,330.27 471.98,328.19 473.19,330.61 474.57,331.65 476.31,331.13 478.04,332.00 480.63,331.48 483.23,332.34 485.82,331.65 488.42,332.34 490.15,331.65 491.88,333.38 496.21,333.73 496.21,334.00" fill="#b4b4b4" stroke="none"/>
<polyline points="420.92,333.73 423.52,333.38 425.25,332.00 426.98,329.40 428.71,327.67 430.44,326.46 432.17,325.07 433.38,322.48 434.42,318.15 435.63,312.96 436.85,307.77 437.88,302.57 438.75,297.38 439.61,295.65 440.31,297.73 440.83,290.46 441.35,276.61 441.69,264.50 442.21,254.46 442.73,259.31 443.42,264.50 444.29,261.90 445.15,265.36 445.84,261.04 446.36,255.85 446.88,252.04 447.40,262.77 447.92,273.15 448.44,283.54 448.96,291.33 449.48,281.81 450.00,273.15 450.52,267.96 451.04,276.61 451.56,290.46 452.08,306.04 452.77,318.15 453.46,326.80 454.67,329.92 456.40,331.13 458.13,332.86 461.59,333.38 464.19,332.86 465.92,331.65 467.31,332.34 469.04,332.86 470.77,330.27 471.98,328.19 473.19,330.61 474.57,331.65 476.31,331.13 478.04,332.00 480.63,331.48 483.23,332.34 485.82,331.65 488.42,332.34 490.15,331.65 491.88,333.38 496.21,333.73" fill="none" stroke="#000" stroke-width="1.1" stroke-linejoin="round"/>
<rect x="419.65" y="248.05" width="77.10" height="85.80" fill="none" stroke="#000" stroke-width="2.7"/>
<line x1="419.80" y1="334.70" x2="419.80" y2="337.20" stroke="#000" stroke-width="1" stroke-linecap="butt"/>
<line x1="439.00" y1="334.70" x2="439.00" y2="337.20" stroke="#000" stroke-width="1" stroke-linecap="butt"/>
<line x1="458.20" y1="334.70" x2="458.20" y2="337.20" stroke="#000" stroke-width="1" stroke-linecap="butt"/>
<line x1="477.40" y1="334.70" x2="477.40" y2="337.20" stroke="#000" stroke-width="1" stroke-linecap="butt"/>
<line x1="496.60" y1="334.70" x2="496.60" y2="337.20" stroke="#000" stroke-width="1" stroke-linecap="butt"/>
<line x1="416.70" y1="265.90" x2="418.80" y2="265.90" stroke="#000" stroke-width="1" stroke-linecap="butt"/>
<line x1="416.70" y1="282.70" x2="418.80" y2="282.70" stroke="#000" stroke-width="1" stroke-linecap="butt"/>
<line x1="416.70" y1="300.00" x2="418.80" y2="300.00" stroke="#000" stroke-width="1" stroke-linecap="butt"/>
<line x1="416.70" y1="317.50" x2="418.80" y2="317.50" stroke="#000" stroke-width="1" stroke-linecap="butt"/>
<line x1="462.40" y1="277.40" x2="497.60" y2="277.40" stroke="#000" stroke-width="2.8" stroke-linecap="butt"/>
<line x1="463.30" y1="273.00" x2="463.30" y2="282.70" stroke="#000" stroke-width="2.0" stroke-linecap="butt"/>
<line x1="496.00" y1="273.30" x2="496.00" y2="282.40" stroke="#000" stroke-width="3.2" stroke-linecap="butt"/>
<text x="469.99" y="273.00" font-size="16" textLength="24.69" lengthAdjust="spacingAndGlyphs">5.3</text>
<line x1="316.00" y1="362.20" x2="486.00" y2="362.20" stroke="#000" stroke-width="2.7" stroke-linecap="butt"/>
<polygon points="484.00,355.40 498.00,362.30 484.00,369.30" fill="#000" stroke="none" stroke-width="1" stroke-linejoin="round"/>
<text x="385.16" y="381.80" font-size="16" textLength="40.90" lengthAdjust="spacingAndGlyphs">IFN-γ</text>
<text x="3.33" y="445.80" font-size="25.5" font-weight="700" class="b" textLength="18.00" lengthAdjust="spacingAndGlyphs">B</text>
<text x="1.81" y="638.60" font-size="25.5" font-weight="700" class="b" textLength="17.45" lengthAdjust="spacingAndGlyphs">C</text>
<text x="3.34" y="807.30" font-size="25.5" font-weight="700" class="b" textLength="17.90" lengthAdjust="spacingAndGlyphs">D</text>
<text><tspan x="110.77" y="445.20" font-size="16" textLength="92.14" lengthAdjust="spacingAndGlyphs">Mouse CD4</tspan> <tspan x="202.70" y="441.22" font-size="10" textLength="6.01" lengthAdjust="spacingAndGlyphs">+</tspan> <tspan x="213.62" y="445.20" font-size="16" textLength="40.93" lengthAdjust="spacingAndGlyphs">T cell</tspan></text>
<text><tspan x="308.08" y="445.20" font-size="16" textLength="95.33" lengthAdjust="spacingAndGlyphs">Human CD4</tspan> <tspan x="404.00" y="441.22" font-size="10" textLength="6.01" lengthAdjust="spacingAndGlyphs">+</tspan> <tspan x="414.91" y="445.20" font-size="16" textLength="41.55" lengthAdjust="spacingAndGlyphs">T cell</tspan></text>
<line x1="69.20" y1="455.40" x2="289.80" y2="455.40" stroke="#000" stroke-width="3.8" stroke-linecap="butt"/>
<line x1="341.00" y1="455.40" x2="431.50" y2="455.40" stroke="#000" stroke-width="3.8" stroke-linecap="butt"/>
<rect x="437.50" y="489.25" width="21.25" height="16.25" fill="#000"/>
<rect x="438.40" y="513.90" width="19.00" height="15.20" fill="#fff" stroke="#000" stroke-width="2"/>
<text x="464.86" y="504.60" font-size="16" textLength="48.18" lengthAdjust="spacingAndGlyphs">Empty</text>
<text x="465.53" y="526.85" font-size="16" textLength="42.50" lengthAdjust="spacingAndGlyphs">sHBZ</text>
<text x="30.10" y="579.36" font-size="16" textLength="72.41" lengthAdjust="spacingAndGlyphs" transform="rotate(-90 30.10 579.36)">IFN-γ (%)</text>
<text x="29.90" y="743.68" font-size="16" textLength="80.14" lengthAdjust="spacingAndGlyphs" transform="rotate(-90 29.90 743.68)">TNF-α (%)</text>
<text x="29.30" y="901.57" font-size="16" textLength="60.32" lengthAdjust="spacingAndGlyphs" transform="rotate(-90 29.30 901.57)">IL-2 (%)</text>
<rect x="93.00" y="515.75" width="28.50" height="99.15" fill="#000"/>
<line x1="107.50" y1="509.50" x2="107.50" y2="516.00" stroke="#000" stroke-width="2.7" stroke-linecap="butt"/>
<line x1="101.00" y1="509.50" x2="113.75" y2="509.50" stroke="#000" stroke-width="2.7" stroke-linecap="butt"/>
<rect x="121.65" y="588.75" width="25.85" height="25.75" fill="#fff" stroke="#000" stroke-width="1.8"/>
<line x1="133.25" y1="582.50" x2="133.25" y2="595.00" stroke="#000" stroke-width="2.4" stroke-linecap="butt"/>
<line x1="127.50" y1="582.50" x2="139.50" y2="582.50" stroke="#000" stroke-width="2.4" stroke-linecap="butt"/>
<line x1="127.50" y1="595.00" x2="139.50" y2="595.00" stroke="#000" stroke-width="2.4" stroke-linecap="butt"/>
<rect x="72.65" y="484.55" width="87.40" height="129.60" fill="none" stroke="#000" stroke-width="3.5"/>
<line x1="73.90" y1="506.90" x2="78.40" y2="506.90" stroke="#000" stroke-width="3.2" stroke-linecap="butt"/>
<line x1="73.90" y1="528.70" x2="78.40" y2="528.70" stroke="#000" stroke-width="3.2" stroke-linecap="butt"/>
<line x1="73.90" y1="550.20" x2="78.40" y2="550.20" stroke="#000" stroke-width="3.2" stroke-linecap="butt"/>
<line x1="73.90" y1="571.60" x2="78.40" y2="571.60" stroke="#000" stroke-width="3.2" stroke-linecap="butt"/>
<line x1="73.90" y1="593.60" x2="78.40" y2="593.60" stroke="#000" stroke-width="3.2" stroke-linecap="butt"/>
<text x="48.52" y="489.60" font-size="16" textLength="19.99" lengthAdjust="spacingAndGlyphs">30</text>
<text x="48.28" y="512.60" font-size="16" textLength="20.28" lengthAdjust="spacingAndGlyphs">25</text>
<text x="48.29" y="535.20" font-size="16" textLength="20.22" lengthAdjust="spacingAndGlyphs">20</text>
<text x="49.44" y="556.00" font-size="16" textLength="19.08" lengthAdjust="spacingAndGlyphs">15</text>
<text x="49.45" y="577.60" font-size="16" textLength="19.02" lengthAdjust="spacingAndGlyphs">10</text>
<text x="54.61" y="599.50" font-size="16" textLength="10.91" lengthAdjust="spacingAndGlyphs">5</text>
<text x="54.64" y="622.50" font-size="16" textLength="10.82" lengthAdjust="spacingAndGlyphs">0</text>
<rect x="219.50" y="526.00" width="28.00" height="88.60" fill="#000"/>
<line x1="233.25" y1="513.75" x2="233.25" y2="527.00" stroke="#000" stroke-width="2.7" stroke-linecap="butt"/>
<line x1="227.00" y1="513.75" x2="240.00" y2="513.75" stroke="#000" stroke-width="2.7" stroke-linecap="butt"/>
<rect x="247.65" y="596.25" width="26.35" height="17.95" fill="#fff" stroke="#000" stroke-width="1.8"/>
<line x1="260.50" y1="591.25" x2="260.50" y2="601.25" stroke="#000" stroke-width="2.4" stroke-linecap="butt"/>
<line x1="254.50" y1="591.25" x2="266.50" y2="591.25" stroke="#000" stroke-width="2.4" stroke-linecap="butt"/>
<line x1="254.50" y1="601.25" x2="266.50" y2="601.25" stroke="#000" stroke-width="2.4" stroke-linecap="butt"/>
<rect x="199.45" y="483.25" width="87.00" height="130.60" fill="none" stroke="#000" stroke-width="3.5"/>
<line x1="200.70" y1="502.30" x2="205.20" y2="502.30" stroke="#000" stroke-width="3.2" stroke-linecap="butt"/>
<line x1="200.70" y1="520.60" x2="205.20" y2="520.60" stroke="#000" stroke-width="3.2" stroke-linecap="butt"/>
<line x1="200.70" y1="539.20" x2="205.20" y2="539.20" stroke="#000" stroke-width="3.2" stroke-linecap="butt"/>
<line x1="200.70" y1="557.90" x2="205.20" y2="557.90" stroke="#000" stroke-width="3.2" stroke-linecap="butt"/>
<line x1="200.70" y1="576.30" x2="205.20" y2="576.30" stroke="#000" stroke-width="3.2" stroke-linecap="butt"/>
<line x1="200.70" y1="595.30" x2="205.20" y2="595.30" stroke="#000" stroke-width="3.2" stroke-linecap="butt"/>
<text x="171.41" y="489.60" font-size="16" textLength="20.04" lengthAdjust="spacingAndGlyphs">35</text>
<text x="171.42" y="508.00" font-size="16" textLength="19.99" lengthAdjust="spacingAndGlyphs">30</text>
<text x="171.18" y="526.40" font-size="16" textLength="20.28" lengthAdjust="spacingAndGlyphs">25</text>
<text x="171.19" y="545.00" font-size="16" textLength="20.22" lengthAdjust="spacingAndGlyphs">20</text>
<text x="172.29" y="563.60" font-size="16" textLength="19.13" lengthAdjust="spacingAndGlyphs">15</text>
<text x="172.29" y="581.90" font-size="16" textLength="19.08" lengthAdjust="spacingAndGlyphs">10</text>
<text x="179.70" y="601.50" font-size="16" textLength="11.14" lengthAdjust="spacingAndGlyphs">5</text>
<text x="179.72" y="626.20" font-size="16" textLength="11.05" lengthAdjust="spacingAndGlyphs">0</text>
<rect x="362.00" y="524.00" width="28.50" height="91.10" fill="#000"/>
<rect x="369.00" y="522.80" width="14.00" height="1.40" fill="#000"/>
<rect x="390.65" y="600.00" width="26.85" height="14.70" fill="#fff" stroke="#000" stroke-width="1.8"/>
<rect x="396.00" y="597.50" width="12.75" height="5.00" fill="#000"/>
<rect x="342.15" y="486.45" width="87.00" height="127.90" fill="none" stroke="#000" stroke-width="3.5"/>
<line x1="343.40" y1="512.00" x2="347.90" y2="512.00" stroke="#000" stroke-width="3.2" stroke-linecap="butt"/>
<line x1="343.40" y1="538.00" x2="347.90" y2="538.00" stroke="#000" stroke-width="3.2" stroke-linecap="butt"/>
<line x1="343.40" y1="564.00" x2="347.90" y2="564.00" stroke="#000" stroke-width="3.2" stroke-linecap="butt"/>
<line x1="343.40" y1="590.00" x2="347.90" y2="590.00" stroke="#000" stroke-width="3.2" stroke-linecap="butt"/>
<text x="315.50" y="491.50" font-size="16" textLength="19.38" lengthAdjust="spacingAndGlyphs">50</text>
<text x="315.81" y="517.90" font-size="16" textLength="19.06" lengthAdjust="spacingAndGlyphs">40</text>
<text x="315.54" y="544.00" font-size="16" textLength="19.34" lengthAdjust="spacingAndGlyphs">30</text>
<text x="315.32" y="569.70" font-size="16" textLength="19.57" lengthAdjust="spacingAndGlyphs">20</text>
<text x="316.98" y="595.60" font-size="16" textLength="17.85" lengthAdjust="spacingAndGlyphs">10</text>
<text x="324.46" y="624.40" font-size="16" textLength="10.47" lengthAdjust="spacingAndGlyphs">0</text>
<rect x="92.50" y="678.25" width="29.00" height="98.25" fill="#000"/>
<rect x="101.00" y="677.40" width="13.00" height="1.10" fill="#000"/>
<rect x="121.65" y="760.75" width="25.85" height="15.35" fill="#fff" stroke="#000" stroke-width="1.8"/>
<line x1="133.25" y1="757.00" x2="133.25" y2="765.75" stroke="#000" stroke-width="2.4" stroke-linecap="butt"/>
<line x1="127.50" y1="757.00" x2="140.00" y2="757.00" stroke="#000" stroke-width="2.4" stroke-linecap="butt"/>
<line x1="127.50" y1="765.75" x2="140.00" y2="765.75" stroke="#000" stroke-width="2.4" stroke-linecap="butt"/>
<rect x="72.65" y="646.55" width="87.60" height="129.20" fill="none" stroke="#000" stroke-width="3.5"/>
<line x1="73.90" y1="667.40" x2="78.40" y2="667.40" stroke="#000" stroke-width="3.2" stroke-linecap="butt"/>
<line x1="73.90" y1="689.30" x2="78.40" y2="689.30" stroke="#000" stroke-width="3.2" stroke-linecap="butt"/>
<line x1="73.90" y1="711.30" x2="78.40" y2="711.30" stroke="#000" stroke-width="3.2" stroke-linecap="butt"/>
<line x1="73.90" y1="732.60" x2="78.40" y2="732.60" stroke="#000" stroke-width="3.2" stroke-linecap="butt"/>
<line x1="73.90" y1="754.70" x2="78.40" y2="754.70" stroke="#000" stroke-width="3.2" stroke-linecap="butt"/>
<text x="38.66" y="672.60" font-size="16" textLength="27.18" lengthAdjust="spacingAndGlyphs">100</text>
<text x="48.42" y="695.00" font-size="16" textLength="20.09" lengthAdjust="spacingAndGlyphs">80</text>
<text x="48.28" y="717.00" font-size="16" textLength="20.23" lengthAdjust="spacingAndGlyphs">60</text>
<text x="48.79" y="738.40" font-size="16" textLength="19.70" lengthAdjust="spacingAndGlyphs">40</text>
<text x="48.29" y="760.20" font-size="16" textLength="20.22" lengthAdjust="spacingAndGlyphs">20</text>
<text x="57.00" y="782.90" font-size="16" textLength="10.01" lengthAdjust="spacingAndGlyphs">0</text>
<rect x="222.50" y="678.25" width="28.75" height="97.55" fill="#000"/>
<rect x="231.00" y="677.40" width="12.00" height="1.10" fill="#000"/>
<rect x="251.40" y="765.50" width="24.85" height="9.90" fill="#fff" stroke="#000" stroke-width="1.8"/>
<rect x="256.25" y="762.50" width="13.25" height="6.25" fill="#000"/>
<rect x="199.45" y="645.35" width="86.10" height="129.70" fill="none" stroke="#000" stroke-width="3.5"/>
<line x1="200.70" y1="665.80" x2="205.20" y2="665.80" stroke="#000" stroke-width="3.2" stroke-linecap="butt"/>
<line x1="200.70" y1="688.00" x2="205.20" y2="688.00" stroke="#000" stroke-width="3.2" stroke-linecap="butt"/>
<line x1="200.70" y1="709.70" x2="205.20" y2="709.70" stroke="#000" stroke-width="3.2" stroke-linecap="butt"/>
<line x1="200.70" y1="731.10" x2="205.20" y2="731.10" stroke="#000" stroke-width="3.2" stroke-linecap="butt"/>
<line x1="200.70" y1="752.70" x2="205.20" y2="752.70" stroke="#000" stroke-width="3.2" stroke-linecap="butt"/>
<text x="166.89" y="672.10" font-size="16" textLength="28.68" lengthAdjust="spacingAndGlyphs">100</text>
<text x="173.92" y="693.60" font-size="16" textLength="19.87" lengthAdjust="spacingAndGlyphs">80</text>
<text x="173.79" y="715.30" font-size="16" textLength="20.02" lengthAdjust="spacingAndGlyphs">60</text>
<text x="174.30" y="737.00" font-size="16" textLength="19.49" lengthAdjust="spacingAndGlyphs">40</text>
<text x="173.80" y="758.40" font-size="16" textLength="20.01" lengthAdjust="spacingAndGlyphs">20</text>
<text x="179.83" y="782.90" font-size="16" textLength="10.94" lengthAdjust="spacingAndGlyphs">0</text>
<rect x="362.00" y="675.50" width="28.75" height="100.30" fill="#000"/>
<rect x="370.00" y="674.20" width="13.00" height="1.60" fill="#000"/>
<rect x="390.90" y="763.75" width="25.35" height="11.65" fill="#fff" stroke="#000" stroke-width="1.8"/>
<line x1="402.50" y1="761.25" x2="402.50" y2="767.00" stroke="#000" stroke-width="2.6" stroke-linecap="butt"/>
<line x1="396.25" y1="761.25" x2="408.75" y2="761.25" stroke="#000" stroke-width="2.6" stroke-linecap="butt"/>
<line x1="396.25" y1="767.00" x2="408.75" y2="767.00" stroke="#000" stroke-width="2.6" stroke-linecap="butt"/>
<rect x="341.65" y="645.35" width="87.60" height="129.70" fill="none" stroke="#000" stroke-width="3.5"/>
<line x1="342.90" y1="671.60" x2="347.40" y2="671.60" stroke="#000" stroke-width="3.2" stroke-linecap="butt"/>
<line x1="342.90" y1="697.70" x2="347.40" y2="697.70" stroke="#000" stroke-width="3.2" stroke-linecap="butt"/>
<line x1="342.90" y1="724.10" x2="347.40" y2="724.10" stroke="#000" stroke-width="3.2" stroke-linecap="butt"/>
<line x1="342.90" y1="750.10" x2="347.40" y2="750.10" stroke="#000" stroke-width="3.2" stroke-linecap="butt"/>
<text x="307.52" y="654.00" font-size="16" textLength="27.93" lengthAdjust="spacingAndGlyphs">100</text>
<text x="313.55" y="678.20" font-size="16" textLength="19.12" lengthAdjust="spacingAndGlyphs">80</text>
<text x="313.42" y="704.30" font-size="16" textLength="19.26" lengthAdjust="spacingAndGlyphs">60</text>
<text x="313.91" y="730.40" font-size="16" textLength="18.75" lengthAdjust="spacingAndGlyphs">40</text>
<text x="313.43" y="756.60" font-size="16" textLength="19.25" lengthAdjust="spacingAndGlyphs">20</text>
<text x="324.46" y="783.30" font-size="16" textLength="10.47" lengthAdjust="spacingAndGlyphs">0</text>
<rect x="93.00" y="843.75" width="28.50" height="98.65" fill="#000"/>
<line x1="107.50" y1="838.75" x2="107.50" y2="844.00" stroke="#000" stroke-width="2.7" stroke-linecap="butt"/>
<line x1="101.25" y1="838.75" x2="113.75" y2="838.75" stroke="#000" stroke-width="2.7" stroke-linecap="butt"/>
<rect x="121.65" y="897.25" width="25.85" height="44.75" fill="#fff" stroke="#000" stroke-width="1.8"/>
<line x1="133.50" y1="894.00" x2="133.50" y2="900.50" stroke="#000" stroke-width="2.4" stroke-linecap="butt"/>
<line x1="127.50" y1="894.00" x2="140.00" y2="894.00" stroke="#000" stroke-width="2.4" stroke-linecap="butt"/>
<line x1="127.50" y1="900.50" x2="140.00" y2="900.50" stroke="#000" stroke-width="2.4" stroke-linecap="butt"/>
<rect x="72.15" y="811.65" width="87.70" height="130.00" fill="none" stroke="#000" stroke-width="3.5"/>
<line x1="73.40" y1="844.50" x2="77.30" y2="844.50" stroke="#000" stroke-width="3.2" stroke-linecap="butt"/>
<line x1="73.40" y1="877.10" x2="77.30" y2="877.10" stroke="#000" stroke-width="3.2" stroke-linecap="butt"/>
<line x1="73.40" y1="910.00" x2="77.30" y2="910.00" stroke="#000" stroke-width="3.2" stroke-linecap="butt"/>
<text x="47.54" y="817.60" font-size="16" textLength="18.92" lengthAdjust="spacingAndGlyphs">20</text>
<text x="48.79" y="850.40" font-size="16" textLength="17.68" lengthAdjust="spacingAndGlyphs">15</text>
<text x="48.79" y="883.40" font-size="16" textLength="17.63" lengthAdjust="spacingAndGlyphs">10</text>
<text x="56.28" y="916.50" font-size="16" textLength="9.97" lengthAdjust="spacingAndGlyphs">5</text>
<text x="57.00" y="952.00" font-size="16" textLength="10.01" lengthAdjust="spacingAndGlyphs">0</text>
<rect x="223.25" y="829.25" width="28.50" height="112.95" fill="#000"/>
<rect x="231.00" y="827.30" width="12.75" height="2.20" fill="#000"/>
<rect x="251.90" y="931.50" width="26.85" height="10.30" fill="#fff" stroke="#000" stroke-width="1.8"/>
<line x1="265.50" y1="928.50" x2="265.50" y2="934.75" stroke="#000" stroke-width="2.4" stroke-linecap="butt"/>
<line x1="259.50" y1="928.50" x2="272.00" y2="928.50" stroke="#000" stroke-width="2.4" stroke-linecap="butt"/>
<line x1="259.50" y1="934.75" x2="272.00" y2="934.75" stroke="#000" stroke-width="2.4" stroke-linecap="butt"/>
<rect x="199.45" y="811.65" width="86.10" height="129.80" fill="none" stroke="#000" stroke-width="3.5"/>
<line x1="200.70" y1="833.90" x2="205.20" y2="833.90" stroke="#000" stroke-width="3.2" stroke-linecap="butt"/>
<line x1="200.70" y1="855.40" x2="205.20" y2="855.40" stroke="#000" stroke-width="3.2" stroke-linecap="butt"/>
<line x1="200.70" y1="876.90" x2="205.20" y2="876.90" stroke="#000" stroke-width="3.2" stroke-linecap="butt"/>
<line x1="200.70" y1="898.60" x2="205.20" y2="898.60" stroke="#000" stroke-width="3.2" stroke-linecap="butt"/>
<line x1="200.70" y1="920.30" x2="205.20" y2="920.30" stroke="#000" stroke-width="3.2" stroke-linecap="butt"/>
<text x="175.30" y="813.50" font-size="16" textLength="20.31" lengthAdjust="spacingAndGlyphs">30</text>
<text x="175.07" y="838.70" font-size="16" textLength="20.61" lengthAdjust="spacingAndGlyphs">25</text>
<text x="175.07" y="861.00" font-size="16" textLength="20.55" lengthAdjust="spacingAndGlyphs">20</text>
<text x="176.17" y="882.40" font-size="16" textLength="19.47" lengthAdjust="spacingAndGlyphs">15</text>
<text x="176.17" y="903.70" font-size="16" textLength="19.41" lengthAdjust="spacingAndGlyphs">10</text>
<text x="183.71" y="925.00" font-size="16" textLength="10.91" lengthAdjust="spacingAndGlyphs">5</text>
<text x="183.74" y="943.10" font-size="16" textLength="10.82" lengthAdjust="spacingAndGlyphs">0</text>
<rect x="362.00" y="839.25" width="28.75" height="102.15" fill="#000"/>
<rect x="390.90" y="882.75" width="25.35" height="58.25" fill="#fff" stroke="#000" stroke-width="1.8"/>
<line x1="402.00" y1="875.00" x2="402.00" y2="890.75" stroke="#000" stroke-width="2.4" stroke-linecap="butt"/>
<line x1="396.25" y1="875.00" x2="408.00" y2="875.00" stroke="#000" stroke-width="2.4" stroke-linecap="butt"/>
<line x1="396.25" y1="890.75" x2="408.00" y2="890.75" stroke="#000" stroke-width="2.4" stroke-linecap="butt"/>
<rect x="341.85" y="810.55" width="87.40" height="130.10" fill="none" stroke="#000" stroke-width="3.5"/>
<line x1="343.10" y1="832.80" x2="347.60" y2="832.80" stroke="#000" stroke-width="3.2" stroke-linecap="butt"/>
<line x1="343.10" y1="854.30" x2="347.60" y2="854.30" stroke="#000" stroke-width="3.2" stroke-linecap="butt"/>
<line x1="343.10" y1="876.10" x2="347.60" y2="876.10" stroke="#000" stroke-width="3.2" stroke-linecap="butt"/>
<line x1="343.10" y1="897.70" x2="347.60" y2="897.70" stroke="#000" stroke-width="3.2" stroke-linecap="butt"/>
<line x1="343.10" y1="919.40" x2="347.60" y2="919.40" stroke="#000" stroke-width="3.2" stroke-linecap="butt"/>
<text x="303.42" y="836.70" font-size="16" textLength="27.93" lengthAdjust="spacingAndGlyphs">100</text>
<text x="311.35" y="857.90" font-size="16" textLength="19.12" lengthAdjust="spacingAndGlyphs">80</text>
<text x="311.22" y="878.80" font-size="16" textLength="19.26" lengthAdjust="spacingAndGlyphs">60</text>
<text x="311.71" y="901.80" font-size="16" textLength="18.75" lengthAdjust="spacingAndGlyphs">40</text>
<text x="311.23" y="924.90" font-size="16" textLength="19.25" lengthAdjust="spacingAndGlyphs">20</text>
<text x="319.18" y="947.90" font-size="16" textLength="10.24" lengthAdjust="spacingAndGlyphs">0</text>
<text x="109.36" y="964.75" font-size="16" textLength="23.04" lengthAdjust="spacingAndGlyphs">(+)</text>
<text x="237.65" y="964.75" font-size="16" textLength="22.20" lengthAdjust="spacingAndGlyphs">(+)</text>
<text x="380.90" y="964.75" font-size="16" textLength="22.20" lengthAdjust="spacingAndGlyphs">(+)</text>
<line x1="82.30" y1="973.90" x2="160.20" y2="973.90" stroke="#000" stroke-width="3.7" stroke-linecap="butt"/>
<line x1="209.60" y1="973.90" x2="287.60" y2="973.90" stroke="#000" stroke-width="3.7" stroke-linecap="butt"/>
<line x1="348.60" y1="973.90" x2="426.80" y2="973.90" stroke="#000" stroke-width="3.7" stroke-linecap="butt"/>
<text x="59.07" y="994.90" font-size="16" textLength="120.81" lengthAdjust="spacingAndGlyphs">PMA/ionomycin</text>
<text x="202.47" y="994.90" font-size="16" textLength="93.28" lengthAdjust="spacingAndGlyphs">Anti-CD3/28</text>
<text x="331.57" y="994.90" font-size="16" textLength="120.81" lengthAdjust="spacingAndGlyphs">PMA/ionomycin</text>
</svg>
</body></html>
